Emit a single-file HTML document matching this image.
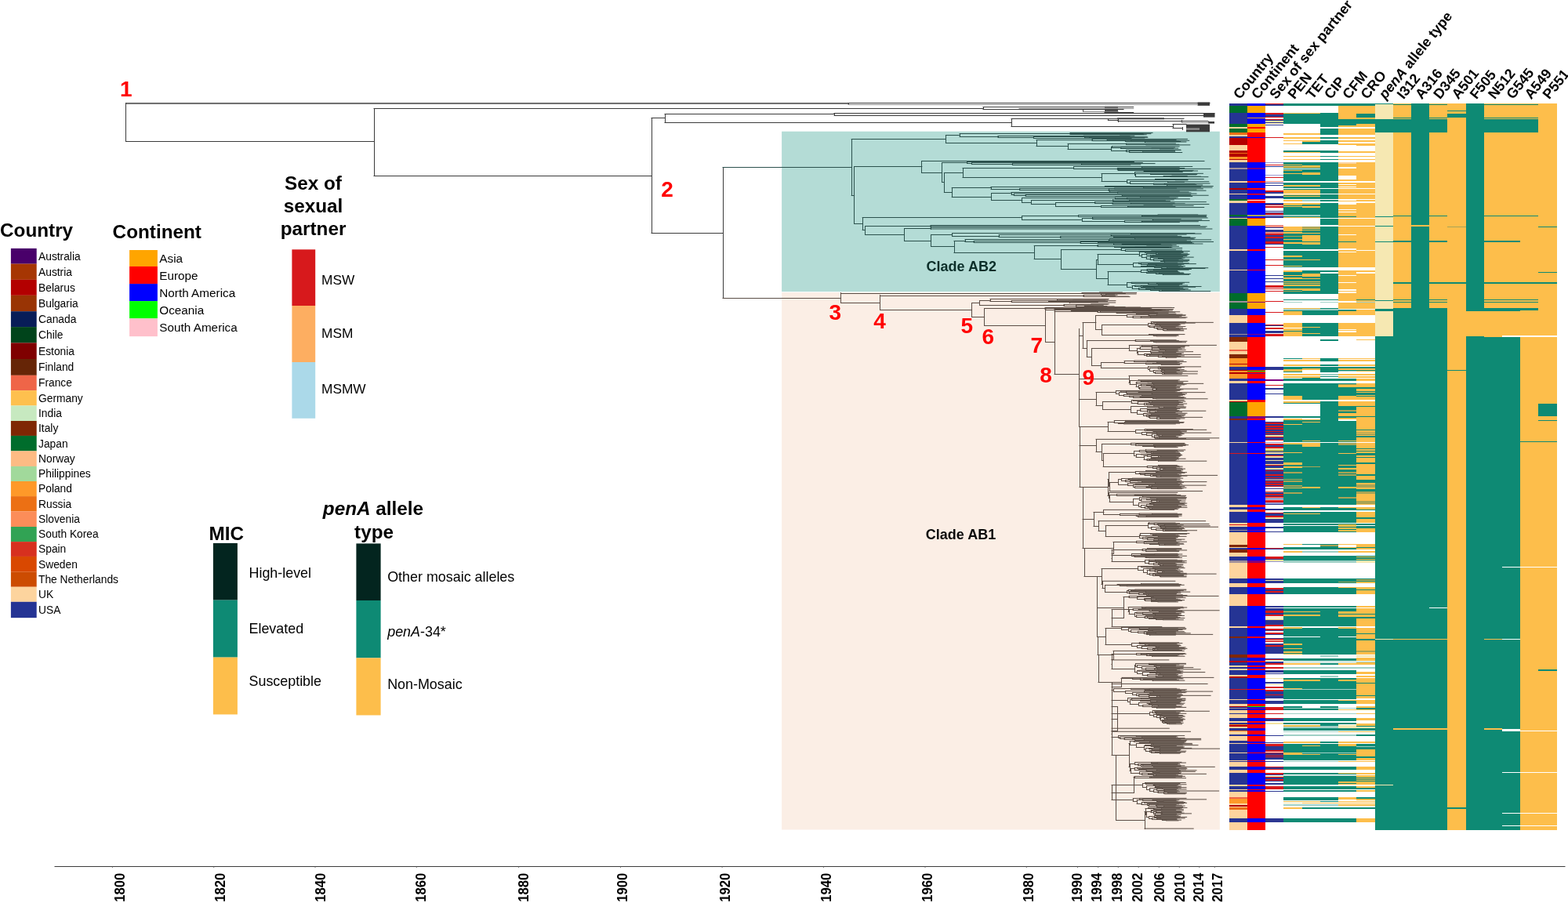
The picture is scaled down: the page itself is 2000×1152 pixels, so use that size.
<!DOCTYPE html>
<html><head><meta charset="utf-8"><title>Phylogeny</title>
<style>
html,body{margin:0;padding:0;background:#fff;}
body{width:2000px;height:1152px;overflow:hidden;position:relative;}
svg{position:absolute;left:0;top:0;}
text{font-family:'Liberation Sans', Arial, Helvetica, sans-serif;fill:#000;}
</style></head><body>
<svg width="2000" height="1152" viewBox="0 0 2000 1152">
<rect x="997.1" y="167.7" width="558.7" height="204.4" fill="#b4dcd6"/>
<rect x="997.1" y="373.1" width="558.7" height="685.4" fill="#fbeee5"/>
<rect x="160.8" y="130.9" width="921.2" height="2.0" fill="#6a6a6a"/>
<rect x="1527.6" y="130.4" width="15.4" height="4.4" fill="#3b3b3b"/>
<rect x="1409.0" y="140.2" width="17.0" height="3.0" fill="#3b3b3b"/>
<rect x="1409.0" y="135.8" width="17.0" height="1.8" fill="#3b3b3b"/>
<rect x="1535.0" y="144.5" width="14.5" height="5.1" fill="#3b3b3b"/>
<rect x="1425.0" y="150.3" width="60.0" height="2.0" fill="#3b3b3b"/>
<rect x="1541.0" y="155.0" width="8.0" height="2.6" fill="#3b3b3b"/>
<rect x="1513.0" y="158.6" width="30.0" height="9.7" fill="#3b3b3b"/>
<rect x="1513.0" y="163.3" width="17.0" height="2.5" fill="#8a8a8a"/>
<path d="M1082.0 131.50H1543.0M160.8 180.50H477.0M477.0 138.50H1254.0M1254.0 136.50H1445.7M1254.0 139.50H1381.8M1381.8 139.50H1433.0M1409.0 143.50H1445.7M477.0 224.50H831.0M831.0 150.50H848.0M848.0 145.50H1064.0M1064.0 144.50H1549.0M1064.0 147.50H1535.0M848.0 156.50H1290.0M1290.0 151.50H1413.3M1413.3 151.50H1510.0M1413.3 153.50H1426.0M1426.0 154.50H1507.4M1507.4 154.50H1541.0M1290.0 161.50H1496.0M1496.0 158.50H1513.0M1496.0 163.50H1508.0M831.0 297.50H922.0M160.5 131.5V180.5M1082.5 131.5V133.5M477.5 138.5V224.5M1254.5 136.5V139.5M1381.5 139.5V142.5M831.5 150.5V297.5M848.5 145.5V156.5M1064.5 144.5V147.5M1290.5 151.5V161.5M1413.5 151.5V153.5M1426.5 152.5V155.5M1507.5 153.5V156.5M1496.5 158.5V163.5M1508.5 162.5V165.5M922.5 213.5V380.5" stroke="#3b3b3b" stroke-width="1" fill="none" stroke-linecap="square"/>
<path d="M1082.0 133.50H1527.6M1300.0 138.50H1445.7M1381.8 142.50H1426.0M1507.4 156.50H1541.0" stroke="#8a8a8a" stroke-width="1" fill="none" stroke-linecap="square"/>
<path d="M922.0 213.50H1086.2M1224.0 170.50H1365.0M1365.0 169.40H1470.0M1365.0 171.50H1365.8M1365.8 170.50H1418.6M1418.6 170.45H1457.9M1418.6 170.68H1467.8M1365.8 171.50H1428.7M1428.7 171.65H1458.9M1428.7 171.80H1462.2M1224.0 174.50H1273.0M1273.0 173.50H1382.3M1382.3 173.20H1446.8M1382.3 173.67H1441.1M1273.0 175.50H1318.4M1318.4 174.50H1383.7M1383.7 174.71H1463.1M1383.7 175.24H1463.8M1318.4 176.50H1389.5M1389.5 175.92H1459.8M1389.5 176.40H1443.0M1206.4 172.50H1224.0M1322.0 178.50H1393.0M1393.0 177.40H1514.4M1393.0 179.50H1412.1M1412.1 178.35H1500.0M1412.1 179.50H1435.4M1435.4 179.30H1516.7M1435.4 180.50H1442.9M1442.9 179.93H1503.4M1442.9 180.50H1460.3M1460.3 180.48H1505.7M1460.3 181.00H1512.9M1322.0 186.50H1362.0M1362.0 183.50H1436.7M1436.7 183.00H1499.4M1436.7 184.50H1461.9M1461.9 184.30H1503.8M1461.9 184.90H1517.8M1362.0 190.50H1417.8M1417.8 187.50H1418.6M1418.6 186.88H1504.1M1418.6 188.50H1430.0M1430.0 188.12H1498.4M1430.0 189.50H1469.1M1469.1 189.16H1502.6M1469.1 189.58H1496.7M1417.8 192.50H1436.9M1436.9 191.50H1479.5M1479.5 191.19H1505.4M1479.5 191.44H1506.1M1436.9 193.50H1440.8M1440.8 192.76H1498.5M1440.8 194.50H1457.6M1457.6 193.80H1498.6M1457.6 194.50H1507.7M1206.4 182.50H1322.0M1086.2 177.50H1206.4M1175.9 205.50H1536.0M1201.6 207.50H1233.8M1233.8 206.50H1446.3M1233.8 208.50H1239.4M1239.4 207.47H1457.3M1239.4 209.50H1291.4M1291.4 208.59H1473.0M1291.4 210.50H1379.9M1379.9 209.96H1454.8M1379.9 210.50H1441.7M1228.0 214.50H1369.6M1369.6 212.50H1456.3M1456.3 212.50H1520.7M1456.3 213.12H1504.2M1369.6 215.50H1425.4M1425.4 214.50H1510.7M1425.4 216.50H1426.2M1426.2 215.38H1544.0M1426.2 217.50H1427.0M1427.0 216.41H1504.1M1427.0 217.50H1459.1M1459.1 217.46H1522.1M1459.1 218.50H1459.9M1459.9 217.98H1527.5M1459.9 218.50H1520.6M1228.0 226.50H1405.0M1405.0 221.50H1447.6M1447.6 219.50H1508.2M1447.6 223.50H1448.4M1448.4 221.50H1467.6M1467.6 221.33H1534.4M1467.6 222.50H1495.0M1495.0 222.42H1526.7M1495.0 222.86H1525.6M1448.4 225.50H1484.2M1484.2 224.65H1514.2M1484.2 225.50H1492.9M1492.9 225.23H1531.4M1492.9 225.66H1540.9M1405.0 231.50H1438.0M1438.0 229.50H1473.5M1473.5 228.51H1535.2M1473.5 229.50H1499.4M1499.4 229.34H1514.7M1499.4 229.77H1515.0M1438.0 233.50H1441.8M1441.8 231.50H1489.5M1489.5 231.76H1541.8M1489.5 232.21H1510.4M1441.8 234.50H1471.5M1471.5 234.07H1543.0M1471.5 235.50H1485.1M1485.1 234.98H1523.9M1485.1 235.50H1488.7M1488.7 235.52H1525.8M1488.7 236.00H1533.7M1204.4 220.50H1228.0M1214.2 239.50H1264.0M1264.0 238.50H1409.4M1409.4 237.50H1547.2M1409.4 238.50H1458.8M1458.8 238.71H1531.4M1458.8 239.20H1546.0M1264.0 241.50H1300.8M1300.8 240.50H1421.7M1421.7 240.05H1500.5M1421.7 240.89H1534.3M1300.8 242.50H1414.2M1414.2 242.00H1525.9M1414.2 243.50H1415.3M1415.3 243.13H1538.0M1415.3 244.00H1504.2M1264.6 246.50H1290.0M1290.0 245.50H1425.7M1425.7 245.00H1516.1M1425.7 246.02H1518.9M1290.0 248.50H1293.3M1293.3 247.04H1526.0M1293.3 249.50H1308.2M1308.2 248.50H1431.2M1431.2 248.55H1518.7M1431.2 249.25H1541.1M1308.2 250.50H1454.9M1454.9 250.46H1520.7M1454.9 251.00H1491.1M1264.6 255.50H1303.8M1303.8 252.50H1422.4M1422.4 252.00H1502.2M1422.4 253.50H1437.6M1437.6 253.00H1499.8M1437.6 253.80H1517.4M1303.8 258.50H1315.4M1315.4 255.50H1419.8M1419.8 254.96H1497.2M1419.8 256.50H1440.9M1440.9 255.77H1486.4M1440.9 256.29H1492.3M1315.4 260.50H1346.6M1346.6 258.50H1396.8M1396.8 257.63H1538.3M1396.8 259.50H1419.0M1419.0 259.09H1498.0M1419.0 260.50H1442.3M1442.3 259.95H1511.1M1442.3 260.56H1541.9M1346.6 263.50H1404.5M1404.5 262.50H1459.1M1459.1 262.06H1495.3M1459.1 262.41H1522.1M1404.5 264.50H1438.5M1438.5 263.80H1498.9M1438.5 264.50H1535.7M1214.2 251.50H1264.6M1204.4 245.50H1214.2M1201.6 232.50H1204.4M1175.9 220.50H1201.6M1089.6 212.50H1175.9M1100.2 277.50H1303.8M1303.8 275.50H1375.6M1375.6 274.50H1477.1M1477.1 274.00H1527.7M1477.1 274.38H1538.9M1375.6 276.50H1456.7M1456.7 275.76H1538.3M1456.7 276.54H1538.6M1303.8 280.50H1380.3M1380.3 278.50H1393.8M1393.8 277.93H1540.1M1393.8 279.50H1470.2M1470.2 279.57H1506.0M1470.2 280.07H1532.7M1380.3 282.50H1434.4M1434.4 281.45H1542.4M1434.4 283.50H1456.3M1456.3 282.72H1528.3M1456.3 283.50H1504.3M1103.6 288.50H1187.0M1187.0 287.50H1530.4M1187.0 289.00H1539.2M1153.5 291.50H1187.0M1187.0 290.00H1537.4M1187.0 292.00H1545.9M1187.6 299.50H1214.8M1214.8 297.50H1442.6M1442.6 297.50H1523.8M1442.6 298.11H1532.1M1214.8 301.50H1274.1M1274.1 299.50H1417.0M1417.0 299.20H1513.1M1417.0 300.11H1501.4M1274.1 302.50H1352.9M1352.9 301.50H1420.7M1420.7 301.41H1506.8M1420.7 302.40H1517.9M1352.9 303.50H1447.5M1447.5 303.32H1524.7M1447.5 304.00H1522.0M1217.0 307.50H1231.0M1231.0 305.50H1415.5M1415.5 305.00H1523.3M1415.5 305.88H1544.6M1231.0 308.50H1242.2M1242.2 307.50H1414.2M1414.2 306.84H1513.3M1414.2 307.84H1518.6M1242.2 309.50H1378.2M1378.2 308.50H1400.7M1400.7 308.49H1547.5M1400.7 309.38H1520.2M1378.2 310.50H1420.5M1420.5 310.33H1522.5M1420.5 311.00H1533.9M1319.2 313.50H1400.0M1400.0 312.50H1431.3M1431.3 311.50H1480.3M1431.3 312.50H1451.8M1451.8 312.26H1493.8M1451.8 312.50H1462.9M1462.9 312.66H1500.2M1462.9 312.90H1494.9M1400.0 314.50H1421.7M1421.7 314.32H1503.5M1421.7 315.50H1448.0M1448.0 315.20H1493.5M1448.0 315.50H1461.2M1461.2 315.75H1490.5M1461.2 316.00H1494.9M1353.4 318.50H1430.0M1430.0 316.50H1507.6M1430.0 319.50H1435.4M1435.4 318.50H1468.8M1468.8 318.52H1499.5M1468.8 318.98H1507.5M1435.4 320.50H1469.4M1469.4 320.48H1517.2M1469.4 321.00H1504.3M1461.0 321.50H1508.9M1461.0 322.24H1509.1M1453.1 321.50H1461.0M1474.9 322.98H1514.7M1477.8 323.71H1506.2M1477.8 324.45H1516.9M1474.9 324.50H1477.8M1462.6 323.50H1474.9M1467.6 325.19H1515.1M1470.8 325.93H1513.1M1470.8 326.67H1513.7M1467.6 326.50H1470.8M1462.6 325.50H1467.6M1456.2 324.50H1462.6M1462.2 327.40H1508.5M1470.9 328.14H1522.2M1470.9 328.88H1511.0M1467.3 328.50H1470.9M1477.6 329.62H1506.9M1484.2 330.36H1508.9M1484.2 331.09H1516.8M1477.6 330.50H1484.2M1471.6 330.50H1477.6M1484.0 331.83H1503.0M1484.0 332.57H1516.7M1480.6 332.50H1484.0M1485.2 333.31H1514.9M1485.2 334.05H1508.6M1480.6 333.50H1485.2M1471.6 332.50H1480.6M1467.3 331.50H1471.6M1462.2 330.50H1467.3M1456.2 328.50H1462.2M1453.1 326.50H1456.2M1400.0 324.50H1453.1M1452.6 335.12H1501.6M1455.4 335.86H1516.3M1464.8 336.60H1525.3M1474.7 337.33H1509.9M1474.7 338.07H1506.6M1464.8 337.50H1474.7M1455.4 337.50H1464.8M1452.6 336.50H1455.4M1445.5 335.50H1452.6M1463.2 338.81H1502.3M1463.2 339.55H1511.4M1455.8 339.50H1463.2M1472.9 340.29H1508.8M1481.8 341.02H1504.4M1488.4 341.76H1540.7M1488.4 342.50H1536.9M1481.8 342.50H1488.4M1472.9 341.50H1481.8M1455.8 340.50H1472.9M1445.5 340.50H1455.8M1400.0 337.50H1445.5M1398.5 331.50H1400.0M1471.4 343.50H1519.3M1471.4 344.25H1516.1M1463.1 343.50H1471.4M1465.0 345.00H1501.7M1467.0 345.75H1501.7M1467.0 346.50H1502.9M1465.0 346.50H1467.0M1463.1 345.50H1465.0M1455.3 344.50H1463.1M1462.5 347.25H1504.4M1474.6 348.00H1509.2M1478.6 348.75H1509.9M1483.3 349.50H1518.3M1483.3 350.25H1516.5M1478.6 349.50H1483.3M1474.6 349.50H1478.6M1462.5 348.50H1474.6M1455.3 347.50H1462.5M1413.0 346.50H1455.3M1443.2 360.25H1516.7M1464.9 361.00H1510.5M1475.4 361.75H1508.4M1477.4 362.50H1507.5M1477.4 363.25H1504.1M1475.4 362.50H1477.4M1464.9 362.50H1475.4M1443.2 361.50H1464.9M1437.9 360.50H1443.2M1447.9 364.00H1514.6M1455.7 364.75H1503.6M1458.0 365.50H1532.0M1472.3 366.25H1524.6M1472.3 367.00H1504.7M1458.0 366.50H1472.3M1455.7 366.50H1458.0M1447.9 365.50H1455.7M1444.1 364.50H1447.9M1452.9 367.75H1508.8M1461.8 368.50H1515.2M1467.5 369.25H1511.0M1478.9 370.00H1518.3M1482.1 370.75H1504.4M1482.1 371.50H1543.7M1478.9 371.50H1482.1M1467.5 370.50H1478.9M1461.8 369.50H1467.5M1452.9 369.50H1461.8M1444.1 368.50H1452.9M1437.9 366.50H1444.1M1413.0 363.50H1437.9M1398.5 355.50H1413.0M1353.4 343.50H1398.5M1319.2 330.50H1353.4M1217.0 322.50H1319.2M1187.6 314.50H1217.0M1153.5 307.50H1187.6M1103.6 299.50H1153.5M1100.2 293.50H1103.6M1089.6 285.50H1100.2M1086.2 249.50H1089.6M1365.5 169.5V171.5M1365.5 170.5V171.5M1418.5 170.5V170.5M1428.5 171.5V171.5M1273.5 173.5V175.5M1382.5 173.5V173.5M1318.5 174.5V176.5M1383.5 174.5V175.5M1389.5 175.5V176.5M1224.5 170.5V174.5M1393.5 177.5V179.5M1412.5 178.5V179.5M1435.5 179.5V180.5M1442.5 179.5V180.5M1460.5 180.5V181.5M1362.5 183.5V190.5M1436.5 183.5V184.5M1461.5 184.5V184.5M1417.5 187.5V192.5M1418.5 186.5V188.5M1429.5 188.5V189.5M1469.5 189.5V189.5M1436.5 191.5V193.5M1479.5 191.5V191.5M1440.5 192.5V194.5M1457.5 193.5V194.5M1322.5 178.5V186.5M1206.5 172.5V182.5M1233.5 206.5V208.5M1239.5 207.5V209.5M1291.5 208.5V210.5M1379.5 209.5V210.5M1369.5 212.5V215.5M1456.5 212.5V213.5M1425.5 214.5V216.5M1426.5 215.5V217.5M1427.5 216.5V217.5M1459.5 217.5V218.5M1459.5 217.5V218.5M1405.5 221.5V231.5M1447.5 219.5V223.5M1448.5 221.5V225.5M1467.5 221.5V222.5M1495.5 222.5V222.5M1484.5 224.5V225.5M1492.5 225.5V225.5M1437.5 229.5V233.5M1473.5 228.5V229.5M1499.5 229.5V229.5M1441.5 231.5V234.5M1489.5 231.5V232.5M1471.5 234.5V235.5M1485.5 234.5V235.5M1488.5 235.5V236.5M1228.5 214.5V226.5M1264.5 238.5V241.5M1409.5 237.5V238.5M1458.5 238.5V239.5M1300.5 240.5V242.5M1421.5 240.5V240.5M1414.5 241.5V243.5M1415.5 243.5V244.5M1290.5 245.5V248.5M1425.5 245.5V246.5M1293.5 247.5V249.5M1308.5 248.5V250.5M1431.5 248.5V249.5M1454.5 250.5V251.5M1303.5 252.5V258.5M1422.5 252.5V253.5M1437.5 252.5V253.5M1315.5 255.5V260.5M1419.5 254.5V256.5M1440.5 255.5V256.5M1346.5 258.5V263.5M1396.5 257.5V259.5M1419.5 259.5V260.5M1442.5 259.5V260.5M1404.5 262.5V264.5M1459.5 262.5V262.5M1438.5 263.5V264.5M1264.5 246.5V255.5M1214.5 239.5V251.5M1204.5 220.5V245.5M1201.5 207.5V232.5M1175.5 205.5V220.5M1303.5 275.5V280.5M1375.5 274.5V276.5M1477.5 274.5V274.5M1456.5 275.5V276.5M1380.5 278.5V282.5M1393.5 277.5V279.5M1470.5 279.5V280.5M1434.5 281.5V283.5M1456.5 282.5V283.5M1187.5 287.5V289.5M1187.5 290.5V292.5M1214.5 297.5V301.5M1442.5 297.5V298.5M1274.5 299.5V302.5M1417.5 299.5V300.5M1352.5 301.5V303.5M1420.5 301.5V302.5M1447.5 303.5V304.5M1231.5 305.5V308.5M1415.5 305.5V305.5M1242.5 307.5V309.5M1414.5 306.5V307.5M1378.5 308.5V310.5M1400.5 308.5V309.5M1420.5 310.5V311.5M1400.5 312.5V314.5M1431.5 311.5V312.5M1451.5 312.5V312.5M1462.5 312.5V312.5M1421.5 314.5V315.5M1447.5 315.5V315.5M1461.5 315.5V316.5M1430.5 316.5V319.5M1435.5 318.5V320.5M1468.5 318.5V318.5M1469.5 320.5V321.5M1460.5 321.5V322.5M1477.5 323.5V324.5M1474.5 322.5V324.5M1470.5 325.5V326.5M1467.5 325.5V326.5M1462.5 323.5V325.5M1470.5 328.5V328.5M1484.5 330.5V331.5M1477.5 329.5V330.5M1484.5 331.5V332.5M1485.5 333.5V334.5M1480.5 332.5V333.5M1471.5 330.5V332.5M1467.5 328.5V331.5M1462.5 327.5V330.5M1456.5 324.5V328.5M1453.5 321.5V326.5M1474.5 337.5V338.5M1464.5 336.5V337.5M1455.5 335.5V337.5M1452.5 335.5V336.5M1463.5 338.5V339.5M1488.5 341.5V342.5M1481.5 341.5V342.5M1472.5 340.5V341.5M1455.5 339.5V340.5M1445.5 335.5V340.5M1400.5 324.5V337.5M1471.5 343.5V344.5M1467.5 345.5V346.5M1464.5 345.5V346.5M1463.5 343.5V345.5M1483.5 349.5V350.5M1478.5 348.5V349.5M1474.5 348.5V349.5M1462.5 347.5V348.5M1455.5 344.5V347.5M1477.5 362.5V363.5M1475.5 361.5V362.5M1464.5 361.5V362.5M1443.5 360.5V361.5M1472.5 366.5V367.5M1457.5 365.5V366.5M1455.5 364.5V366.5M1447.5 364.5V365.5M1482.5 370.5V371.5M1478.5 370.5V371.5M1467.5 369.5V370.5M1461.5 368.5V369.5M1452.5 367.5V369.5M1444.5 364.5V368.5M1437.5 360.5V366.5M1413.5 346.5V363.5M1398.5 331.5V355.5M1353.5 318.5V343.5M1319.5 313.5V330.5M1217.5 307.5V322.5M1187.5 299.5V314.5M1153.5 291.5V307.5M1103.5 288.5V299.5M1100.5 277.5V293.5M1089.5 212.5V285.5M1086.5 177.5V249.5" stroke="#2c514d" stroke-width="1" fill="none" stroke-linecap="square"/>
<path d="M922.0 380.50H1072.6M1072.6 374.50H1380.0M1380.0 373.50H1402.5M1402.5 373.00H1431.3M1402.5 373.48H1449.6M1380.0 374.50H1404.4M1404.4 374.59H1435.4M1404.4 375.00H1449.2M1072.6 386.50H1122.5M1122.5 377.50H1382.0M1382.0 376.50H1410.8M1410.8 375.80H1421.5M1410.8 376.25H1425.0M1382.0 378.50H1405.7M1405.7 377.69H1422.3M1405.7 378.50H1416.0M1416.0 378.15H1439.4M1416.0 378.60H1441.0M1122.5 395.50H1239.6M1239.6 386.50H1249.5M1249.5 383.50H1263.0M1263.0 381.50H1349.0M1349.0 381.50H1414.1M1349.0 382.05H1413.2M1263.0 384.50H1290.2M1290.2 383.50H1368.9M1368.9 383.31H1409.8M1368.9 383.66H1422.9M1290.2 385.50H1337.9M1337.9 384.56H1412.6M1337.9 385.50H1364.1M1364.1 385.53H1400.4M1364.1 386.00H1422.7M1249.5 389.50H1357.0M1357.0 388.50H1391.9M1391.9 388.00H1414.4M1391.9 388.37H1412.5M1357.0 390.50H1372.9M1372.9 389.69H1407.2M1372.9 391.50H1383.3M1383.3 390.50H1394.1M1394.1 390.63H1411.8M1394.1 391.00H1421.0M1383.3 391.50H1397.9M1397.9 391.63H1435.1M1397.9 392.00H1454.4M1239.6 404.50H1255.6M1255.6 393.50H1333.0M1333.0 392.50H1439.0M1439.0 392.40H1494.0M1439.0 392.54H1497.6M1333.0 394.50H1333.8M1333.8 393.50H1424.8M1424.8 393.67H1467.0M1424.8 393.81H1468.8M1333.8 395.50H1408.9M1408.9 394.50H1425.7M1425.7 394.78H1495.3M1425.7 394.93H1482.6M1408.9 395.50H1439.0M1439.0 395.26H1461.5M1439.0 395.40H1479.0M1255.6 415.50H1333.5M1333.5 395.50H1345.0M1345.0 394.50H1430.2M1430.2 394.60H1496.4M1430.2 394.83H1486.3M1345.0 395.50H1366.4M1366.4 395.52H1480.9M1366.4 396.50H1425.8M1425.8 396.03H1495.3M1425.8 396.40H1490.7M1333.5 436.50H1345.0M1345.0 397.50H1400.0M1400.0 396.50H1445.0M1445.0 396.60H1489.9M1445.0 396.95H1472.2M1400.0 398.50H1403.0M1403.0 397.82H1504.7M1403.0 398.50H1424.2M1424.2 398.63H1498.9M1424.2 399.50H1459.3M1459.3 399.22H1490.1M1459.3 399.40H1476.5M1345.0 477.50H1376.4M1449.4 400.40H1499.8M1465.0 401.15H1508.0M1475.7 401.90H1512.2M1475.7 402.65H1511.7M1465.0 402.50H1475.7M1449.4 401.50H1465.0M1437.3 401.50H1449.4M1467.4 403.40H1506.9M1467.4 404.15H1503.6M1445.0 403.50H1467.4M1455.0 404.90H1514.0M1455.0 405.65H1512.1M1445.0 405.50H1455.0M1437.3 404.50H1445.0M1397.9 402.50H1437.3M1471.5 410.61H1512.6M1471.5 411.36H1547.3M1468.1 410.50H1471.5M1469.2 412.11H1524.2M1475.7 412.86H1511.2M1475.7 413.61H1504.3M1473.4 413.50H1475.7M1479.6 414.36H1505.8M1479.6 415.11H1503.9M1473.4 414.50H1479.6M1469.2 413.50H1473.4M1468.1 413.50H1469.2M1464.8 412.50H1468.1M1466.2 415.86H1502.0M1481.8 416.61H1511.9M1481.8 417.36H1499.2M1472.1 416.50H1481.8M1475.6 418.11H1508.5M1476.7 418.86H1503.6M1488.7 419.61H1513.4M1488.7 420.36H1505.2M1483.9 419.50H1488.7M1485.1 421.11H1509.4M1485.1 421.86H1509.8M1483.9 421.50H1485.1M1476.7 420.50H1483.9M1475.6 419.50H1476.7M1472.1 418.50H1475.6M1466.2 417.50H1472.1M1464.8 416.50H1466.2M1405.8 414.50H1464.8M1465.7 426.59H1510.9M1471.3 427.34H1502.4M1475.2 428.09H1503.2M1475.2 428.84H1500.3M1471.3 428.50H1475.2M1465.7 427.50H1471.3M1405.8 427.50H1465.7M1397.9 420.50H1405.8M1381.0 411.50H1397.9M1448.2 433.81H1500.1M1467.9 434.56H1503.3M1471.7 435.31H1513.8M1474.3 436.06H1507.2M1474.3 436.81H1512.5M1471.7 436.50H1474.3M1467.9 435.50H1471.7M1448.2 435.50H1467.9M1386.3 434.50H1448.2M1456.6 440.40H1551.4M1456.6 441.15H1516.7M1440.3 440.50H1456.6M1469.1 441.90H1511.4M1477.1 442.65H1510.6M1478.5 443.40H1505.6M1478.5 444.15H1510.8M1477.1 443.50H1478.5M1469.1 443.50H1477.1M1454.0 442.50H1469.1M1469.2 444.90H1507.2M1479.6 445.65H1502.0M1486.8 446.40H1512.1M1486.8 447.15H1501.3M1479.6 446.50H1486.8M1469.2 446.50H1479.6M1454.0 445.50H1469.2M1450.3 444.50H1454.0M1467.7 447.90H1502.9M1478.0 448.65H1521.5M1483.4 449.40H1499.8M1483.4 450.15H1509.4M1478.0 449.50H1483.4M1467.7 449.50H1478.0M1451.1 448.50H1467.7M1468.7 450.90H1506.5M1468.7 451.65H1506.7M1459.5 451.50H1468.7M1466.2 452.40H1531.2M1466.2 453.15H1502.2M1463.0 452.50H1466.2M1477.4 453.90H1510.3M1482.7 454.65H1505.8M1487.2 455.40H1531.2M1487.2 456.15H1500.4M1482.7 455.50H1487.2M1477.4 455.50H1482.7M1463.0 454.50H1477.4M1459.5 453.50H1463.0M1451.1 452.50H1459.5M1450.3 450.50H1451.1M1440.3 447.50H1450.3M1392.4 444.50H1440.3M1447.0 460.08H1509.2M1463.2 460.83H1500.8M1476.0 461.58H1513.0M1476.0 462.33H1504.1M1463.2 461.50H1476.0M1447.0 461.50H1463.2M1434.1 460.50H1447.0M1461.5 463.08H1501.4M1471.0 463.83H1507.5M1481.3 464.58H1504.9M1481.3 465.33H1504.7M1471.0 464.50H1481.3M1461.5 464.50H1471.0M1434.1 463.50H1461.5M1404.4 462.50H1434.1M1464.5 467.85H1531.6M1479.5 468.60H1510.4M1479.5 469.35H1506.4M1477.4 468.50H1479.5M1482.8 470.10H1502.1M1482.8 470.85H1500.1M1477.4 470.50H1482.8M1466.6 469.50H1477.4M1481.9 471.60H1510.1M1485.3 472.35H1504.4M1485.3 473.10H1513.0M1481.9 472.50H1485.3M1471.3 472.50H1481.9M1481.0 473.85H1527.5M1481.0 474.60H1500.2M1473.5 474.50H1481.0M1484.4 475.35H1508.1M1484.4 476.10H1501.8M1482.5 475.50H1484.4M1485.8 476.85H1527.1M1485.8 477.60H1507.2M1482.5 477.50H1485.8M1473.5 476.50H1482.5M1471.3 475.50H1473.5M1466.6 473.50H1471.3M1464.5 471.50H1466.6M1404.4 469.50H1464.5M1392.4 466.50H1404.4M1386.3 455.50H1392.4M1381.0 444.50H1386.3M1376.4 428.50H1381.0M1440.0 479.40H1514.8M1452.0 484.85H1504.3M1455.2 485.60H1502.2M1455.2 486.35H1515.0M1452.0 485.50H1455.2M1441.0 485.50H1452.0M1464.1 487.10H1502.2M1464.1 487.85H1509.0M1449.9 487.50H1464.1M1469.8 488.60H1508.5M1471.6 489.35H1534.7M1471.6 490.10H1513.0M1469.8 489.50H1471.6M1449.9 489.50H1469.8M1449.1 488.50H1449.9M1455.3 490.85H1510.5M1462.5 491.60H1500.4M1468.3 492.35H1506.2M1472.1 493.10H1499.3M1472.1 493.85H1504.5M1468.3 493.50H1472.1M1462.5 492.50H1468.3M1455.3 492.50H1462.5M1452.6 491.50H1455.3M1453.8 494.60H1504.7M1476.0 495.35H1500.1M1476.0 496.10H1527.6M1470.1 495.50H1476.0M1474.9 496.85H1509.0M1474.9 497.60H1506.0M1470.1 497.50H1474.9M1453.8 496.50H1470.1M1452.6 495.50H1453.8M1449.1 493.50H1452.6M1441.0 490.50H1449.1M1440.0 488.50H1441.0M1376.4 483.50H1440.0M1429.7 498.40H1504.4M1429.7 499.14H1501.2M1423.4 498.50H1429.7M1436.9 499.88H1499.0M1452.2 500.63H1537.0M1469.1 501.37H1507.4M1469.1 502.11H1513.5M1452.2 501.50H1469.1M1436.9 501.50H1452.2M1427.4 500.50H1436.9M1437.9 502.85H1509.7M1456.6 503.59H1511.4M1456.6 504.34H1508.3M1437.9 503.50H1456.6M1433.3 503.50H1437.9M1440.7 505.08H1505.2M1445.8 505.82H1502.7M1454.1 506.56H1510.1M1470.8 507.30H1512.3M1474.9 508.04H1509.2M1474.9 508.79H1540.1M1470.8 508.50H1474.9M1454.1 507.50H1470.8M1445.8 507.50H1454.1M1440.7 506.50H1445.8M1433.3 505.50H1440.7M1427.4 504.50H1433.3M1423.4 502.50H1427.4M1398.0 500.50H1423.4M1446.0 510.61H1510.1M1446.0 511.35H1502.8M1443.2 510.50H1446.0M1465.9 512.09H1511.8M1469.4 512.83H1505.3M1469.4 513.57H1508.3M1465.9 513.50H1469.4M1451.0 512.50H1465.9M1462.6 514.32H1503.4M1462.6 515.06H1513.6M1459.6 514.50H1462.6M1467.9 515.80H1503.1M1471.7 516.54H1509.2M1471.7 517.28H1501.4M1467.9 516.50H1471.7M1459.6 516.50H1467.9M1451.0 515.50H1459.6M1443.2 514.50H1451.0M1406.4 512.50H1443.2M1463.7 518.28H1510.0M1478.1 519.02H1512.6M1484.9 519.76H1500.0M1484.9 520.50H1512.0M1478.1 520.50H1484.9M1463.7 519.50H1478.1M1442.5 518.50H1463.7M1463.3 521.25H1504.8M1473.8 521.99H1501.2M1473.8 522.73H1500.6M1463.3 522.50H1473.8M1455.0 521.50H1463.3M1476.6 523.47H1503.9M1476.6 524.21H1537.8M1463.7 523.50H1476.6M1466.6 524.96H1502.4M1473.4 525.70H1507.4M1473.4 526.44H1499.1M1466.6 526.50H1473.4M1463.7 525.50H1466.6M1455.0 524.50H1463.7M1450.6 523.50H1455.0M1459.7 527.18H1514.0M1459.7 527.92H1512.0M1458.5 527.50H1459.7M1468.8 528.66H1502.2M1468.8 529.41H1511.4M1462.9 529.50H1468.8M1478.2 530.15H1505.6M1478.2 530.89H1509.9M1465.1 530.50H1478.2M1466.7 531.63H1507.1M1479.5 532.37H1533.6M1479.5 533.12H1500.0M1475.9 532.50H1479.5M1479.6 533.86H1510.9M1479.6 534.60H1505.0M1475.9 534.50H1479.6M1466.7 533.50H1475.9M1465.1 532.50H1466.7M1462.9 531.50H1465.1M1458.5 530.50H1462.9M1450.6 528.50H1458.5M1442.5 526.50H1450.6M1406.4 522.50H1442.5M1398.0 517.50H1406.4M1376.6 509.50H1398.0M1435.6 536.40H1503.2M1462.6 537.15H1503.2M1462.6 537.90H1503.8M1435.6 537.50H1462.6M1421.2 536.50H1435.6M1434.7 538.65H1510.1M1434.7 539.40H1509.2M1426.4 539.50H1434.7M1433.7 540.15H1504.6M1433.7 540.90H1499.3M1426.4 540.50H1433.7M1421.2 539.50H1426.4M1413.0 538.50H1421.2M1462.7 547.60H1521.3M1462.7 548.35H1538.7M1460.2 547.50H1462.7M1470.0 549.10H1513.4M1470.0 549.85H1505.1M1460.2 549.50H1470.0M1448.8 548.50H1460.2M1471.2 550.60H1513.2M1475.3 551.35H1506.9M1475.3 552.10H1544.7M1471.2 551.50H1475.3M1456.5 551.50H1471.2M1462.6 552.85H1508.2M1475.8 553.60H1510.1M1475.8 554.35H1505.5M1469.3 553.50H1475.8M1478.0 555.10H1507.6M1482.5 555.85H1505.8M1482.5 556.60H1499.7M1478.0 556.50H1482.5M1472.4 555.50H1478.0M1475.7 557.35H1502.8M1475.7 558.10H1501.8M1473.6 557.50H1475.7M1478.7 558.85H1554.7M1478.7 559.60H1512.5M1473.6 559.50H1478.7M1472.4 558.50H1473.6M1469.3 557.50H1472.4M1462.6 555.50H1469.3M1456.5 554.50H1462.6M1448.8 552.50H1456.5M1413.0 550.50H1448.8M1377.0 544.50H1413.0M1398.0 560.40H1542.5M1442.7 565.43H1510.8M1451.8 566.18H1510.6M1451.8 566.93H1512.6M1449.0 566.50H1451.8M1471.8 567.68H1515.5M1471.8 568.43H1512.0M1457.6 568.50H1471.8M1472.2 569.18H1508.2M1473.2 569.93H1500.1M1473.2 570.68H1502.1M1472.2 570.50H1473.2M1457.6 569.50H1472.2M1449.0 568.50H1457.6M1442.7 567.50H1449.0M1405.4 566.50H1442.7M1461.4 573.95H1511.7M1476.2 574.70H1501.7M1476.2 575.45H1509.4M1461.4 575.50H1476.2M1453.3 574.50H1461.4M1463.0 576.20H1502.9M1468.7 576.95H1499.1M1470.3 577.70H1504.4M1470.3 578.45H1505.1M1468.7 578.50H1470.3M1463.0 577.50H1468.7M1453.3 576.50H1463.0M1446.8 575.50H1453.3M1455.7 579.20H1505.1M1455.7 579.95H1506.6M1449.1 579.50H1455.7M1463.6 580.70H1507.7M1480.3 581.45H1505.8M1480.3 582.20H1504.8M1468.4 581.50H1480.3M1477.9 582.95H1500.0M1477.9 583.70H1503.2M1468.4 583.50H1477.9M1463.6 582.50H1468.4M1459.0 581.50H1463.6M1468.1 584.45H1502.7M1473.7 585.20H1512.0M1473.7 585.95H1503.2M1468.1 585.50H1473.7M1463.0 585.50H1468.1M1465.4 586.70H1500.5M1477.9 587.45H1499.2M1477.9 588.20H1538.8M1465.4 587.50H1477.9M1463.0 587.50H1465.4M1459.0 586.50H1463.0M1449.1 583.50H1459.0M1446.8 581.50H1449.1M1407.2 578.50H1446.8M1477.9 593.60H1501.3M1479.0 594.35H1503.7M1479.0 595.10H1508.1M1477.9 594.50H1479.0M1463.3 594.50H1477.9M1470.4 595.85H1504.9M1475.3 596.60H1500.0M1485.7 597.35H1507.8M1485.7 598.10H1511.5M1479.9 597.50H1485.7M1483.9 598.85H1500.3M1483.9 599.60H1508.7M1479.9 599.50H1483.9M1475.3 598.50H1479.9M1470.4 597.50H1475.3M1463.3 596.50H1470.4M1407.2 595.50H1463.3M1405.4 587.50H1407.2M1398.0 576.50H1405.4M1377.0 568.50H1398.0M1461.6 600.40H1505.9M1474.9 601.15H1506.6M1476.8 601.90H1508.2M1476.8 602.65H1513.5M1474.9 602.50H1476.8M1461.6 601.50H1474.9M1448.4 601.50H1461.6M1453.2 603.40H1511.0M1454.9 604.15H1501.3M1460.1 604.90H1506.4M1467.5 605.65H1503.5M1470.9 606.40H1552.6M1475.1 607.15H1513.9M1480.7 607.90H1506.5M1480.7 608.65H1504.9M1475.1 608.50H1480.7M1470.9 607.50H1475.1M1467.5 607.50H1470.9M1460.1 606.50H1467.5M1454.9 605.50H1460.1M1453.2 604.50H1454.9M1448.4 604.50H1453.2M1414.4 602.50H1448.4M1444.5 610.15H1508.7M1444.5 610.90H1500.8M1430.7 610.50H1444.5M1439.3 611.65H1505.0M1439.3 612.40H1500.5M1436.0 612.50H1439.3M1451.4 613.15H1506.9M1451.4 613.90H1504.6M1441.6 613.50H1451.4M1456.8 614.65H1538.9M1473.8 615.40H1509.4M1473.8 616.15H1502.1M1456.8 615.50H1473.8M1441.6 615.50H1456.8M1436.0 614.50H1441.6M1430.7 613.50H1436.0M1426.5 611.50H1430.7M1438.7 616.90H1506.5M1448.4 617.65H1507.8M1466.0 618.40H1504.6M1466.0 619.15H1538.0M1448.4 618.50H1466.0M1445.7 618.50H1448.4M1469.0 619.90H1503.8M1469.0 620.65H1510.8M1447.5 620.50H1469.0M1462.1 621.40H1506.4M1468.7 622.15H1512.9M1476.8 622.90H1509.2M1476.8 623.65H1507.2M1468.7 623.50H1476.8M1462.1 622.50H1468.7M1447.5 622.50H1462.1M1445.7 621.50H1447.5M1438.7 619.50H1445.7M1426.5 618.50H1438.7M1415.2 615.50H1426.5M1415.2 626.58H1533.5M1414.4 620.50H1415.2M1413.0 611.50H1414.4M1414.4 628.48H1501.8M1424.4 630.82H1500.3M1447.2 631.57H1505.7M1457.6 632.32H1512.5M1457.6 633.07H1511.5M1447.2 632.50H1457.6M1424.4 632.50H1447.2M1415.2 631.50H1424.4M1467.3 634.60H1513.3M1467.3 635.35H1512.8M1453.4 634.50H1467.3M1462.6 636.10H1500.9M1475.9 636.85H1512.4M1475.9 637.60H1502.0M1462.6 637.50H1475.9M1455.9 636.50H1462.6M1475.4 638.35H1506.2M1475.4 639.10H1511.8M1469.0 638.50H1475.4M1478.6 639.85H1504.2M1478.6 640.60H1504.2M1469.0 640.50H1478.6M1455.9 639.50H1469.0M1453.4 638.50H1455.9M1445.6 636.50H1453.4M1466.4 641.35H1511.6M1471.7 642.10H1513.7M1471.7 642.85H1509.5M1466.4 642.50H1471.7M1452.6 641.50H1466.4M1471.7 643.60H1511.0M1471.7 644.35H1502.6M1462.6 643.50H1471.7M1466.6 645.10H1513.6M1466.6 645.85H1505.8M1462.6 645.50H1466.6M1455.4 644.50H1462.6M1464.0 646.60H1506.5M1464.0 647.35H1513.9M1460.2 646.50H1464.0M1466.5 648.10H1504.0M1469.3 648.85H1500.5M1469.3 649.60H1502.3M1466.5 649.50H1469.3M1460.2 648.50H1466.5M1455.4 647.50H1460.2M1452.6 646.50H1455.4M1445.6 644.50H1452.6M1415.2 640.50H1445.6M1414.4 635.50H1415.2M1413.0 632.50H1414.4M1381.0 621.50H1413.0M1407.9 650.40H1497.7M1453.1 655.05H1501.4M1469.9 655.80H1507.2M1469.9 656.55H1507.0M1453.1 656.50H1469.9M1428.6 655.50H1453.1M1449.3 657.30H1502.9M1451.8 658.05H1507.1M1462.0 658.80H1502.2M1462.0 659.55H1503.1M1451.8 659.50H1462.0M1449.3 658.50H1451.8M1428.6 657.50H1449.3M1407.9 656.50H1428.6M1395.0 653.50H1407.9M1401.1 664.68H1537.6M1465.7 666.99H1499.0M1472.1 667.74H1504.5M1476.3 668.49H1542.0M1477.5 669.24H1501.1M1485.1 669.99H1509.2M1485.1 670.74H1543.2M1477.5 670.50H1485.1M1476.3 669.50H1477.5M1472.1 669.50H1476.3M1465.7 668.50H1472.1M1464.5 667.50H1465.7M1479.8 671.49H1506.3M1480.8 672.24H1553.5M1487.0 672.99H1503.5M1487.0 673.74H1509.5M1480.8 673.50H1487.0M1479.8 672.50H1480.8M1469.0 672.50H1479.8M1483.0 674.49H1510.9M1483.0 675.24H1507.6M1474.7 674.50H1483.0M1483.4 675.99H1500.3M1486.5 676.74H1526.5M1486.5 677.49H1513.8M1483.4 677.50H1486.5M1474.7 676.50H1483.4M1469.0 675.50H1474.7M1464.5 673.50H1469.0M1410.2 670.50H1464.5M1467.6 680.60H1516.9M1467.6 681.35H1513.6M1454.3 680.50H1467.6M1474.7 682.10H1499.2M1474.7 682.85H1502.9M1470.2 682.50H1474.7M1477.3 683.60H1504.3M1477.3 684.35H1513.0M1470.2 683.50H1477.3M1454.3 683.50H1470.2M1453.4 682.50H1454.3M1461.3 685.10H1502.3M1461.3 685.85H1501.8M1457.7 685.50H1461.3M1472.8 686.60H1499.3M1472.8 687.35H1500.0M1463.8 686.50H1472.8M1471.6 688.10H1510.9M1477.9 688.85H1506.6M1477.9 689.60H1499.7M1471.6 689.50H1477.9M1463.8 688.50H1471.6M1457.7 687.50H1463.8M1453.4 686.50H1457.7M1410.2 684.50H1453.4M1401.1 677.50H1410.2M1395.0 671.50H1401.1M1381.0 662.50H1395.0M1449.7 690.40H1500.0M1461.4 691.15H1513.4M1461.4 691.90H1504.1M1459.3 691.50H1461.4M1477.7 692.65H1501.9M1477.7 693.40H1509.2M1467.0 693.50H1477.7M1478.6 694.15H1509.9M1485.9 694.90H1500.1M1485.9 695.65H1504.2M1478.6 695.50H1485.9M1467.0 694.50H1478.6M1459.3 693.50H1467.0M1449.7 692.50H1459.3M1420.0 691.50H1449.7M1463.5 699.68H1506.8M1475.6 700.43H1506.9M1475.6 701.18H1500.2M1463.5 700.50H1475.6M1457.1 700.50H1463.5M1461.9 701.93H1513.6M1476.3 702.68H1504.0M1476.3 703.43H1503.4M1461.9 703.50H1476.3M1457.1 702.50H1461.9M1418.0 701.50H1457.1M1455.4 706.28H1501.9M1472.7 707.03H1507.8M1472.7 707.78H1503.2M1455.4 707.50H1472.7M1443.8 706.50H1455.4M1445.1 708.53H1502.2M1447.0 709.28H1513.4M1461.1 710.03H1501.7M1462.4 710.78H1504.0M1462.4 711.53H1507.4M1461.1 711.50H1462.4M1447.0 710.50H1461.1M1445.1 709.50H1447.0M1443.8 709.50H1445.1M1418.0 708.50H1443.8M1465.7 714.10H1501.2M1474.0 714.85H1507.8M1474.0 715.60H1513.2M1465.7 715.50H1474.0M1460.9 714.50H1465.7M1478.2 716.35H1507.4M1478.2 717.10H1510.5M1465.1 716.50H1478.2M1474.7 717.85H1513.2M1477.9 718.60H1499.0M1477.9 719.35H1500.7M1474.7 718.50H1477.9M1471.6 718.50H1474.7M1480.0 720.10H1508.9M1483.1 720.85H1508.5M1483.1 721.60H1500.3M1480.0 721.50H1483.1M1471.6 720.50H1480.0M1465.1 719.50H1471.6M1460.9 718.50H1465.1M1418.0 716.50H1460.9M1418.0 712.50H1418.0M1420.0 706.50H1418.0M1383.0 699.50H1420.0M1455.8 722.40H1506.5M1462.8 723.15H1509.3M1462.8 723.90H1503.5M1455.8 723.50H1462.8M1451.7 722.50H1455.8M1470.4 724.65H1511.0M1473.1 725.40H1502.7M1473.1 726.15H1499.3M1470.4 725.50H1473.1M1458.5 725.50H1470.4M1466.9 726.90H1505.0M1473.1 727.65H1501.4M1484.1 728.40H1508.2M1484.1 729.15H1502.9M1476.2 728.50H1484.1M1482.7 729.90H1509.0M1482.7 730.65H1505.1M1476.2 730.50H1482.7M1473.1 729.50H1476.2M1466.9 728.50H1473.1M1463.1 727.50H1466.9M1466.3 731.40H1513.2M1473.9 732.15H1551.1M1473.9 732.90H1513.7M1470.8 732.50H1473.9M1474.0 733.65H1509.4M1479.4 734.40H1509.4M1480.2 735.15H1513.1M1480.2 735.90H1512.9M1479.4 735.50H1480.2M1474.0 734.50H1479.4M1470.8 734.50H1474.0M1466.3 733.50H1470.8M1463.1 732.50H1466.3M1458.5 730.50H1463.1M1451.7 727.50H1458.5M1405.0 725.50H1451.7M1406.0 741.31H1498.9M1455.9 744.79H1503.2M1455.9 745.54H1506.3M1425.1 745.50H1455.9M1428.3 746.29H1510.2M1437.4 747.04H1504.5M1437.4 747.79H1505.0M1428.3 747.50H1437.4M1425.1 746.50H1428.3M1409.6 746.50H1425.1M1447.9 752.10H1512.8M1447.9 752.85H1512.7M1439.2 752.50H1447.9M1442.8 753.60H1509.3M1461.4 754.35H1505.3M1461.4 755.10H1517.7M1442.8 754.50H1461.4M1439.2 754.50H1442.8M1437.7 753.50H1439.2M1440.8 755.85H1501.8M1459.0 756.60H1505.8M1459.0 757.35H1500.6M1452.8 756.50H1459.0M1462.7 758.10H1499.8M1464.7 758.85H1508.2M1464.7 759.60H1513.9M1462.7 759.50H1464.7M1452.8 758.50H1462.7M1440.8 757.50H1452.8M1437.7 756.50H1440.8M1409.6 755.50H1437.7M1406.0 750.50H1409.6M1405.0 745.50H1406.0M1399.8 735.50H1405.0M1440.1 760.40H1554.1M1471.0 761.15H1508.6M1471.0 761.90H1499.3M1451.0 761.50H1471.0M1468.4 762.65H1512.0M1468.4 763.40H1499.5M1459.5 763.50H1468.4M1468.5 764.15H1502.1M1474.3 764.90H1505.2M1474.3 765.65H1510.6M1468.5 765.50H1474.3M1460.8 764.50H1468.5M1468.6 766.40H1507.3M1477.0 767.15H1500.1M1477.0 767.90H1502.4M1468.6 767.50H1477.0M1460.8 766.50H1468.6M1459.5 765.50H1460.8M1451.0 764.50H1459.5M1440.1 762.50H1451.0M1433.0 761.50H1440.1M1456.5 774.27H1508.8M1461.5 775.02H1513.7M1461.5 775.77H1509.7M1456.5 775.50H1461.5M1439.2 774.50H1456.5M1452.2 776.52H1505.0M1452.2 777.27H1501.9M1445.1 776.50H1452.2M1466.1 778.02H1499.8M1469.7 778.77H1555.1M1478.4 779.52H1507.7M1478.4 780.27H1509.6M1469.7 779.50H1478.4M1466.1 779.50H1469.7M1445.1 778.50H1466.1M1440.2 777.50H1445.1M1449.9 781.02H1510.7M1457.6 781.77H1499.3M1471.0 782.52H1506.4M1473.5 783.27H1503.3M1473.5 784.02H1505.3M1471.0 783.50H1473.5M1457.6 783.50H1471.0M1449.9 782.50H1457.6M1447.6 781.50H1449.9M1449.8 784.77H1506.9M1461.5 785.52H1510.4M1463.7 786.27H1501.5M1463.7 787.02H1502.2M1461.5 786.50H1463.7M1460.1 786.50H1461.5M1471.4 787.77H1505.0M1471.4 788.52H1510.8M1466.0 788.50H1471.4M1474.8 789.27H1499.4M1483.5 790.02H1503.0M1483.5 790.77H1509.4M1474.8 790.50H1483.5M1466.0 789.50H1474.8M1460.1 788.50H1466.0M1449.8 787.50H1460.1M1447.6 786.50H1449.8M1440.2 783.50H1447.6M1439.2 780.50H1440.2M1418.0 777.50H1439.2M1418.0 799.60H1481.8M1433.0 788.50H1418.0M1399.8 775.50H1433.0M1430.9 800.40H1511.2M1453.3 801.15H1502.3M1465.7 801.90H1512.8M1465.7 802.65H1512.3M1453.3 802.50H1465.7M1439.7 801.50H1453.3M1464.7 803.40H1508.1M1470.2 804.15H1502.4M1470.2 804.90H1502.4M1464.7 804.50H1470.2M1442.6 803.50H1464.7M1451.5 805.65H1510.2M1459.3 806.40H1499.4M1474.1 807.15H1511.9M1474.1 807.90H1518.3M1462.4 807.50H1474.1M1463.7 808.65H1499.7M1466.7 809.40H1546.7M1466.7 810.15H1499.3M1463.7 809.50H1466.7M1462.4 809.50H1463.7M1459.3 808.50H1462.4M1451.5 807.50H1459.3M1442.6 806.50H1451.5M1439.7 805.50H1442.6M1430.9 803.50H1439.7M1410.0 801.50H1430.9M1453.2 819.85H1503.5M1454.7 820.60H1507.9M1460.6 821.35H1500.4M1460.6 822.10H1501.8M1454.7 821.50H1460.6M1453.2 821.50H1454.7M1443.7 820.50H1453.2M1465.1 822.85H1504.9M1465.1 823.60H1506.0M1450.5 823.50H1465.1M1474.1 824.35H1503.4M1478.3 825.10H1503.3M1478.3 825.85H1512.0M1474.1 825.50H1478.3M1456.2 824.50H1474.1M1463.8 826.60H1510.2M1476.9 827.35H1513.9M1476.9 828.10H1511.5M1470.9 827.50H1476.9M1472.4 828.85H1504.0M1472.4 829.60H1507.3M1470.9 829.50H1472.4M1463.8 828.50H1470.9M1456.2 827.50H1463.8M1450.5 826.50H1456.2M1443.7 824.50H1450.5M1410.0 822.50H1443.7M1400.0 812.50H1410.0M1420.0 830.40H1510.2M1455.2 833.49H1511.2M1455.2 834.24H1512.8M1449.6 833.50H1455.2M1463.0 834.99H1508.9M1466.9 835.74H1503.7M1470.0 836.49H1501.8M1470.0 837.24H1510.9M1466.9 836.50H1470.0M1463.0 836.50H1466.9M1449.6 835.50H1463.0M1418.0 834.50H1449.6M1418.0 841.93H1490.8M1465.6 846.35H1512.3M1474.8 847.10H1512.5M1474.8 847.85H1503.8M1465.6 847.50H1474.8M1448.4 846.50H1465.6M1450.3 848.60H1499.7M1472.2 849.35H1509.7M1474.8 850.10H1499.5M1480.7 850.85H1509.1M1480.7 851.60H1521.8M1474.8 851.50H1480.7M1472.2 850.50H1474.8M1456.4 850.50H1472.2M1476.1 852.35H1509.0M1476.1 853.10H1504.7M1461.5 852.50H1476.1M1472.9 853.85H1531.2M1472.9 854.60H1500.8M1461.5 854.50H1472.9M1456.4 853.50H1461.5M1450.3 851.50H1456.4M1448.4 850.50H1450.3M1447.3 848.50H1448.4M1452.5 855.35H1504.8M1452.5 856.10H1508.7M1450.7 855.50H1452.5M1475.5 856.85H1506.3M1475.5 857.60H1536.8M1466.5 857.50H1475.5M1479.3 858.35H1506.0M1479.3 859.10H1508.3M1466.5 858.50H1479.3M1457.1 857.50H1466.5M1474.5 859.85H1500.0M1477.7 860.60H1502.6M1477.7 861.35H1501.2M1474.5 860.50H1477.7M1463.8 860.50H1474.5M1474.4 862.10H1508.0M1483.4 862.85H1502.4M1483.4 863.60H1505.8M1474.4 863.50H1483.4M1463.8 862.50H1474.4M1457.1 861.50H1463.8M1450.7 859.50H1457.1M1447.3 857.50H1450.7M1418.0 853.50H1447.3M1418.0 847.50H1418.0M1420.0 841.50H1418.0M1401.0 835.50H1420.0M1431.0 864.40H1547.9M1444.7 865.15H1507.8M1454.7 865.90H1509.0M1458.7 866.65H1500.6M1470.1 867.40H1503.4M1470.1 868.15H1510.8M1458.7 867.50H1470.1M1454.7 867.50H1458.7M1444.7 866.50H1454.7M1431.0 865.50H1444.7M1430.0 865.50H1431.0M1418.0 872.44H1540.1M1442.5 878.35H1500.7M1466.1 879.10H1504.4M1466.1 879.85H1513.4M1442.5 879.50H1466.1M1420.3 878.50H1442.5M1460.0 880.60H1511.6M1471.0 881.35H1506.5M1471.0 882.10H1546.6M1460.0 881.50H1471.0M1435.7 881.50H1460.0M1459.9 882.85H1513.3M1466.9 883.60H1511.9M1466.9 884.35H1502.9M1459.9 883.50H1466.9M1444.9 883.50H1459.9M1449.6 885.10H1507.1M1464.2 885.85H1500.7M1464.2 886.60H1508.4M1452.8 886.50H1464.2M1479.3 887.35H1544.1M1479.3 888.10H1506.2M1465.8 887.50H1479.3M1475.8 888.85H1505.3M1475.8 889.60H1505.0M1465.8 889.50H1475.8M1452.8 888.50H1465.8M1449.6 887.50H1452.8M1444.9 886.50H1449.6M1435.7 884.50H1444.9M1420.3 882.50H1435.7M1418.0 880.50H1420.3M1430.0 876.50H1418.0M1418.0 870.50H1430.0M1455.7 890.40H1500.5M1455.7 891.15H1511.8M1438.5 890.50H1455.7M1443.6 891.90H1511.9M1467.4 892.65H1507.3M1467.4 893.40H1511.9M1454.5 893.50H1467.4M1467.5 894.15H1510.6M1475.9 894.90H1505.6M1475.9 895.65H1506.2M1467.5 895.50H1475.9M1454.5 894.50H1467.5M1443.6 893.50H1454.5M1441.3 892.50H1443.6M1463.2 896.40H1504.4M1469.2 897.15H1510.9M1469.2 897.90H1505.8M1463.2 897.50H1469.2M1452.5 896.50H1463.2M1465.3 898.65H1509.2M1477.2 899.40H1499.7M1477.2 900.15H1500.2M1465.3 899.50H1477.2M1457.8 899.50H1465.3M1469.8 900.90H1507.5M1471.7 901.65H1505.7M1475.4 902.40H1512.7M1475.4 903.15H1499.0M1471.7 902.50H1475.4M1469.8 902.50H1471.7M1457.8 901.50H1469.8M1452.5 900.50H1457.8M1441.3 898.50H1452.5M1438.5 895.50H1441.3M1418.0 893.50H1438.5M1472.6 906.54H1510.2M1472.6 907.29H1542.4M1470.1 906.50H1472.6M1475.6 908.04H1499.7M1475.6 908.79H1505.4M1473.2 908.50H1475.6M1474.6 909.54H1504.0M1474.6 910.29H1512.8M1473.2 909.50H1474.6M1470.1 909.50H1473.2M1466.7 908.50H1470.1M1481.8 911.04H1503.5M1481.8 911.79H1502.1M1471.8 911.50H1481.8M1479.7 912.54H1508.3M1479.7 913.29H1509.9M1475.4 912.50H1479.7M1479.6 914.04H1511.2M1484.5 914.79H1502.7M1487.5 915.54H1507.9M1488.7 916.29H1505.3M1488.7 917.04H1509.9M1487.5 916.50H1488.7M1484.5 916.50H1487.5M1480.7 915.50H1484.5M1485.7 917.79H1511.4M1485.7 918.54H1508.7M1482.4 918.50H1485.7M1484.5 919.29H1508.1M1485.4 920.04H1508.7M1485.4 920.79H1505.2M1484.5 920.50H1485.4M1483.7 919.50H1484.5M1485.9 921.54H1506.0M1488.6 922.29H1509.1M1491.5 923.04H1499.7M1491.5 923.79H1507.5M1488.6 923.50H1491.5M1485.9 922.50H1488.6M1483.7 922.50H1485.9M1482.4 921.50H1483.7M1480.7 919.50H1482.4M1479.6 917.50H1480.7M1475.4 915.50H1479.6M1471.8 914.50H1475.4M1466.7 912.50H1471.8M1418.0 910.50H1466.7M1425.0 901.50H1418.0M1418.0 929.21H1491.3M1418.0 933.29H1518.5M1449.3 938.60H1510.7M1449.3 939.35H1500.4M1427.0 938.50H1449.3M1429.0 940.10H1502.0M1456.9 940.85H1499.5M1456.9 941.60H1511.0M1434.1 941.50H1456.9M1444.4 942.35H1531.6M1447.7 943.10H1506.0M1459.1 943.85H1531.7M1459.1 944.60H1513.6M1447.7 944.50H1459.1M1444.4 943.50H1447.7M1434.1 943.50H1444.4M1429.0 942.50H1434.1M1427.0 941.50H1429.0M1418.0 940.50H1427.0M1418.0 936.50H1418.0M1425.0 932.50H1418.0M1418.0 917.50H1425.0M1446.3 945.40H1512.5M1446.3 946.15H1510.4M1441.0 945.50H1446.3M1466.6 946.90H1512.1M1466.6 947.65H1510.2M1453.3 947.50H1466.6M1470.6 948.40H1520.1M1470.6 949.15H1520.7M1453.3 948.50H1470.6M1449.3 948.50H1453.3M1468.7 949.90H1508.1M1468.7 950.65H1528.0M1460.8 950.50H1468.7M1468.1 951.40H1500.4M1479.3 952.15H1508.7M1479.3 952.90H1510.4M1468.1 952.50H1479.3M1460.8 951.50H1468.1M1459.4 951.50H1460.8M1472.0 953.65H1509.1M1472.0 954.40H1519.8M1465.6 954.50H1472.0M1469.1 955.15H1555.5M1479.3 955.90H1506.1M1479.3 956.65H1505.6M1469.1 956.50H1479.3M1465.6 955.50H1469.1M1461.3 954.50H1465.6M1479.3 957.40H1504.5M1479.3 958.15H1512.7M1467.0 957.50H1479.3M1469.0 958.90H1500.9M1473.8 959.65H1511.7M1479.5 960.40H1505.9M1479.5 961.15H1504.6M1473.8 960.50H1479.5M1469.0 960.50H1473.8M1467.0 959.50H1469.0M1461.3 958.50H1467.0M1459.4 956.50H1461.3M1449.3 953.50H1459.4M1441.0 950.50H1449.3M1440.0 948.50H1441.0M1468.8 972.35H1506.9M1476.1 973.10H1512.4M1476.1 973.85H1502.4M1468.8 973.50H1476.1M1447.7 972.50H1468.8M1452.0 974.60H1504.5M1457.7 975.35H1501.8M1457.7 976.10H1505.7M1455.5 975.50H1457.7M1469.7 976.85H1510.9M1471.4 977.60H1506.1M1471.4 978.35H1549.3M1469.7 977.50H1471.4M1455.5 977.50H1469.7M1452.0 976.50H1455.5M1447.7 975.50H1452.0M1441.0 974.50H1447.7M1450.7 979.10H1500.0M1457.7 979.85H1513.1M1457.7 980.60H1513.9M1450.7 980.50H1457.7M1447.1 979.50H1450.7M1452.7 981.35H1503.5M1462.1 982.10H1512.5M1475.4 982.85H1526.0M1475.4 983.60H1505.3M1462.1 983.50H1475.4M1452.7 982.50H1462.1M1447.1 982.50H1452.7M1442.3 980.50H1447.1M1470.2 984.35H1524.3M1478.9 985.10H1506.5M1478.9 985.85H1503.6M1470.2 985.50H1478.9M1453.8 984.50H1470.2M1464.6 986.60H1505.8M1464.6 987.35H1538.4M1456.8 986.50H1464.6M1471.1 988.10H1499.8M1474.9 988.85H1502.6M1474.9 989.60H1507.9M1471.1 989.50H1474.9M1456.8 988.50H1471.1M1453.8 987.50H1456.8M1442.3 986.50H1453.8M1441.0 983.50H1442.3M1440.0 978.50H1441.0M1423.5 963.50H1440.0M1468.2 990.40H1511.4M1468.2 991.15H1507.4M1447.0 990.50H1468.2M1466.8 991.90H1499.1M1466.8 992.65H1512.5M1447.0 992.50H1466.8M1446.0 991.50H1447.0M1460.5 998.54H1512.3M1461.7 999.29H1504.7M1472.7 1000.04H1505.1M1472.7 1000.79H1513.0M1461.7 1000.50H1472.7M1460.5 999.50H1461.7M1457.6 999.50H1460.5M1471.2 1001.54H1502.7M1473.7 1002.29H1500.9M1478.6 1003.04H1506.5M1478.6 1003.79H1504.8M1473.7 1003.50H1478.6M1471.2 1002.50H1473.7M1462.9 1002.50H1471.2M1473.1 1004.54H1513.0M1482.5 1005.29H1502.0M1482.5 1006.04H1506.2M1473.1 1005.50H1482.5M1467.0 1005.50H1473.1M1475.6 1006.79H1513.0M1484.7 1007.54H1500.5M1485.6 1008.29H1502.9M1485.6 1009.04H1554.6M1484.7 1008.50H1485.6M1475.6 1008.50H1484.7M1471.7 1007.50H1475.6M1477.0 1009.79H1504.3M1489.6 1010.54H1501.0M1489.6 1011.29H1513.3M1484.8 1010.50H1489.6M1486.0 1012.04H1512.9M1486.0 1012.79H1511.7M1484.8 1012.50H1486.0M1477.0 1011.50H1484.8M1471.7 1010.50H1477.0M1467.0 1009.50H1471.7M1462.9 1007.50H1467.0M1457.6 1004.50H1462.9M1418.0 1001.50H1457.6M1453.8 1018.35H1513.0M1453.8 1019.10H1499.9M1445.2 1018.50H1453.8M1457.8 1019.85H1538.6M1470.0 1020.60H1503.8M1475.5 1021.35H1500.0M1483.9 1022.10H1502.1M1483.9 1022.85H1509.2M1475.5 1022.50H1483.9M1470.0 1021.50H1475.5M1457.8 1021.50H1470.0M1450.1 1020.50H1457.8M1459.9 1023.60H1511.5M1459.9 1024.35H1513.5M1456.1 1023.50H1459.9M1477.0 1025.10H1509.6M1477.0 1025.85H1503.6M1463.6 1025.50H1477.0M1465.2 1026.60H1500.1M1474.7 1027.35H1507.2M1475.8 1028.10H1511.1M1484.6 1028.85H1499.2M1484.6 1029.60H1508.6M1475.8 1029.50H1484.6M1474.7 1028.50H1475.8M1465.2 1028.50H1474.7M1463.6 1027.50H1465.2M1456.1 1026.50H1463.6M1450.1 1025.50H1456.1M1445.2 1022.50H1450.1M1418.0 1020.50H1445.2M1446.0 1011.50H1418.0M1423.5 1001.50H1446.0M1465.0 1030.40H1513.9M1471.9 1031.15H1507.3M1481.9 1031.90H1504.9M1481.9 1032.65H1509.4M1471.9 1032.50H1481.9M1465.0 1031.50H1471.9M1461.0 1031.50H1465.0M1469.9 1033.40H1499.7M1469.9 1034.15H1509.3M1468.0 1033.50H1469.9M1474.9 1034.90H1505.2M1481.6 1035.65H1506.9M1481.6 1036.40H1507.0M1474.9 1036.50H1481.6M1471.8 1035.50H1474.9M1482.5 1037.15H1510.1M1482.5 1037.90H1519.5M1473.2 1037.50H1482.5M1481.1 1038.65H1500.6M1481.1 1039.40H1506.0M1473.2 1039.50H1481.1M1471.8 1038.50H1473.2M1468.0 1036.50H1471.8M1462.2 1035.50H1468.0M1474.2 1040.15H1500.0M1474.2 1040.90H1502.9M1472.9 1040.50H1474.2M1475.7 1041.65H1505.4M1475.7 1042.40H1513.6M1472.9 1042.50H1475.7M1465.5 1041.50H1472.9M1480.2 1043.15H1504.4M1480.2 1043.90H1511.2M1469.5 1043.50H1480.2M1475.7 1044.65H1500.9M1482.4 1045.40H1501.0M1487.6 1046.15H1506.4M1487.6 1046.90H1503.0M1482.4 1046.50H1487.6M1475.7 1045.50H1482.4M1469.5 1045.50H1475.7M1465.5 1044.50H1469.5M1462.2 1042.50H1465.5M1461.0 1039.50H1462.2M1460.0 1035.50H1461.0M1460.0 1057.10H1522.2M1446.5 1046.50H1460.0M1376.4 509.50H1376.6M1376.6 544.50H1377.0M1377.0 621.50H1381.0M1381.0 699.50H1383.0M1383.0 735.50H1399.8M1399.8 812.50H1400.0M1400.0 835.50H1401.0M1401.0 870.50H1418.0M1418.0 963.50H1423.5M1423.5 1046.50H1446.5M1072.5 373.5V386.5M1380.5 373.5V374.5M1402.5 373.5V373.5M1404.5 374.5V375.5M1122.5 376.5V395.5M1382.5 376.5V378.5M1410.5 375.5V376.5M1405.5 377.5V378.5M1415.5 378.5V378.5M1239.5 386.5V404.5M1249.5 384.5V389.5M1263.5 381.5V384.5M1348.5 381.5V382.5M1290.5 383.5V385.5M1368.5 383.5V383.5M1337.5 384.5V385.5M1364.5 385.5V386.5M1357.5 388.5V390.5M1391.5 388.5V388.5M1372.5 389.5V391.5M1383.5 390.5V391.5M1394.5 390.5V391.5M1397.5 391.5V392.5M1255.5 393.5V415.5M1333.5 392.5V394.5M1439.5 392.5V392.5M1333.5 393.5V395.5M1424.5 393.5V393.5M1408.5 394.5V395.5M1425.5 394.5V394.5M1439.5 395.5V395.5M1333.5 395.5V436.5M1345.5 394.5V395.5M1430.5 394.5V394.5M1366.5 395.5V396.5M1425.5 396.5V396.5M1345.5 396.5V477.5M1400.5 396.5V398.5M1445.5 396.5V396.5M1403.5 397.5V398.5M1424.5 398.5V399.5M1459.5 399.5V399.5M1475.5 401.5V402.5M1465.5 401.5V402.5M1449.5 400.5V401.5M1467.5 403.5V404.5M1455.5 404.5V405.5M1445.5 403.5V405.5M1437.5 401.5V404.5M1471.5 410.5V411.5M1475.5 412.5V413.5M1479.5 414.5V415.5M1473.5 413.5V414.5M1469.5 412.5V413.5M1468.5 410.5V413.5M1481.5 416.5V417.5M1488.5 419.5V420.5M1485.5 421.5V421.5M1483.5 419.5V421.5M1476.5 418.5V420.5M1475.5 418.5V419.5M1472.5 416.5V418.5M1466.5 415.5V417.5M1464.5 412.5V416.5M1475.5 428.5V428.5M1471.5 427.5V428.5M1465.5 426.5V427.5M1405.5 414.5V427.5M1397.5 402.5V420.5M1474.5 436.5V436.5M1471.5 435.5V436.5M1467.5 434.5V435.5M1448.5 433.5V435.5M1456.5 440.5V441.5M1478.5 443.5V444.5M1477.5 442.5V443.5M1469.5 441.5V443.5M1486.5 446.5V447.5M1479.5 445.5V446.5M1469.5 444.5V446.5M1454.5 442.5V445.5M1483.5 449.5V450.5M1478.5 448.5V449.5M1467.5 447.5V449.5M1468.5 450.5V451.5M1466.5 452.5V453.5M1487.5 455.5V456.5M1482.5 454.5V455.5M1477.5 453.5V455.5M1462.5 452.5V454.5M1459.5 451.5V453.5M1451.5 448.5V452.5M1450.5 444.5V450.5M1440.5 440.5V447.5M1475.5 461.5V462.5M1463.5 460.5V461.5M1446.5 460.5V461.5M1481.5 464.5V465.5M1470.5 463.5V464.5M1461.5 463.5V464.5M1434.5 460.5V463.5M1479.5 468.5V469.5M1482.5 470.5V470.5M1477.5 468.5V470.5M1485.5 472.5V473.5M1481.5 471.5V472.5M1481.5 473.5V474.5M1484.5 475.5V476.5M1485.5 476.5V477.5M1482.5 475.5V477.5M1473.5 474.5V476.5M1471.5 472.5V475.5M1466.5 469.5V473.5M1464.5 467.5V471.5M1404.5 462.5V469.5M1392.5 444.5V466.5M1386.5 434.5V455.5M1381.5 411.5V444.5M1455.5 485.5V486.5M1452.5 484.5V485.5M1464.5 487.5V487.5M1471.5 489.5V490.5M1469.5 488.5V489.5M1449.5 487.5V489.5M1472.5 493.5V493.5M1468.5 492.5V493.5M1462.5 491.5V492.5M1455.5 490.5V492.5M1475.5 495.5V496.5M1474.5 496.5V497.5M1470.5 495.5V497.5M1453.5 494.5V496.5M1452.5 491.5V495.5M1449.5 488.5V493.5M1441.5 485.5V490.5M1440.5 479.5V488.5M1429.5 498.5V499.5M1469.5 501.5V502.5M1452.5 500.5V501.5M1436.5 499.5V501.5M1456.5 503.5V504.5M1437.5 502.5V503.5M1474.5 508.5V508.5M1470.5 507.5V508.5M1454.5 506.5V507.5M1445.5 505.5V507.5M1440.5 505.5V506.5M1433.5 503.5V505.5M1427.5 500.5V504.5M1423.5 498.5V502.5M1445.5 510.5V511.5M1469.5 512.5V513.5M1465.5 512.5V513.5M1462.5 514.5V515.5M1471.5 516.5V517.5M1467.5 515.5V516.5M1459.5 514.5V516.5M1451.5 512.5V515.5M1443.5 510.5V514.5M1484.5 519.5V520.5M1478.5 519.5V520.5M1463.5 518.5V519.5M1473.5 521.5V522.5M1463.5 521.5V522.5M1476.5 523.5V524.5M1473.5 525.5V526.5M1466.5 524.5V526.5M1463.5 523.5V525.5M1454.5 521.5V524.5M1459.5 527.5V527.5M1468.5 528.5V529.5M1478.5 530.5V530.5M1479.5 532.5V533.5M1479.5 533.5V534.5M1475.5 532.5V534.5M1466.5 531.5V533.5M1465.5 530.5V532.5M1462.5 529.5V531.5M1458.5 527.5V530.5M1450.5 523.5V528.5M1442.5 518.5V526.5M1406.5 512.5V522.5M1398.5 500.5V517.5M1462.5 537.5V537.5M1435.5 536.5V537.5M1434.5 538.5V539.5M1433.5 540.5V540.5M1426.5 539.5V540.5M1421.5 536.5V539.5M1462.5 547.5V548.5M1469.5 549.5V549.5M1460.5 547.5V549.5M1475.5 551.5V552.5M1471.5 550.5V551.5M1475.5 553.5V554.5M1482.5 555.5V556.5M1478.5 555.5V556.5M1475.5 557.5V558.5M1478.5 558.5V559.5M1473.5 557.5V559.5M1472.5 555.5V558.5M1469.5 553.5V557.5M1462.5 552.5V555.5M1456.5 551.5V554.5M1448.5 548.5V552.5M1413.5 538.5V550.5M1451.5 566.5V566.5M1471.5 567.5V568.5M1473.5 569.5V570.5M1472.5 569.5V570.5M1457.5 568.5V569.5M1448.5 566.5V568.5M1442.5 565.5V567.5M1476.5 574.5V575.5M1461.5 573.5V575.5M1470.5 577.5V578.5M1468.5 576.5V578.5M1462.5 576.5V577.5M1453.5 574.5V576.5M1455.5 579.5V579.5M1480.5 581.5V582.5M1477.5 582.5V583.5M1468.5 581.5V583.5M1463.5 580.5V582.5M1473.5 585.5V585.5M1468.5 584.5V585.5M1477.5 587.5V588.5M1465.5 586.5V587.5M1463.5 585.5V587.5M1459.5 581.5V586.5M1449.5 579.5V583.5M1446.5 575.5V581.5M1478.5 594.5V595.5M1477.5 593.5V594.5M1485.5 597.5V598.5M1483.5 598.5V599.5M1479.5 597.5V599.5M1475.5 596.5V598.5M1470.5 595.5V597.5M1463.5 594.5V596.5M1407.5 578.5V595.5M1405.5 566.5V587.5M1398.5 560.5V576.5M1476.5 601.5V602.5M1474.5 601.5V602.5M1461.5 600.5V601.5M1480.5 607.5V608.5M1475.5 607.5V608.5M1470.5 606.5V607.5M1467.5 605.5V607.5M1460.5 604.5V606.5M1454.5 604.5V605.5M1453.5 603.5V604.5M1448.5 601.5V604.5M1444.5 610.5V610.5M1439.5 611.5V612.5M1451.5 613.5V613.5M1473.5 615.5V616.5M1456.5 614.5V615.5M1441.5 613.5V615.5M1435.5 612.5V614.5M1430.5 610.5V613.5M1465.5 618.5V619.5M1448.5 617.5V618.5M1469.5 619.5V620.5M1476.5 622.5V623.5M1468.5 622.5V623.5M1462.5 621.5V622.5M1447.5 620.5V622.5M1445.5 618.5V621.5M1438.5 616.5V619.5M1426.5 611.5V618.5M1415.5 615.5V626.5M1414.5 602.5V620.5M1457.5 632.5V633.5M1447.5 631.5V632.5M1424.5 630.5V632.5M1467.5 634.5V635.5M1475.5 636.5V637.5M1462.5 636.5V637.5M1475.5 638.5V639.5M1478.5 639.5V640.5M1468.5 638.5V640.5M1455.5 636.5V639.5M1453.5 634.5V638.5M1471.5 642.5V642.5M1466.5 641.5V642.5M1471.5 643.5V644.5M1466.5 645.5V645.5M1462.5 643.5V645.5M1464.5 646.5V647.5M1469.5 648.5V649.5M1466.5 648.5V649.5M1460.5 646.5V648.5M1455.5 644.5V647.5M1452.5 641.5V646.5M1445.5 636.5V644.5M1415.5 631.5V640.5M1414.5 628.5V635.5M1413.5 611.5V632.5M1469.5 655.5V656.5M1453.5 655.5V656.5M1462.5 658.5V659.5M1451.5 658.5V659.5M1449.5 657.5V658.5M1428.5 655.5V657.5M1407.5 650.5V656.5M1485.5 669.5V670.5M1477.5 669.5V670.5M1476.5 668.5V669.5M1472.5 667.5V669.5M1465.5 666.5V668.5M1486.5 672.5V673.5M1480.5 672.5V673.5M1479.5 671.5V672.5M1483.5 674.5V675.5M1486.5 676.5V677.5M1483.5 675.5V677.5M1474.5 674.5V676.5M1468.5 672.5V675.5M1464.5 667.5V673.5M1467.5 680.5V681.5M1474.5 682.5V682.5M1477.5 683.5V684.5M1470.5 682.5V683.5M1454.5 680.5V683.5M1461.5 685.5V685.5M1472.5 686.5V687.5M1477.5 688.5V689.5M1471.5 688.5V689.5M1463.5 686.5V688.5M1457.5 685.5V687.5M1453.5 682.5V686.5M1410.5 670.5V684.5M1401.5 664.5V677.5M1395.5 653.5V671.5M1461.5 691.5V691.5M1477.5 692.5V693.5M1485.5 694.5V695.5M1478.5 694.5V695.5M1466.5 693.5V694.5M1459.5 691.5V693.5M1449.5 690.5V692.5M1475.5 700.5V701.5M1463.5 699.5V700.5M1476.5 702.5V703.5M1461.5 701.5V703.5M1457.5 700.5V702.5M1472.5 707.5V707.5M1455.5 706.5V707.5M1462.5 710.5V711.5M1461.5 710.5V711.5M1447.5 709.5V710.5M1445.5 708.5V709.5M1443.5 706.5V709.5M1473.5 714.5V715.5M1465.5 714.5V715.5M1478.5 716.5V717.5M1477.5 718.5V719.5M1474.5 717.5V718.5M1483.5 720.5V721.5M1479.5 720.5V721.5M1471.5 718.5V720.5M1465.5 716.5V719.5M1460.5 714.5V718.5M1418.5 708.5V716.5M1418.5 701.5V712.5M1420.5 691.5V706.5M1462.5 723.5V723.5M1455.5 722.5V723.5M1473.5 725.5V726.5M1470.5 724.5V725.5M1484.5 728.5V729.5M1482.5 729.5V730.5M1476.5 728.5V730.5M1473.5 727.5V729.5M1466.5 726.5V728.5M1473.5 732.5V732.5M1480.5 735.5V735.5M1479.5 734.5V735.5M1473.5 733.5V734.5M1470.5 732.5V734.5M1466.5 731.5V733.5M1463.5 727.5V732.5M1458.5 725.5V730.5M1451.5 722.5V727.5M1455.5 744.5V745.5M1437.5 747.5V747.5M1428.5 746.5V747.5M1425.5 745.5V746.5M1447.5 752.5V752.5M1461.5 754.5V755.5M1442.5 753.5V754.5M1439.5 752.5V754.5M1458.5 756.5V757.5M1464.5 758.5V759.5M1462.5 758.5V759.5M1452.5 756.5V758.5M1440.5 755.5V757.5M1437.5 753.5V756.5M1409.5 746.5V755.5M1406.5 741.5V750.5M1405.5 725.5V745.5M1470.5 761.5V761.5M1468.5 762.5V763.5M1474.5 764.5V765.5M1468.5 764.5V765.5M1476.5 767.5V767.5M1468.5 766.5V767.5M1460.5 764.5V766.5M1459.5 763.5V765.5M1450.5 761.5V764.5M1440.5 760.5V762.5M1461.5 775.5V775.5M1456.5 774.5V775.5M1452.5 776.5V777.5M1478.5 779.5V780.5M1469.5 778.5V779.5M1466.5 778.5V779.5M1445.5 776.5V778.5M1473.5 783.5V784.5M1470.5 782.5V783.5M1457.5 781.5V783.5M1449.5 781.5V782.5M1463.5 786.5V787.5M1461.5 785.5V786.5M1471.5 787.5V788.5M1483.5 790.5V790.5M1474.5 789.5V790.5M1465.5 788.5V789.5M1460.5 786.5V788.5M1449.5 784.5V787.5M1447.5 781.5V786.5M1440.5 777.5V783.5M1439.5 774.5V780.5M1418.5 777.5V799.5M1433.5 761.5V788.5M1465.5 801.5V802.5M1453.5 801.5V802.5M1470.5 804.5V804.5M1464.5 803.5V804.5M1474.5 807.5V807.5M1466.5 809.5V810.5M1463.5 808.5V809.5M1462.5 807.5V809.5M1459.5 806.5V808.5M1451.5 805.5V807.5M1442.5 803.5V806.5M1439.5 801.5V805.5M1430.5 800.5V803.5M1460.5 821.5V822.5M1454.5 820.5V821.5M1453.5 819.5V821.5M1465.5 822.5V823.5M1478.5 825.5V825.5M1474.5 824.5V825.5M1476.5 827.5V828.5M1472.5 828.5V829.5M1470.5 827.5V829.5M1463.5 826.5V828.5M1456.5 824.5V827.5M1450.5 823.5V826.5M1443.5 820.5V824.5M1410.5 801.5V822.5M1455.5 833.5V834.5M1469.5 836.5V837.5M1466.5 835.5V836.5M1462.5 834.5V836.5M1449.5 833.5V835.5M1474.5 847.5V847.5M1465.5 846.5V847.5M1480.5 850.5V851.5M1474.5 850.5V851.5M1472.5 849.5V850.5M1476.5 852.5V853.5M1472.5 853.5V854.5M1461.5 852.5V854.5M1456.5 850.5V853.5M1450.5 848.5V851.5M1448.5 846.5V850.5M1452.5 855.5V856.5M1475.5 856.5V857.5M1479.5 858.5V859.5M1466.5 857.5V858.5M1477.5 860.5V861.5M1474.5 859.5V860.5M1483.5 862.5V863.5M1474.5 862.5V863.5M1463.5 860.5V862.5M1457.5 857.5V861.5M1450.5 855.5V859.5M1447.5 848.5V857.5M1418.5 841.5V853.5M1418.5 834.5V847.5M1420.5 830.5V841.5M1470.5 867.5V868.5M1458.5 866.5V867.5M1454.5 865.5V867.5M1444.5 865.5V866.5M1431.5 864.5V865.5M1466.5 879.5V879.5M1442.5 878.5V879.5M1471.5 881.5V882.5M1460.5 880.5V881.5M1466.5 883.5V884.5M1459.5 882.5V883.5M1464.5 885.5V886.5M1479.5 887.5V888.5M1475.5 888.5V889.5M1465.5 887.5V889.5M1452.5 886.5V888.5M1449.5 885.5V887.5M1444.5 883.5V886.5M1435.5 881.5V884.5M1420.5 878.5V882.5M1418.5 872.5V880.5M1430.5 865.5V876.5M1455.5 890.5V891.5M1467.5 892.5V893.5M1475.5 894.5V895.5M1467.5 894.5V895.5M1454.5 893.5V894.5M1443.5 891.5V893.5M1469.5 897.5V897.5M1463.5 896.5V897.5M1477.5 899.5V900.5M1465.5 898.5V899.5M1475.5 902.5V903.5M1471.5 901.5V902.5M1469.5 900.5V902.5M1457.5 899.5V901.5M1452.5 896.5V900.5M1441.5 892.5V898.5M1438.5 890.5V895.5M1472.5 906.5V907.5M1475.5 908.5V908.5M1474.5 909.5V910.5M1473.5 908.5V909.5M1470.5 906.5V909.5M1481.5 911.5V911.5M1479.5 912.5V913.5M1488.5 916.5V917.5M1487.5 915.5V916.5M1484.5 914.5V916.5M1485.5 917.5V918.5M1485.5 920.5V920.5M1484.5 919.5V920.5M1491.5 923.5V923.5M1488.5 922.5V923.5M1485.5 921.5V922.5M1483.5 919.5V922.5M1482.5 918.5V921.5M1480.5 915.5V919.5M1479.5 914.5V917.5M1475.5 912.5V915.5M1471.5 911.5V914.5M1466.5 908.5V912.5M1418.5 893.5V910.5M1449.5 938.5V939.5M1456.5 940.5V941.5M1459.5 943.5V944.5M1447.5 943.5V944.5M1444.5 942.5V943.5M1434.5 941.5V943.5M1428.5 940.5V942.5M1426.5 938.5V941.5M1418.5 933.5V940.5M1418.5 929.5V936.5M1425.5 901.5V932.5M1446.5 945.5V946.5M1466.5 946.5V947.5M1470.5 948.5V949.5M1453.5 947.5V948.5M1468.5 949.5V950.5M1479.5 952.5V952.5M1468.5 951.5V952.5M1460.5 950.5V951.5M1472.5 953.5V954.5M1479.5 955.5V956.5M1469.5 955.5V956.5M1465.5 954.5V955.5M1479.5 957.5V958.5M1479.5 960.5V961.5M1473.5 959.5V960.5M1468.5 958.5V960.5M1466.5 957.5V959.5M1461.5 954.5V958.5M1459.5 951.5V956.5M1449.5 948.5V953.5M1441.5 945.5V950.5M1476.5 973.5V973.5M1468.5 972.5V973.5M1457.5 975.5V976.5M1471.5 977.5V978.5M1469.5 976.5V977.5M1455.5 975.5V977.5M1451.5 974.5V976.5M1447.5 972.5V975.5M1457.5 979.5V980.5M1450.5 979.5V980.5M1475.5 982.5V983.5M1462.5 982.5V983.5M1452.5 981.5V982.5M1447.5 979.5V982.5M1478.5 985.5V985.5M1470.5 984.5V985.5M1464.5 986.5V987.5M1474.5 988.5V989.5M1471.5 988.5V989.5M1456.5 986.5V988.5M1453.5 984.5V987.5M1442.5 980.5V986.5M1441.5 974.5V983.5M1440.5 948.5V978.5M1468.5 990.5V991.5M1466.5 991.5V992.5M1447.5 990.5V992.5M1472.5 1000.5V1000.5M1461.5 999.5V1000.5M1460.5 998.5V999.5M1478.5 1003.5V1003.5M1473.5 1002.5V1003.5M1471.5 1001.5V1002.5M1482.5 1005.5V1006.5M1473.5 1004.5V1005.5M1485.5 1008.5V1009.5M1484.5 1007.5V1008.5M1475.5 1006.5V1008.5M1489.5 1010.5V1011.5M1485.5 1012.5V1012.5M1484.5 1010.5V1012.5M1477.5 1009.5V1011.5M1471.5 1007.5V1010.5M1466.5 1005.5V1009.5M1462.5 1002.5V1007.5M1457.5 999.5V1004.5M1453.5 1018.5V1019.5M1483.5 1022.5V1022.5M1475.5 1021.5V1022.5M1470.5 1020.5V1021.5M1457.5 1019.5V1021.5M1459.5 1023.5V1024.5M1476.5 1025.5V1025.5M1484.5 1028.5V1029.5M1475.5 1028.5V1029.5M1474.5 1027.5V1028.5M1465.5 1026.5V1028.5M1463.5 1025.5V1027.5M1456.5 1023.5V1026.5M1450.5 1020.5V1025.5M1445.5 1018.5V1022.5M1418.5 1001.5V1020.5M1446.5 991.5V1011.5M1481.5 1031.5V1032.5M1471.5 1031.5V1032.5M1464.5 1030.5V1031.5M1469.5 1033.5V1034.5M1481.5 1035.5V1036.5M1474.5 1034.5V1036.5M1482.5 1037.5V1037.5M1481.5 1038.5V1039.5M1473.5 1037.5V1039.5M1471.5 1035.5V1038.5M1468.5 1033.5V1036.5M1474.5 1040.5V1040.5M1475.5 1041.5V1042.5M1472.5 1040.5V1042.5M1480.5 1043.5V1043.5M1487.5 1046.5V1046.5M1482.5 1045.5V1046.5M1475.5 1044.5V1045.5M1469.5 1043.5V1045.5M1465.5 1041.5V1044.5M1462.5 1035.5V1042.5M1461.5 1031.5V1039.5M1460.5 1035.5V1057.5M1376.5 428.5V483.5M1376.5 483.5V509.5M1376.5 509.5V544.5M1377.5 544.5V568.5M1377.5 568.5V621.5M1381.5 621.5V662.5M1381.5 662.5V699.5M1383.5 699.5V735.5M1399.5 735.5V775.5M1399.5 775.5V812.5M1400.5 812.5V835.5M1401.5 835.5V870.5M1418.5 870.5V917.5M1418.5 917.5V963.5M1423.5 963.5V1001.5M1423.5 1001.5V1046.5M1376.5 419.5V477.5" stroke="#5b4e46" stroke-width="1" fill="none" stroke-linecap="square"/>
<g shape-rendering="crispEdges"><rect x="1567.75" y="132.30" width="23.22" height="2.39" fill="#253494"/>
<rect x="1567.75" y="134.69" width="23.22" height="9.38" fill="#006d2c"/>
<rect x="1567.75" y="144.06" width="23.22" height="14.06" fill="#253494"/>
<rect x="1567.75" y="158.12" width="23.22" height="4.17" fill="#006d2c"/>
<rect x="1567.75" y="162.29" width="23.22" height="1.56" fill="#fdd49e"/>
<rect x="1567.75" y="163.85" width="23.22" height="5.21" fill="#006d2c"/>
<rect x="1567.75" y="169.06" width="23.22" height="2.60" fill="#ec7014"/>
<rect x="1567.75" y="171.67" width="23.22" height="2.60" fill="#fdd49e"/>
<rect x="1567.75" y="174.27" width="23.22" height="1.56" fill="#253494"/>
<rect x="1567.75" y="175.83" width="23.22" height="9.38" fill="#b30000"/>
<rect x="1567.75" y="185.21" width="23.22" height="6.77" fill="#fdd49e"/>
<rect x="1567.75" y="191.98" width="23.22" height="2.60" fill="#b30000"/>
<rect x="1567.75" y="194.58" width="23.22" height="1.56" fill="#ec7014"/>
<rect x="1567.75" y="196.15" width="23.22" height="3.65" fill="#b30000"/>
<rect x="1567.75" y="199.79" width="23.22" height="3.12" fill="#fe9929"/>
<rect x="1567.75" y="202.92" width="23.22" height="1.25" fill="#b30000"/>
<rect x="1567.75" y="204.17" width="23.22" height="2.40" fill="#fdd49e"/>
<rect x="1567.75" y="206.56" width="23.22" height="7.81" fill="#253494"/>
<rect x="1567.75" y="214.38" width="23.22" height="1.56" fill="#a08f9a"/>
<rect x="1567.75" y="215.94" width="23.22" height="15.10" fill="#253494"/>
<rect x="1567.75" y="231.04" width="23.22" height="1.56" fill="#fdd49e"/>
<rect x="1567.75" y="232.60" width="23.22" height="7.29" fill="#253494"/>
<rect x="1567.75" y="239.90" width="23.22" height="2.08" fill="#b30000"/>
<rect x="1567.75" y="241.98" width="23.22" height="5.21" fill="#253494"/>
<rect x="1567.75" y="247.19" width="23.22" height="0.81" fill="#fdd49e"/>
<rect x="1567.75" y="248.00" width="23.22" height="6.25" fill="#253494"/>
<rect x="1567.75" y="254.25" width="23.22" height="2.08" fill="#006d2c"/>
<rect x="1567.75" y="256.33" width="23.22" height="2.92" fill="#fdd49e"/>
<rect x="1567.75" y="259.25" width="23.22" height="14.79" fill="#253494"/>
<rect x="1567.75" y="274.04" width="23.22" height="1.88" fill="#006d2c"/>
<rect x="1567.75" y="275.92" width="23.22" height="2.08" fill="#253494"/>
<rect x="1567.75" y="278.00" width="23.22" height="1.25" fill="#fdd49e"/>
<rect x="1567.75" y="279.25" width="23.22" height="9.17" fill="#006d2c"/>
<rect x="1567.75" y="288.42" width="23.22" height="29.90" fill="#253494"/>
<rect x="1567.75" y="318.31" width="23.22" height="1.56" fill="#fdd49e"/>
<rect x="1567.75" y="319.88" width="23.22" height="23.96" fill="#253494"/>
<rect x="1567.75" y="343.83" width="23.22" height="1.25" fill="#fdd49e"/>
<rect x="1567.75" y="345.08" width="23.22" height="20.92" fill="#253494"/>
<rect x="1567.75" y="366.00" width="23.22" height="7.81" fill="#253494"/>
<rect x="1567.75" y="373.81" width="23.22" height="10.42" fill="#006d2c"/>
<rect x="1567.75" y="384.23" width="23.22" height="1.56" fill="#a08f9a"/>
<rect x="1567.75" y="385.79" width="23.22" height="8.33" fill="#006d2c"/>
<rect x="1567.75" y="394.12" width="23.22" height="7.81" fill="#253494"/>
<rect x="1567.75" y="401.94" width="23.22" height="9.90" fill="#fdd49e"/>
<rect x="1567.75" y="411.83" width="23.22" height="14.06" fill="#253494"/>
<rect x="1567.75" y="425.90" width="23.22" height="1.56" fill="#a08f9a"/>
<rect x="1567.75" y="427.46" width="23.22" height="2.60" fill="#253494"/>
<rect x="1567.75" y="430.06" width="23.22" height="5.73" fill="#7f2704"/>
<rect x="1567.75" y="435.79" width="23.22" height="10.42" fill="#fdd49e"/>
<rect x="1567.75" y="446.21" width="23.22" height="1.56" fill="#ef6548"/>
<rect x="1567.75" y="447.77" width="23.22" height="4.17" fill="#fdd49e"/>
<rect x="1567.75" y="451.94" width="23.22" height="4.69" fill="#7f2704"/>
<rect x="1567.75" y="456.62" width="23.22" height="7.29" fill="#fe9929"/>
<rect x="1567.75" y="463.92" width="23.22" height="1.04" fill="#b30000"/>
<rect x="1567.75" y="464.96" width="23.22" height="3.12" fill="#fe9929"/>
<rect x="1567.75" y="468.08" width="23.22" height="4.17" fill="#253494"/>
<rect x="1567.75" y="472.25" width="23.22" height="1.04" fill="#b30000"/>
<rect x="1567.75" y="473.29" width="23.22" height="1.56" fill="#fe9929"/>
<rect x="1567.75" y="474.85" width="23.22" height="2.08" fill="#b30000"/>
<rect x="1567.75" y="476.94" width="23.22" height="5.73" fill="#fe9929"/>
<rect x="1567.75" y="482.67" width="23.22" height="1.33" fill="#253494"/>
<rect x="1567.75" y="484.00" width="23.22" height="1.56" fill="#253494"/>
<rect x="1567.75" y="485.56" width="23.22" height="3.65" fill="#fdd49e"/>
<rect x="1567.75" y="489.21" width="23.22" height="20.83" fill="#253494"/>
<rect x="1567.75" y="510.04" width="23.22" height="1.56" fill="#fdd49e"/>
<rect x="1567.75" y="511.60" width="23.22" height="1.56" fill="#b30000"/>
<rect x="1567.75" y="513.17" width="23.22" height="18.23" fill="#006d2c"/>
<rect x="1567.75" y="531.40" width="23.22" height="2.60" fill="#253494"/>
<rect x="1567.75" y="534.00" width="23.22" height="2.08" fill="#7f2704"/>
<rect x="1567.75" y="536.08" width="23.22" height="27.60" fill="#253494"/>
<rect x="1567.75" y="563.69" width="23.22" height="1.56" fill="#fdd49e"/>
<rect x="1567.75" y="565.25" width="23.22" height="12.50" fill="#253494"/>
<rect x="1567.75" y="577.75" width="23.22" height="1.56" fill="#d7191c"/>
<rect x="1567.75" y="579.31" width="23.22" height="22.69" fill="#253494"/>
<rect x="1567.75" y="602.00" width="23.22" height="42.19" fill="#253494"/>
<rect x="1567.75" y="644.19" width="23.22" height="2.60" fill="#fdd49e"/>
<rect x="1567.75" y="646.79" width="23.22" height="3.65" fill="#253494"/>
<rect x="1567.75" y="650.44" width="23.22" height="2.08" fill="#fdd49e"/>
<rect x="1567.75" y="652.52" width="23.22" height="14.06" fill="#253494"/>
<rect x="1567.75" y="666.58" width="23.22" height="2.60" fill="#fdd49e"/>
<rect x="1567.75" y="669.19" width="23.22" height="1.04" fill="#d7191c"/>
<rect x="1567.75" y="670.23" width="23.22" height="2.08" fill="#fdd49e"/>
<rect x="1567.75" y="672.31" width="23.22" height="3.65" fill="#253494"/>
<rect x="1567.75" y="675.96" width="23.22" height="1.04" fill="#a08f9a"/>
<rect x="1567.75" y="677.00" width="23.22" height="2.08" fill="#253494"/>
<rect x="1567.75" y="679.08" width="23.22" height="15.62" fill="#fdd49e"/>
<rect x="1567.75" y="694.71" width="23.22" height="3.65" fill="#7f2704"/>
<rect x="1567.75" y="698.35" width="23.22" height="1.04" fill="#fdd49e"/>
<rect x="1567.75" y="699.40" width="23.22" height="1.56" fill="#253494"/>
<rect x="1567.75" y="700.96" width="23.22" height="3.65" fill="#7f2704"/>
<rect x="1567.75" y="704.60" width="23.22" height="5.73" fill="#fdd49e"/>
<rect x="1567.75" y="710.33" width="23.22" height="4.69" fill="#253494"/>
<rect x="1567.75" y="715.02" width="23.22" height="2.60" fill="#a08f9a"/>
<rect x="1567.75" y="717.62" width="23.22" height="2.38" fill="#fdd49e"/>
<rect x="1567.75" y="720.00" width="23.22" height="18.23" fill="#fdd49e"/>
<rect x="1567.75" y="738.23" width="23.22" height="5.73" fill="#253494"/>
<rect x="1567.75" y="743.96" width="23.22" height="5.00" fill="#fdd49e"/>
<rect x="1567.75" y="748.96" width="23.22" height="9.06" fill="#253494"/>
<rect x="1567.75" y="758.02" width="23.22" height="15.10" fill="#fdd49e"/>
<rect x="1567.75" y="773.12" width="23.22" height="26.04" fill="#253494"/>
<rect x="1567.75" y="799.17" width="23.22" height="1.56" fill="#fdd49e"/>
<rect x="1567.75" y="800.73" width="23.22" height="10.94" fill="#253494"/>
<rect x="1567.75" y="811.67" width="23.22" height="2.08" fill="#7f2704"/>
<rect x="1567.75" y="813.75" width="23.22" height="21.35" fill="#253494"/>
<rect x="1567.75" y="835.10" width="23.22" height="2.90" fill="#7f2704"/>
<rect x="1567.75" y="838.00" width="23.22" height="1.25" fill="#7f2704"/>
<rect x="1567.75" y="839.25" width="23.22" height="3.44" fill="#253494"/>
<rect x="1567.75" y="842.69" width="23.22" height="2.08" fill="#b30000"/>
<rect x="1567.75" y="844.77" width="23.22" height="4.17" fill="#253494"/>
<rect x="1567.75" y="848.94" width="23.22" height="2.08" fill="#fdd49e"/>
<rect x="1567.75" y="851.02" width="23.22" height="1.56" fill="#253494"/>
<rect x="1567.75" y="852.58" width="23.22" height="2.08" fill="#fdd49e"/>
<rect x="1567.75" y="854.67" width="23.22" height="6.25" fill="#253494"/>
<rect x="1567.75" y="860.92" width="23.22" height="2.08" fill="#fdd49e"/>
<rect x="1567.75" y="863.00" width="23.22" height="1.88" fill="#b30000"/>
<rect x="1567.75" y="864.88" width="23.22" height="14.27" fill="#253494"/>
<rect x="1567.75" y="879.15" width="23.22" height="1.04" fill="#d7191c"/>
<rect x="1567.75" y="880.19" width="23.22" height="11.46" fill="#253494"/>
<rect x="1567.75" y="891.65" width="23.22" height="1.35" fill="#fdd49e"/>
<rect x="1567.75" y="893.00" width="23.22" height="5.42" fill="#253494"/>
<rect x="1567.75" y="898.42" width="23.22" height="2.08" fill="#fdd49e"/>
<rect x="1567.75" y="900.50" width="23.22" height="1.04" fill="#b30000"/>
<rect x="1567.75" y="901.54" width="23.22" height="1.04" fill="#253494"/>
<rect x="1567.75" y="902.58" width="23.22" height="1.56" fill="#a08f9a"/>
<rect x="1567.75" y="904.15" width="23.22" height="2.08" fill="#253494"/>
<rect x="1567.75" y="906.23" width="23.22" height="3.65" fill="#fdd49e"/>
<rect x="1567.75" y="909.88" width="23.22" height="1.56" fill="#253494"/>
<rect x="1567.75" y="911.44" width="23.22" height="4.17" fill="#fdd49e"/>
<rect x="1567.75" y="915.60" width="23.22" height="4.17" fill="#253494"/>
<rect x="1567.75" y="919.77" width="23.22" height="2.60" fill="#fdd49e"/>
<rect x="1567.75" y="922.38" width="23.22" height="1.56" fill="#253494"/>
<rect x="1567.75" y="923.94" width="23.22" height="1.04" fill="#ec7014"/>
<rect x="1567.75" y="924.98" width="23.22" height="1.56" fill="#b30000"/>
<rect x="1567.75" y="926.54" width="23.22" height="2.60" fill="#fdd49e"/>
<rect x="1567.75" y="929.15" width="23.22" height="2.60" fill="#253494"/>
<rect x="1567.75" y="931.75" width="23.22" height="1.56" fill="#ec7014"/>
<rect x="1567.75" y="933.31" width="23.22" height="3.65" fill="#fdd49e"/>
<rect x="1567.75" y="936.96" width="23.22" height="2.08" fill="#253494"/>
<rect x="1567.75" y="939.04" width="23.22" height="6.25" fill="#fdd49e"/>
<rect x="1567.75" y="945.29" width="23.22" height="2.60" fill="#253494"/>
<rect x="1567.75" y="947.90" width="23.22" height="1.56" fill="#fdd49e"/>
<rect x="1567.75" y="949.46" width="23.22" height="0.54" fill="#253494"/>
<rect x="1567.75" y="950.00" width="23.22" height="9.90" fill="#253494"/>
<rect x="1567.75" y="959.90" width="23.22" height="1.04" fill="#fdd49e"/>
<rect x="1567.75" y="960.94" width="23.22" height="9.38" fill="#253494"/>
<rect x="1567.75" y="970.31" width="23.22" height="1.04" fill="#fdd49e"/>
<rect x="1567.75" y="971.35" width="23.22" height="1.04" fill="#253494"/>
<rect x="1567.75" y="972.40" width="23.22" height="5.73" fill="#fdd49e"/>
<rect x="1567.75" y="978.12" width="23.22" height="3.65" fill="#253494"/>
<rect x="1567.75" y="981.77" width="23.22" height="4.17" fill="#fdd49e"/>
<rect x="1567.75" y="985.94" width="23.22" height="15.10" fill="#253494"/>
<rect x="1567.75" y="1001.04" width="23.22" height="2.08" fill="#fdd49e"/>
<rect x="1567.75" y="1003.12" width="23.22" height="3.65" fill="#253494"/>
<rect x="1567.75" y="1006.77" width="23.22" height="1.56" fill="#fdd49e"/>
<rect x="1567.75" y="1008.33" width="23.22" height="1.88" fill="#253494"/>
<rect x="1567.75" y="1010.21" width="23.22" height="6.98" fill="#fdd49e"/>
<rect x="1567.75" y="1017.19" width="23.22" height="2.08" fill="#ef6548"/>
<rect x="1567.75" y="1019.27" width="23.22" height="5.73" fill="#fe9929"/>
<rect x="1567.75" y="1025.00" width="23.22" height="2.08" fill="#fdd49e"/>
<rect x="1567.75" y="1027.08" width="23.22" height="1.56" fill="#b30000"/>
<rect x="1567.75" y="1028.65" width="23.22" height="1.56" fill="#fdd49e"/>
<rect x="1567.75" y="1030.21" width="23.22" height="2.60" fill="#ec7014"/>
<rect x="1567.75" y="1032.81" width="23.22" height="10.94" fill="#fdd49e"/>
<rect x="1567.75" y="1043.75" width="23.22" height="5.73" fill="#253494"/>
<rect x="1567.75" y="1049.48" width="23.22" height="9.02" fill="#fdd49e"/>
<rect x="1590.97" y="132.30" width="23.22" height="2.39" fill="#0000ff"/>
<rect x="1590.97" y="134.69" width="23.22" height="9.38" fill="#ffa500"/>
<rect x="1590.97" y="144.06" width="23.22" height="6.25" fill="#0000ff"/>
<rect x="1590.97" y="150.31" width="23.22" height="0.52" fill="#ffa500"/>
<rect x="1590.97" y="150.83" width="23.22" height="7.29" fill="#0000ff"/>
<rect x="1590.97" y="158.12" width="23.22" height="4.17" fill="#ffa500"/>
<rect x="1590.97" y="162.29" width="23.22" height="1.56" fill="#ff0000"/>
<rect x="1590.97" y="163.85" width="23.22" height="5.21" fill="#ffa500"/>
<rect x="1590.97" y="169.06" width="23.22" height="5.73" fill="#ff0000"/>
<rect x="1590.97" y="174.79" width="23.22" height="1.25" fill="#0000ff"/>
<rect x="1590.97" y="176.04" width="23.22" height="30.52" fill="#ff0000"/>
<rect x="1590.97" y="206.56" width="23.22" height="7.81" fill="#0000ff"/>
<rect x="1590.97" y="214.38" width="23.22" height="1.56" fill="#7f007f"/>
<rect x="1590.97" y="215.94" width="23.22" height="15.10" fill="#0000ff"/>
<rect x="1590.97" y="231.04" width="23.22" height="1.56" fill="#ff0000"/>
<rect x="1590.97" y="232.60" width="23.22" height="7.29" fill="#0000ff"/>
<rect x="1590.97" y="239.90" width="23.22" height="2.08" fill="#ff0000"/>
<rect x="1590.97" y="241.98" width="23.22" height="5.21" fill="#0000ff"/>
<rect x="1590.97" y="247.19" width="23.22" height="0.81" fill="#ff0000"/>
<rect x="1590.97" y="248.00" width="23.22" height="1.04" fill="#7f007f"/>
<rect x="1590.97" y="249.04" width="23.22" height="5.21" fill="#0000ff"/>
<rect x="1590.97" y="254.25" width="23.22" height="1.04" fill="#ff0000"/>
<rect x="1590.97" y="255.29" width="23.22" height="1.04" fill="#ffffff"/>
<rect x="1590.97" y="256.33" width="23.22" height="2.92" fill="#ff0000"/>
<rect x="1590.97" y="259.25" width="23.22" height="14.79" fill="#0000ff"/>
<rect x="1590.97" y="274.04" width="23.22" height="1.56" fill="#a9a455"/>
<rect x="1590.97" y="275.60" width="23.22" height="2.40" fill="#0000ff"/>
<rect x="1590.97" y="278.00" width="23.22" height="1.25" fill="#ff0000"/>
<rect x="1590.97" y="279.25" width="23.22" height="9.17" fill="#ffa500"/>
<rect x="1590.97" y="288.42" width="23.22" height="29.90" fill="#0000ff"/>
<rect x="1590.97" y="318.31" width="23.22" height="1.56" fill="#ff0000"/>
<rect x="1590.97" y="319.88" width="23.22" height="23.96" fill="#0000ff"/>
<rect x="1590.97" y="343.83" width="23.22" height="1.25" fill="#ff0000"/>
<rect x="1590.97" y="345.08" width="23.22" height="20.92" fill="#0000ff"/>
<rect x="1590.97" y="366.00" width="23.22" height="7.81" fill="#0000ff"/>
<rect x="1590.97" y="373.81" width="23.22" height="10.94" fill="#ffa500"/>
<rect x="1590.97" y="384.75" width="23.22" height="1.04" fill="#7f007f"/>
<rect x="1590.97" y="385.79" width="23.22" height="8.33" fill="#ffa500"/>
<rect x="1590.97" y="394.12" width="23.22" height="7.81" fill="#0000ff"/>
<rect x="1590.97" y="401.94" width="23.22" height="9.90" fill="#ff0000"/>
<rect x="1590.97" y="411.83" width="23.22" height="14.06" fill="#0000ff"/>
<rect x="1590.97" y="425.90" width="23.22" height="1.56" fill="#7f007f"/>
<rect x="1590.97" y="427.46" width="23.22" height="2.60" fill="#0000ff"/>
<rect x="1590.97" y="430.06" width="23.22" height="38.02" fill="#ff0000"/>
<rect x="1590.97" y="468.08" width="23.22" height="4.17" fill="#0000ff"/>
<rect x="1590.97" y="472.25" width="23.22" height="0.52" fill="#ff0000"/>
<rect x="1590.97" y="472.77" width="23.22" height="1.56" fill="#00ff00"/>
<rect x="1590.97" y="474.33" width="23.22" height="1.56" fill="#ff0000"/>
<rect x="1590.97" y="475.90" width="23.22" height="1.56" fill="#7f007f"/>
<rect x="1590.97" y="477.46" width="23.22" height="5.73" fill="#ff0000"/>
<rect x="1590.97" y="483.19" width="23.22" height="0.81" fill="#0000ff"/>
<rect x="1590.97" y="484.00" width="23.22" height="1.56" fill="#0000ff"/>
<rect x="1590.97" y="485.56" width="23.22" height="3.65" fill="#ff0000"/>
<rect x="1590.97" y="489.21" width="23.22" height="20.83" fill="#0000ff"/>
<rect x="1590.97" y="510.04" width="23.22" height="3.12" fill="#ff0000"/>
<rect x="1590.97" y="513.17" width="23.22" height="18.23" fill="#ffa500"/>
<rect x="1590.97" y="531.40" width="23.22" height="2.40" fill="#7f007f"/>
<rect x="1590.97" y="533.79" width="23.22" height="2.29" fill="#ff0000"/>
<rect x="1590.97" y="536.08" width="23.22" height="27.60" fill="#0000ff"/>
<rect x="1590.97" y="563.69" width="23.22" height="1.56" fill="#ff0000"/>
<rect x="1590.97" y="565.25" width="23.22" height="12.50" fill="#0000ff"/>
<rect x="1590.97" y="577.75" width="23.22" height="1.56" fill="#ff0000"/>
<rect x="1590.97" y="579.31" width="23.22" height="22.69" fill="#0000ff"/>
<rect x="1590.97" y="602.00" width="23.22" height="42.19" fill="#0000ff"/>
<rect x="1590.97" y="644.19" width="23.22" height="2.81" fill="#ff0000"/>
<rect x="1590.97" y="647.00" width="23.22" height="3.44" fill="#0000ff"/>
<rect x="1590.97" y="650.44" width="23.22" height="2.08" fill="#ff0000"/>
<rect x="1590.97" y="652.52" width="23.22" height="14.06" fill="#0000ff"/>
<rect x="1590.97" y="666.58" width="23.22" height="5.73" fill="#ff0000"/>
<rect x="1590.97" y="672.31" width="23.22" height="3.65" fill="#0000ff"/>
<rect x="1590.97" y="675.96" width="23.22" height="1.04" fill="#7f007f"/>
<rect x="1590.97" y="677.00" width="23.22" height="2.08" fill="#0000ff"/>
<rect x="1590.97" y="679.08" width="23.22" height="19.79" fill="#ff0000"/>
<rect x="1590.97" y="698.88" width="23.22" height="2.08" fill="#0000ff"/>
<rect x="1590.97" y="700.96" width="23.22" height="9.38" fill="#ff0000"/>
<rect x="1590.97" y="710.33" width="23.22" height="4.69" fill="#0000ff"/>
<rect x="1590.97" y="715.02" width="23.22" height="2.60" fill="#7f007f"/>
<rect x="1590.97" y="717.62" width="23.22" height="2.38" fill="#ff0000"/>
<rect x="1590.97" y="720.00" width="23.22" height="18.23" fill="#ff0000"/>
<rect x="1590.97" y="738.23" width="23.22" height="5.73" fill="#0000ff"/>
<rect x="1590.97" y="743.96" width="23.22" height="5.00" fill="#ff0000"/>
<rect x="1590.97" y="748.96" width="23.22" height="9.06" fill="#0000ff"/>
<rect x="1590.97" y="758.02" width="23.22" height="15.10" fill="#ff0000"/>
<rect x="1590.97" y="773.12" width="23.22" height="26.04" fill="#0000ff"/>
<rect x="1590.97" y="799.17" width="23.22" height="1.56" fill="#ff0000"/>
<rect x="1590.97" y="800.73" width="23.22" height="10.94" fill="#0000ff"/>
<rect x="1590.97" y="811.67" width="23.22" height="2.08" fill="#ff0000"/>
<rect x="1590.97" y="813.75" width="23.22" height="21.35" fill="#0000ff"/>
<rect x="1590.97" y="835.10" width="23.22" height="2.90" fill="#ff0000"/>
<rect x="1590.97" y="838.00" width="23.22" height="1.25" fill="#ff0000"/>
<rect x="1590.97" y="839.25" width="23.22" height="3.44" fill="#0000ff"/>
<rect x="1590.97" y="842.69" width="23.22" height="2.08" fill="#ff0000"/>
<rect x="1590.97" y="844.77" width="23.22" height="4.17" fill="#0000ff"/>
<rect x="1590.97" y="848.94" width="23.22" height="2.08" fill="#ff0000"/>
<rect x="1590.97" y="851.02" width="23.22" height="1.56" fill="#0000ff"/>
<rect x="1590.97" y="852.58" width="23.22" height="2.08" fill="#ff0000"/>
<rect x="1590.97" y="854.67" width="23.22" height="6.25" fill="#0000ff"/>
<rect x="1590.97" y="860.92" width="23.22" height="3.96" fill="#ff0000"/>
<rect x="1590.97" y="864.88" width="23.22" height="14.27" fill="#0000ff"/>
<rect x="1590.97" y="879.15" width="23.22" height="1.04" fill="#ff0000"/>
<rect x="1590.97" y="880.19" width="23.22" height="11.46" fill="#0000ff"/>
<rect x="1590.97" y="891.65" width="23.22" height="1.35" fill="#ff0000"/>
<rect x="1590.97" y="893.00" width="23.22" height="5.42" fill="#0000ff"/>
<rect x="1590.97" y="898.42" width="23.22" height="2.08" fill="#ff0000"/>
<rect x="1590.97" y="900.50" width="23.22" height="1.04" fill="#00ff00"/>
<rect x="1590.97" y="901.54" width="23.22" height="1.04" fill="#0000ff"/>
<rect x="1590.97" y="902.58" width="23.22" height="1.56" fill="#7f007f"/>
<rect x="1590.97" y="904.15" width="23.22" height="2.08" fill="#0000ff"/>
<rect x="1590.97" y="906.23" width="23.22" height="3.65" fill="#ff0000"/>
<rect x="1590.97" y="909.88" width="23.22" height="1.56" fill="#0000ff"/>
<rect x="1590.97" y="911.44" width="23.22" height="4.17" fill="#ff0000"/>
<rect x="1590.97" y="915.60" width="23.22" height="4.17" fill="#0000ff"/>
<rect x="1590.97" y="919.77" width="23.22" height="2.60" fill="#ff0000"/>
<rect x="1590.97" y="922.38" width="23.22" height="1.56" fill="#0000ff"/>
<rect x="1590.97" y="923.94" width="23.22" height="5.21" fill="#ff0000"/>
<rect x="1590.97" y="929.15" width="23.22" height="2.60" fill="#0000ff"/>
<rect x="1590.97" y="931.75" width="23.22" height="5.21" fill="#ff0000"/>
<rect x="1590.97" y="936.96" width="23.22" height="2.08" fill="#0000ff"/>
<rect x="1590.97" y="939.04" width="23.22" height="7.29" fill="#ff0000"/>
<rect x="1590.97" y="946.33" width="23.22" height="1.56" fill="#0000ff"/>
<rect x="1590.97" y="947.90" width="23.22" height="1.56" fill="#ff0000"/>
<rect x="1590.97" y="949.46" width="23.22" height="0.54" fill="#0000ff"/>
<rect x="1590.97" y="950.00" width="23.22" height="9.90" fill="#0000ff"/>
<rect x="1590.97" y="959.90" width="23.22" height="1.04" fill="#ff0000"/>
<rect x="1590.97" y="960.94" width="23.22" height="8.85" fill="#0000ff"/>
<rect x="1590.97" y="969.79" width="23.22" height="1.56" fill="#ff0000"/>
<rect x="1590.97" y="971.35" width="23.22" height="1.04" fill="#0000ff"/>
<rect x="1590.97" y="972.40" width="23.22" height="5.73" fill="#ff0000"/>
<rect x="1590.97" y="978.12" width="23.22" height="3.65" fill="#0000ff"/>
<rect x="1590.97" y="981.77" width="23.22" height="4.17" fill="#ff0000"/>
<rect x="1590.97" y="985.94" width="23.22" height="15.10" fill="#0000ff"/>
<rect x="1590.97" y="1001.04" width="23.22" height="2.29" fill="#ff0000"/>
<rect x="1590.97" y="1003.33" width="23.22" height="3.44" fill="#0000ff"/>
<rect x="1590.97" y="1006.77" width="23.22" height="1.56" fill="#ff0000"/>
<rect x="1590.97" y="1008.33" width="23.22" height="1.88" fill="#0000ff"/>
<rect x="1590.97" y="1010.21" width="23.22" height="33.54" fill="#ff0000"/>
<rect x="1590.97" y="1043.75" width="23.22" height="5.73" fill="#0000ff"/>
<rect x="1590.97" y="1049.48" width="23.22" height="9.02" fill="#ff0000"/>
<rect x="1614.19" y="132.30" width="23.22" height="0.82" fill="#d7191c"/>
<rect x="1614.19" y="133.12" width="23.22" height="1.56" fill="#2b3792"/>
<rect x="1614.19" y="134.69" width="23.22" height="9.38" fill="#ffffff"/>
<rect x="1614.19" y="144.06" width="23.22" height="1.56" fill="#d7191c"/>
<rect x="1614.19" y="145.62" width="23.22" height="3.12" fill="#2b3792"/>
<rect x="1614.19" y="148.75" width="23.22" height="1.04" fill="#d7191c"/>
<rect x="1614.19" y="149.79" width="23.22" height="2.08" fill="#ffffff"/>
<rect x="1614.19" y="151.88" width="23.22" height="1.04" fill="#d7191c"/>
<rect x="1614.19" y="152.92" width="23.22" height="1.25" fill="#2b3792"/>
<rect x="1614.19" y="154.17" width="23.22" height="1.35" fill="#f4e3a2"/>
<rect x="1614.19" y="155.52" width="23.22" height="1.35" fill="#2b3792"/>
<rect x="1614.19" y="156.88" width="23.22" height="1.25" fill="#f4e3a2"/>
<rect x="1614.19" y="158.12" width="23.22" height="1.04" fill="#ffffff"/>
<rect x="1614.19" y="159.17" width="23.22" height="1.04" fill="#2b3792"/>
<rect x="1614.19" y="160.21" width="23.22" height="14.58" fill="#ffffff"/>
<rect x="1614.19" y="174.79" width="23.22" height="1.04" fill="#d7191c"/>
<rect x="1614.19" y="175.83" width="23.22" height="30.73" fill="#ffffff"/>
<rect x="1614.19" y="206.56" width="23.22" height="1.04" fill="#9b9bd2"/>
<rect x="1614.19" y="207.60" width="23.22" height="2.08" fill="#ffffff"/>
<rect x="1614.19" y="209.69" width="23.22" height="1.04" fill="#d7191c"/>
<rect x="1614.19" y="210.73" width="23.22" height="1.56" fill="#ffffff"/>
<rect x="1614.19" y="212.29" width="23.22" height="1.04" fill="#2b3792"/>
<rect x="1614.19" y="213.33" width="23.22" height="9.38" fill="#ffffff"/>
<rect x="1614.19" y="222.71" width="23.22" height="1.04" fill="#9b9bd2"/>
<rect x="1614.19" y="223.75" width="23.22" height="2.08" fill="#ffffff"/>
<rect x="1614.19" y="225.83" width="23.22" height="1.25" fill="#d7191c"/>
<rect x="1614.19" y="227.08" width="23.22" height="3.44" fill="#ffffff"/>
<rect x="1614.19" y="230.52" width="23.22" height="1.04" fill="#f08a80"/>
<rect x="1614.19" y="231.56" width="23.22" height="1.56" fill="#ffffff"/>
<rect x="1614.19" y="233.12" width="23.22" height="1.04" fill="#2b3792"/>
<rect x="1614.19" y="234.17" width="23.22" height="2.08" fill="#ffffff"/>
<rect x="1614.19" y="236.25" width="23.22" height="1.04" fill="#2b3792"/>
<rect x="1614.19" y="237.29" width="23.22" height="5.21" fill="#ffffff"/>
<rect x="1614.19" y="242.50" width="23.22" height="2.08" fill="#d7191c"/>
<rect x="1614.19" y="244.58" width="23.22" height="2.08" fill="#2b3792"/>
<rect x="1614.19" y="246.67" width="23.22" height="1.33" fill="#ffffff"/>
<rect x="1614.19" y="248.00" width="23.22" height="2.08" fill="#ffffff"/>
<rect x="1614.19" y="250.08" width="23.22" height="3.12" fill="#2b3792"/>
<rect x="1614.19" y="253.21" width="23.22" height="6.25" fill="#ffffff"/>
<rect x="1614.19" y="259.46" width="23.22" height="1.04" fill="#2b3792"/>
<rect x="1614.19" y="260.50" width="23.22" height="1.04" fill="#d7191c"/>
<rect x="1614.19" y="261.54" width="23.22" height="1.56" fill="#ffffff"/>
<rect x="1614.19" y="263.10" width="23.22" height="1.56" fill="#d7191c"/>
<rect x="1614.19" y="264.67" width="23.22" height="4.17" fill="#ffffff"/>
<rect x="1614.19" y="268.83" width="23.22" height="1.04" fill="#2b3792"/>
<rect x="1614.19" y="269.88" width="23.22" height="1.04" fill="#ffffff"/>
<rect x="1614.19" y="270.92" width="23.22" height="1.56" fill="#2b3792"/>
<rect x="1614.19" y="272.48" width="23.22" height="1.56" fill="#d7191c"/>
<rect x="1614.19" y="274.04" width="23.22" height="1.56" fill="#9b9bd2"/>
<rect x="1614.19" y="275.60" width="23.22" height="2.08" fill="#2b3792"/>
<rect x="1614.19" y="277.69" width="23.22" height="9.38" fill="#ffffff"/>
<rect x="1614.19" y="287.06" width="23.22" height="2.60" fill="#f08a80"/>
<rect x="1614.19" y="289.67" width="23.22" height="1.56" fill="#2b3792"/>
<rect x="1614.19" y="291.23" width="23.22" height="1.56" fill="#ffffff"/>
<rect x="1614.19" y="292.79" width="23.22" height="3.65" fill="#2b3792"/>
<rect x="1614.19" y="296.44" width="23.22" height="1.56" fill="#f08a80"/>
<rect x="1614.19" y="298.00" width="23.22" height="1.56" fill="#d7191c"/>
<rect x="1614.19" y="299.56" width="23.22" height="2.08" fill="#2b3792"/>
<rect x="1614.19" y="301.65" width="23.22" height="2.08" fill="#d7191c"/>
<rect x="1614.19" y="303.73" width="23.22" height="4.17" fill="#2b3792"/>
<rect x="1614.19" y="307.90" width="23.22" height="2.60" fill="#d7191c"/>
<rect x="1614.19" y="310.50" width="23.22" height="1.04" fill="#2b3792"/>
<rect x="1614.19" y="311.54" width="23.22" height="3.12" fill="#ffffff"/>
<rect x="1614.19" y="314.67" width="23.22" height="1.25" fill="#d7191c"/>
<rect x="1614.19" y="315.92" width="23.22" height="14.90" fill="#ffffff"/>
<rect x="1614.19" y="330.81" width="23.22" height="1.04" fill="#d7191c"/>
<rect x="1614.19" y="331.85" width="23.22" height="5.73" fill="#ffffff"/>
<rect x="1614.19" y="337.58" width="23.22" height="1.56" fill="#d7191c"/>
<rect x="1614.19" y="339.15" width="23.22" height="11.46" fill="#ffffff"/>
<rect x="1614.19" y="350.60" width="23.22" height="1.04" fill="#2b3792"/>
<rect x="1614.19" y="351.65" width="23.22" height="3.12" fill="#ffffff"/>
<rect x="1614.19" y="354.77" width="23.22" height="1.04" fill="#2b3792"/>
<rect x="1614.19" y="355.81" width="23.22" height="3.12" fill="#ffffff"/>
<rect x="1614.19" y="358.94" width="23.22" height="1.04" fill="#2b3792"/>
<rect x="1614.19" y="359.98" width="23.22" height="3.65" fill="#ffffff"/>
<rect x="1614.19" y="363.62" width="23.22" height="2.38" fill="#d7191c"/>
<rect x="1614.19" y="366.00" width="23.22" height="1.04" fill="#d7191c"/>
<rect x="1614.19" y="367.04" width="23.22" height="1.04" fill="#ffffff"/>
<rect x="1614.19" y="368.08" width="23.22" height="1.04" fill="#d7191c"/>
<rect x="1614.19" y="369.12" width="23.22" height="1.56" fill="#ffffff"/>
<rect x="1614.19" y="370.69" width="23.22" height="1.56" fill="#d7191c"/>
<rect x="1614.19" y="372.25" width="23.22" height="11.98" fill="#ffffff"/>
<rect x="1614.19" y="384.23" width="23.22" height="1.04" fill="#d7191c"/>
<rect x="1614.19" y="385.27" width="23.22" height="12.50" fill="#ffffff"/>
<rect x="1614.19" y="397.77" width="23.22" height="1.04" fill="#d7191c"/>
<rect x="1614.19" y="398.81" width="23.22" height="15.10" fill="#ffffff"/>
<rect x="1614.19" y="413.92" width="23.22" height="1.04" fill="#d7191c"/>
<rect x="1614.19" y="414.96" width="23.22" height="1.04" fill="#2b3792"/>
<rect x="1614.19" y="416.00" width="23.22" height="2.08" fill="#ffffff"/>
<rect x="1614.19" y="418.08" width="23.22" height="1.56" fill="#d7191c"/>
<rect x="1614.19" y="419.65" width="23.22" height="2.60" fill="#ffffff"/>
<rect x="1614.19" y="422.25" width="23.22" height="3.12" fill="#2b3792"/>
<rect x="1614.19" y="425.38" width="23.22" height="1.04" fill="#ffffff"/>
<rect x="1614.19" y="426.42" width="23.22" height="2.08" fill="#d7191c"/>
<rect x="1614.19" y="428.50" width="23.22" height="39.58" fill="#ffffff"/>
<rect x="1614.19" y="468.08" width="23.22" height="3.65" fill="#2b3792"/>
<rect x="1614.19" y="471.73" width="23.22" height="11.98" fill="#ffffff"/>
<rect x="1614.19" y="483.71" width="23.22" height="0.29" fill="#f4e3a2"/>
<rect x="1614.19" y="484.00" width="23.22" height="1.56" fill="#7f007f"/>
<rect x="1614.19" y="485.56" width="23.22" height="5.21" fill="#ffffff"/>
<rect x="1614.19" y="490.77" width="23.22" height="1.35" fill="#d7191c"/>
<rect x="1614.19" y="492.12" width="23.22" height="2.81" fill="#ffffff"/>
<rect x="1614.19" y="494.94" width="23.22" height="1.77" fill="#2b3792"/>
<rect x="1614.19" y="496.71" width="23.22" height="5.00" fill="#ffffff"/>
<rect x="1614.19" y="501.71" width="23.22" height="1.04" fill="#2b3792"/>
<rect x="1614.19" y="502.75" width="23.22" height="28.65" fill="#ffffff"/>
<rect x="1614.19" y="531.40" width="23.22" height="1.35" fill="#2b3792"/>
<rect x="1614.19" y="532.75" width="23.22" height="4.90" fill="#ffffff"/>
<rect x="1614.19" y="537.65" width="23.22" height="1.56" fill="#2b3792"/>
<rect x="1614.19" y="539.21" width="23.22" height="1.56" fill="#d7191c"/>
<rect x="1614.19" y="540.77" width="23.22" height="2.08" fill="#2b3792"/>
<rect x="1614.19" y="542.85" width="23.22" height="2.08" fill="#d7191c"/>
<rect x="1614.19" y="544.94" width="23.22" height="1.04" fill="#2b3792"/>
<rect x="1614.19" y="545.98" width="23.22" height="1.56" fill="#d7191c"/>
<rect x="1614.19" y="547.54" width="23.22" height="2.08" fill="#2b3792"/>
<rect x="1614.19" y="549.62" width="23.22" height="1.56" fill="#d7191c"/>
<rect x="1614.19" y="551.19" width="23.22" height="1.56" fill="#2b3792"/>
<rect x="1614.19" y="552.75" width="23.22" height="1.56" fill="#d7191c"/>
<rect x="1614.19" y="554.31" width="23.22" height="1.04" fill="#2b3792"/>
<rect x="1614.19" y="555.35" width="23.22" height="1.56" fill="#f4e3a2"/>
<rect x="1614.19" y="556.92" width="23.22" height="1.04" fill="#d7191c"/>
<rect x="1614.19" y="557.96" width="23.22" height="2.60" fill="#2b3792"/>
<rect x="1614.19" y="560.56" width="23.22" height="1.56" fill="#d7191c"/>
<rect x="1614.19" y="562.12" width="23.22" height="1.56" fill="#ffffff"/>
<rect x="1614.19" y="563.69" width="23.22" height="1.56" fill="#9b9bd2"/>
<rect x="1614.19" y="565.25" width="23.22" height="1.04" fill="#ffffff"/>
<rect x="1614.19" y="566.29" width="23.22" height="2.08" fill="#d7191c"/>
<rect x="1614.19" y="568.38" width="23.22" height="1.56" fill="#2b3792"/>
<rect x="1614.19" y="569.94" width="23.22" height="2.08" fill="#d7191c"/>
<rect x="1614.19" y="572.02" width="23.22" height="1.56" fill="#f4e3a2"/>
<rect x="1614.19" y="573.58" width="23.22" height="0.52" fill="#2b3792"/>
<rect x="1614.19" y="574.10" width="23.22" height="1.56" fill="#a9a455"/>
<rect x="1614.19" y="575.67" width="23.22" height="1.56" fill="#2b3792"/>
<rect x="1614.19" y="577.23" width="23.22" height="2.08" fill="#f4e3a2"/>
<rect x="1614.19" y="579.31" width="23.22" height="1.56" fill="#2b3792"/>
<rect x="1614.19" y="580.88" width="23.22" height="1.56" fill="#d7191c"/>
<rect x="1614.19" y="582.44" width="23.22" height="1.56" fill="#f4e3a2"/>
<rect x="1614.19" y="584.00" width="23.22" height="2.60" fill="#2b3792"/>
<rect x="1614.19" y="586.60" width="23.22" height="1.56" fill="#f4e3a2"/>
<rect x="1614.19" y="588.17" width="23.22" height="3.65" fill="#2b3792"/>
<rect x="1614.19" y="591.81" width="23.22" height="1.56" fill="#f4e3a2"/>
<rect x="1614.19" y="593.38" width="23.22" height="1.04" fill="#d7191c"/>
<rect x="1614.19" y="594.42" width="23.22" height="2.60" fill="#2b3792"/>
<rect x="1614.19" y="597.02" width="23.22" height="1.56" fill="#f4e3a2"/>
<rect x="1614.19" y="598.58" width="23.22" height="1.04" fill="#2b3792"/>
<rect x="1614.19" y="599.62" width="23.22" height="1.56" fill="#d7191c"/>
<rect x="1614.19" y="601.19" width="23.22" height="0.81" fill="#2b3792"/>
<rect x="1614.19" y="602.00" width="23.22" height="3.12" fill="#2b3792"/>
<rect x="1614.19" y="605.12" width="23.22" height="1.56" fill="#d7191c"/>
<rect x="1614.19" y="606.69" width="23.22" height="2.08" fill="#2b3792"/>
<rect x="1614.19" y="608.77" width="23.22" height="1.56" fill="#d7191c"/>
<rect x="1614.19" y="610.33" width="23.22" height="0.83" fill="#2b3792"/>
<rect x="1614.19" y="611.17" width="23.22" height="1.77" fill="#a08f9a"/>
<rect x="1614.19" y="612.94" width="23.22" height="1.04" fill="#2b3792"/>
<rect x="1614.19" y="613.98" width="23.22" height="2.08" fill="#d7191c"/>
<rect x="1614.19" y="616.06" width="23.22" height="1.04" fill="#2b3792"/>
<rect x="1614.19" y="617.10" width="23.22" height="1.56" fill="#d7191c"/>
<rect x="1614.19" y="618.67" width="23.22" height="1.56" fill="#2b3792"/>
<rect x="1614.19" y="620.23" width="23.22" height="1.04" fill="#d7191c"/>
<rect x="1614.19" y="621.27" width="23.22" height="2.08" fill="#ffffff"/>
<rect x="1614.19" y="623.35" width="23.22" height="1.04" fill="#2b3792"/>
<rect x="1614.19" y="624.40" width="23.22" height="1.56" fill="#ffffff"/>
<rect x="1614.19" y="625.96" width="23.22" height="2.08" fill="#f08a80"/>
<rect x="1614.19" y="628.04" width="23.22" height="1.56" fill="#2b3792"/>
<rect x="1614.19" y="629.60" width="23.22" height="2.08" fill="#d7191c"/>
<rect x="1614.19" y="631.69" width="23.22" height="1.56" fill="#2b3792"/>
<rect x="1614.19" y="633.25" width="23.22" height="1.25" fill="#d7191c"/>
<rect x="1614.19" y="634.50" width="23.22" height="1.35" fill="#ffffff"/>
<rect x="1614.19" y="635.85" width="23.22" height="1.56" fill="#2b3792"/>
<rect x="1614.19" y="637.42" width="23.22" height="1.04" fill="#ffffff"/>
<rect x="1614.19" y="638.46" width="23.22" height="2.08" fill="#d7191c"/>
<rect x="1614.19" y="640.54" width="23.22" height="0.52" fill="#ffffff"/>
<rect x="1614.19" y="641.06" width="23.22" height="1.56" fill="#9b9bd2"/>
<rect x="1614.19" y="642.62" width="23.22" height="1.04" fill="#2b3792"/>
<rect x="1614.19" y="643.67" width="23.22" height="5.73" fill="#ffffff"/>
<rect x="1614.19" y="649.40" width="23.22" height="1.56" fill="#2b3792"/>
<rect x="1614.19" y="650.96" width="23.22" height="2.60" fill="#ffffff"/>
<rect x="1614.19" y="653.56" width="23.22" height="1.56" fill="#d7191c"/>
<rect x="1614.19" y="655.12" width="23.22" height="3.12" fill="#2b3792"/>
<rect x="1614.19" y="658.25" width="23.22" height="2.08" fill="#d7191c"/>
<rect x="1614.19" y="660.33" width="23.22" height="1.56" fill="#f4e3a2"/>
<rect x="1614.19" y="661.90" width="23.22" height="4.69" fill="#2b3792"/>
<rect x="1614.19" y="666.58" width="23.22" height="5.73" fill="#ffffff"/>
<rect x="1614.19" y="672.31" width="23.22" height="1.56" fill="#2b3792"/>
<rect x="1614.19" y="673.88" width="23.22" height="4.17" fill="#ffffff"/>
<rect x="1614.19" y="678.04" width="23.22" height="1.04" fill="#2b3792"/>
<rect x="1614.19" y="679.08" width="23.22" height="19.79" fill="#ffffff"/>
<rect x="1614.19" y="698.88" width="23.22" height="1.56" fill="#d7191c"/>
<rect x="1614.19" y="700.44" width="23.22" height="1.04" fill="#2b3792"/>
<rect x="1614.19" y="701.48" width="23.22" height="8.85" fill="#ffffff"/>
<rect x="1614.19" y="710.33" width="23.22" height="2.60" fill="#d7191c"/>
<rect x="1614.19" y="712.94" width="23.22" height="1.04" fill="#2b3792"/>
<rect x="1614.19" y="713.98" width="23.22" height="1.56" fill="#f4e3a2"/>
<rect x="1614.19" y="715.54" width="23.22" height="1.56" fill="#9b9bd2"/>
<rect x="1614.19" y="717.10" width="23.22" height="2.90" fill="#ffffff"/>
<rect x="1614.19" y="720.00" width="23.22" height="18.23" fill="#ffffff"/>
<rect x="1614.19" y="738.23" width="23.22" height="1.56" fill="#2b3792"/>
<rect x="1614.19" y="739.79" width="23.22" height="1.04" fill="#f4e3a2"/>
<rect x="1614.19" y="740.83" width="23.22" height="3.12" fill="#2b3792"/>
<rect x="1614.19" y="743.96" width="23.22" height="6.25" fill="#ffffff"/>
<rect x="1614.19" y="750.21" width="23.22" height="1.56" fill="#d7191c"/>
<rect x="1614.19" y="751.77" width="23.22" height="2.08" fill="#2b3792"/>
<rect x="1614.19" y="753.85" width="23.22" height="2.08" fill="#d7191c"/>
<rect x="1614.19" y="755.94" width="23.22" height="2.08" fill="#2b3792"/>
<rect x="1614.19" y="758.02" width="23.22" height="15.10" fill="#ffffff"/>
<rect x="1614.19" y="773.12" width="23.22" height="1.56" fill="#2b3792"/>
<rect x="1614.19" y="774.69" width="23.22" height="1.56" fill="#ffffff"/>
<rect x="1614.19" y="776.25" width="23.22" height="2.60" fill="#2b3792"/>
<rect x="1614.19" y="778.85" width="23.22" height="3.12" fill="#d7191c"/>
<rect x="1614.19" y="781.98" width="23.22" height="1.56" fill="#2b3792"/>
<rect x="1614.19" y="783.54" width="23.22" height="0.52" fill="#ffffff"/>
<rect x="1614.19" y="784.06" width="23.22" height="1.56" fill="#d7191c"/>
<rect x="1614.19" y="785.62" width="23.22" height="1.04" fill="#ffffff"/>
<rect x="1614.19" y="786.67" width="23.22" height="1.56" fill="#f4e3a2"/>
<rect x="1614.19" y="788.23" width="23.22" height="1.04" fill="#ffffff"/>
<rect x="1614.19" y="789.27" width="23.22" height="2.08" fill="#f4e3a2"/>
<rect x="1614.19" y="791.35" width="23.22" height="5.73" fill="#2b3792"/>
<rect x="1614.19" y="797.08" width="23.22" height="1.56" fill="#d7191c"/>
<rect x="1614.19" y="798.65" width="23.22" height="3.65" fill="#ffffff"/>
<rect x="1614.19" y="802.29" width="23.22" height="1.88" fill="#d7191c"/>
<rect x="1614.19" y="804.17" width="23.22" height="1.25" fill="#2b3792"/>
<rect x="1614.19" y="805.42" width="23.22" height="1.56" fill="#ffffff"/>
<rect x="1614.19" y="806.98" width="23.22" height="1.56" fill="#d7191c"/>
<rect x="1614.19" y="808.54" width="23.22" height="1.04" fill="#2b3792"/>
<rect x="1614.19" y="809.58" width="23.22" height="4.17" fill="#ffffff"/>
<rect x="1614.19" y="813.75" width="23.22" height="1.56" fill="#2b3792"/>
<rect x="1614.19" y="815.31" width="23.22" height="1.04" fill="#d7191c"/>
<rect x="1614.19" y="816.35" width="23.22" height="1.56" fill="#f08a80"/>
<rect x="1614.19" y="817.92" width="23.22" height="1.04" fill="#d7191c"/>
<rect x="1614.19" y="818.96" width="23.22" height="1.56" fill="#ffffff"/>
<rect x="1614.19" y="820.52" width="23.22" height="2.60" fill="#2b3792"/>
<rect x="1614.19" y="823.12" width="23.22" height="1.56" fill="#d7191c"/>
<rect x="1614.19" y="824.69" width="23.22" height="9.38" fill="#2b3792"/>
<rect x="1614.19" y="834.06" width="23.22" height="3.94" fill="#ffffff"/>
<rect x="1614.19" y="838.00" width="23.22" height="1.56" fill="#ffffff"/>
<rect x="1614.19" y="839.56" width="23.22" height="1.04" fill="#2b3792"/>
<rect x="1614.19" y="840.60" width="23.22" height="1.04" fill="#d7191c"/>
<rect x="1614.19" y="841.65" width="23.22" height="1.56" fill="#f4e3a2"/>
<rect x="1614.19" y="843.21" width="23.22" height="1.04" fill="#ffffff"/>
<rect x="1614.19" y="844.25" width="23.22" height="1.25" fill="#2b3792"/>
<rect x="1614.19" y="845.50" width="23.22" height="0.83" fill="#ffffff"/>
<rect x="1614.19" y="846.33" width="23.22" height="1.56" fill="#d7191c"/>
<rect x="1614.19" y="847.90" width="23.22" height="3.12" fill="#ffffff"/>
<rect x="1614.19" y="851.02" width="23.22" height="1.56" fill="#d7191c"/>
<rect x="1614.19" y="852.58" width="23.22" height="2.60" fill="#ffffff"/>
<rect x="1614.19" y="855.19" width="23.22" height="2.60" fill="#2b3792"/>
<rect x="1614.19" y="857.79" width="23.22" height="1.04" fill="#ffffff"/>
<rect x="1614.19" y="858.83" width="23.22" height="1.56" fill="#2b3792"/>
<rect x="1614.19" y="860.40" width="23.22" height="4.69" fill="#ffffff"/>
<rect x="1614.19" y="865.08" width="23.22" height="1.04" fill="#f4e3a2"/>
<rect x="1614.19" y="866.12" width="23.22" height="4.17" fill="#ffffff"/>
<rect x="1614.19" y="870.29" width="23.22" height="2.08" fill="#2b3792"/>
<rect x="1614.19" y="872.38" width="23.22" height="0.52" fill="#ffffff"/>
<rect x="1614.19" y="872.90" width="23.22" height="1.56" fill="#f4e3a2"/>
<rect x="1614.19" y="874.46" width="23.22" height="1.56" fill="#ffffff"/>
<rect x="1614.19" y="876.02" width="23.22" height="2.08" fill="#d7191c"/>
<rect x="1614.19" y="878.10" width="23.22" height="1.56" fill="#ffffff"/>
<rect x="1614.19" y="879.67" width="23.22" height="2.60" fill="#d7191c"/>
<rect x="1614.19" y="882.27" width="23.22" height="3.65" fill="#2b3792"/>
<rect x="1614.19" y="885.92" width="23.22" height="1.56" fill="#d7191c"/>
<rect x="1614.19" y="887.48" width="23.22" height="3.65" fill="#2b3792"/>
<rect x="1614.19" y="891.12" width="23.22" height="3.12" fill="#ffffff"/>
<rect x="1614.19" y="894.25" width="23.22" height="3.65" fill="#2b3792"/>
<rect x="1614.19" y="897.90" width="23.22" height="3.65" fill="#ffffff"/>
<rect x="1614.19" y="901.54" width="23.22" height="4.17" fill="#d7191c"/>
<rect x="1614.19" y="905.71" width="23.22" height="4.17" fill="#ffffff"/>
<rect x="1614.19" y="909.88" width="23.22" height="1.56" fill="#d7191c"/>
<rect x="1614.19" y="911.44" width="23.22" height="4.17" fill="#ffffff"/>
<rect x="1614.19" y="915.60" width="23.22" height="1.56" fill="#d7191c"/>
<rect x="1614.19" y="917.17" width="23.22" height="2.60" fill="#2b3792"/>
<rect x="1614.19" y="919.77" width="23.22" height="2.60" fill="#ffffff"/>
<rect x="1614.19" y="922.38" width="23.22" height="1.56" fill="#f4e3a2"/>
<rect x="1614.19" y="923.94" width="23.22" height="14.06" fill="#ffffff"/>
<rect x="1614.19" y="938.00" width="23.22" height="1.04" fill="#2b3792"/>
<rect x="1614.19" y="939.04" width="23.22" height="7.81" fill="#ffffff"/>
<rect x="1614.19" y="946.85" width="23.22" height="1.04" fill="#2b3792"/>
<rect x="1614.19" y="947.90" width="23.22" height="1.56" fill="#ffffff"/>
<rect x="1614.19" y="949.46" width="23.22" height="0.54" fill="#d7191c"/>
<rect x="1614.19" y="950.00" width="23.22" height="2.08" fill="#d7191c"/>
<rect x="1614.19" y="952.08" width="23.22" height="5.21" fill="#2b3792"/>
<rect x="1614.19" y="957.29" width="23.22" height="1.56" fill="#d7191c"/>
<rect x="1614.19" y="958.85" width="23.22" height="1.04" fill="#ffffff"/>
<rect x="1614.19" y="959.90" width="23.22" height="1.04" fill="#d7191c"/>
<rect x="1614.19" y="960.94" width="23.22" height="1.56" fill="#2b3792"/>
<rect x="1614.19" y="962.50" width="23.22" height="1.04" fill="#d7191c"/>
<rect x="1614.19" y="963.54" width="23.22" height="1.56" fill="#2b3792"/>
<rect x="1614.19" y="965.10" width="23.22" height="1.04" fill="#d7191c"/>
<rect x="1614.19" y="966.15" width="23.22" height="3.12" fill="#2b3792"/>
<rect x="1614.19" y="969.27" width="23.22" height="2.08" fill="#ffffff"/>
<rect x="1614.19" y="971.35" width="23.22" height="1.04" fill="#2b3792"/>
<rect x="1614.19" y="972.40" width="23.22" height="5.73" fill="#ffffff"/>
<rect x="1614.19" y="978.12" width="23.22" height="1.04" fill="#d7191c"/>
<rect x="1614.19" y="979.17" width="23.22" height="1.56" fill="#2b3792"/>
<rect x="1614.19" y="980.73" width="23.22" height="1.04" fill="#d7191c"/>
<rect x="1614.19" y="981.77" width="23.22" height="4.17" fill="#ffffff"/>
<rect x="1614.19" y="985.94" width="23.22" height="1.56" fill="#d7191c"/>
<rect x="1614.19" y="987.50" width="23.22" height="1.04" fill="#2b3792"/>
<rect x="1614.19" y="988.54" width="23.22" height="1.04" fill="#ffffff"/>
<rect x="1614.19" y="989.58" width="23.22" height="1.04" fill="#f4e3a2"/>
<rect x="1614.19" y="990.62" width="23.22" height="0.52" fill="#ffffff"/>
<rect x="1614.19" y="991.15" width="23.22" height="1.04" fill="#d7191c"/>
<rect x="1614.19" y="992.19" width="23.22" height="1.56" fill="#2b3792"/>
<rect x="1614.19" y="993.75" width="23.22" height="2.08" fill="#d7191c"/>
<rect x="1614.19" y="995.83" width="23.22" height="1.04" fill="#2b3792"/>
<rect x="1614.19" y="996.88" width="23.22" height="2.08" fill="#ffffff"/>
<rect x="1614.19" y="998.96" width="23.22" height="1.56" fill="#2b3792"/>
<rect x="1614.19" y="1000.52" width="23.22" height="2.60" fill="#ffffff"/>
<rect x="1614.19" y="1003.12" width="23.22" height="3.65" fill="#d7191c"/>
<rect x="1614.19" y="1006.77" width="23.22" height="2.08" fill="#ffffff"/>
<rect x="1614.19" y="1008.85" width="23.22" height="1.35" fill="#2b3792"/>
<rect x="1614.19" y="1010.21" width="23.22" height="33.54" fill="#ffffff"/>
<rect x="1614.19" y="1043.75" width="23.22" height="5.73" fill="#2b3792"/>
<rect x="1614.19" y="1049.48" width="23.22" height="9.02" fill="#ffffff"/>
<rect x="1637.41" y="132.30" width="23.22" height="2.39" fill="#0e8a74"/>
<rect x="1637.41" y="134.69" width="23.22" height="9.38" fill="#ffffff"/>
<rect x="1637.41" y="144.06" width="23.22" height="1.04" fill="#fdbe4b"/>
<rect x="1637.41" y="145.10" width="23.22" height="13.02" fill="#0e8a74"/>
<rect x="1637.41" y="158.12" width="23.22" height="11.46" fill="#ffffff"/>
<rect x="1637.41" y="169.58" width="23.22" height="2.08" fill="#fdbe4b"/>
<rect x="1637.41" y="171.67" width="23.22" height="3.12" fill="#ffffff"/>
<rect x="1637.41" y="174.79" width="23.22" height="2.08" fill="#fdbe4b"/>
<rect x="1637.41" y="176.88" width="23.22" height="2.08" fill="#ffffff"/>
<rect x="1637.41" y="178.96" width="23.22" height="1.04" fill="#fdbe4b"/>
<rect x="1637.41" y="180.00" width="23.22" height="2.60" fill="#ffffff"/>
<rect x="1637.41" y="182.60" width="23.22" height="1.56" fill="#fdbe4b"/>
<rect x="1637.41" y="184.17" width="23.22" height="7.81" fill="#ffffff"/>
<rect x="1637.41" y="191.98" width="23.22" height="1.77" fill="#0e8a74"/>
<rect x="1637.41" y="193.75" width="23.22" height="0.83" fill="#fdbe4b"/>
<rect x="1637.41" y="194.58" width="23.22" height="4.17" fill="#ffffff"/>
<rect x="1637.41" y="198.75" width="23.22" height="1.25" fill="#fdbe4b"/>
<rect x="1637.41" y="200.00" width="23.22" height="2.92" fill="#ffffff"/>
<rect x="1637.41" y="202.92" width="23.22" height="1.25" fill="#fdbe4b"/>
<rect x="1637.41" y="204.17" width="23.22" height="2.40" fill="#ffffff"/>
<rect x="1637.41" y="206.56" width="23.22" height="3.12" fill="#0e8a74"/>
<rect x="1637.41" y="209.69" width="23.22" height="1.04" fill="#fdbe4b"/>
<rect x="1637.41" y="210.73" width="23.22" height="1.56" fill="#0e8a74"/>
<rect x="1637.41" y="212.29" width="23.22" height="2.08" fill="#fdbe4b"/>
<rect x="1637.41" y="214.38" width="23.22" height="1.04" fill="#0e8a74"/>
<rect x="1637.41" y="215.42" width="23.22" height="0.83" fill="#ffffff"/>
<rect x="1637.41" y="216.25" width="23.22" height="0.73" fill="#0e8a74"/>
<rect x="1637.41" y="216.98" width="23.22" height="1.04" fill="#fdbe4b"/>
<rect x="1637.41" y="218.02" width="23.22" height="3.12" fill="#0e8a74"/>
<rect x="1637.41" y="221.15" width="23.22" height="1.04" fill="#fdbe4b"/>
<rect x="1637.41" y="222.19" width="23.22" height="8.85" fill="#0e8a74"/>
<rect x="1637.41" y="231.04" width="23.22" height="1.56" fill="#ffffff"/>
<rect x="1637.41" y="232.60" width="23.22" height="3.65" fill="#0e8a74"/>
<rect x="1637.41" y="236.25" width="23.22" height="1.56" fill="#fdbe4b"/>
<rect x="1637.41" y="237.81" width="23.22" height="2.08" fill="#0e8a74"/>
<rect x="1637.41" y="239.90" width="23.22" height="1.04" fill="#ffffff"/>
<rect x="1637.41" y="240.94" width="23.22" height="1.04" fill="#0e8a74"/>
<rect x="1637.41" y="241.98" width="23.22" height="5.21" fill="#fdbe4b"/>
<rect x="1637.41" y="247.19" width="23.22" height="0.81" fill="#ffffff"/>
<rect x="1637.41" y="248.00" width="23.22" height="1.04" fill="#fdbe4b"/>
<rect x="1637.41" y="249.04" width="23.22" height="1.04" fill="#0e8a74"/>
<rect x="1637.41" y="250.08" width="23.22" height="1.04" fill="#fdbe4b"/>
<rect x="1637.41" y="251.12" width="23.22" height="2.60" fill="#0e8a74"/>
<rect x="1637.41" y="253.73" width="23.22" height="1.04" fill="#ffffff"/>
<rect x="1637.41" y="254.77" width="23.22" height="2.08" fill="#fdbe4b"/>
<rect x="1637.41" y="256.85" width="23.22" height="2.60" fill="#ffffff"/>
<rect x="1637.41" y="259.46" width="23.22" height="2.08" fill="#fdbe4b"/>
<rect x="1637.41" y="261.54" width="23.22" height="1.04" fill="#0e8a74"/>
<rect x="1637.41" y="262.58" width="23.22" height="1.56" fill="#fdbe4b"/>
<rect x="1637.41" y="264.15" width="23.22" height="9.90" fill="#0e8a74"/>
<rect x="1637.41" y="274.04" width="23.22" height="1.56" fill="#a0d0c6"/>
<rect x="1637.41" y="275.60" width="23.22" height="1.04" fill="#0e8a74"/>
<rect x="1637.41" y="276.65" width="23.22" height="1.56" fill="#fdbe4b"/>
<rect x="1637.41" y="278.21" width="23.22" height="10.42" fill="#ffffff"/>
<rect x="1637.41" y="288.62" width="23.22" height="6.25" fill="#fdbe4b"/>
<rect x="1637.41" y="294.88" width="23.22" height="1.56" fill="#0e8a74"/>
<rect x="1637.41" y="296.44" width="23.22" height="1.56" fill="#fdbe4b"/>
<rect x="1637.41" y="298.00" width="23.22" height="3.12" fill="#0e8a74"/>
<rect x="1637.41" y="301.12" width="23.22" height="1.04" fill="#a9a455"/>
<rect x="1637.41" y="302.17" width="23.22" height="2.60" fill="#0e8a74"/>
<rect x="1637.41" y="304.77" width="23.22" height="1.56" fill="#fdbe4b"/>
<rect x="1637.41" y="306.33" width="23.22" height="2.60" fill="#0e8a74"/>
<rect x="1637.41" y="308.94" width="23.22" height="1.56" fill="#fdbe4b"/>
<rect x="1637.41" y="310.50" width="23.22" height="7.81" fill="#0e8a74"/>
<rect x="1637.41" y="318.31" width="23.22" height="1.56" fill="#ffffff"/>
<rect x="1637.41" y="319.88" width="23.22" height="6.25" fill="#0e8a74"/>
<rect x="1637.41" y="326.12" width="23.22" height="1.56" fill="#fdbe4b"/>
<rect x="1637.41" y="327.69" width="23.22" height="3.12" fill="#0e8a74"/>
<rect x="1637.41" y="330.81" width="23.22" height="1.04" fill="#fdbe4b"/>
<rect x="1637.41" y="331.85" width="23.22" height="6.77" fill="#0e8a74"/>
<rect x="1637.41" y="338.62" width="23.22" height="1.56" fill="#fdbe4b"/>
<rect x="1637.41" y="340.19" width="23.22" height="1.04" fill="#0e8a74"/>
<rect x="1637.41" y="341.23" width="23.22" height="4.17" fill="#ffffff"/>
<rect x="1637.41" y="345.40" width="23.22" height="1.56" fill="#fdbe4b"/>
<rect x="1637.41" y="346.96" width="23.22" height="3.65" fill="#0e8a74"/>
<rect x="1637.41" y="350.60" width="23.22" height="1.04" fill="#fdbe4b"/>
<rect x="1637.41" y="351.65" width="23.22" height="2.60" fill="#0e8a74"/>
<rect x="1637.41" y="354.25" width="23.22" height="1.56" fill="#fdbe4b"/>
<rect x="1637.41" y="355.81" width="23.22" height="3.12" fill="#0e8a74"/>
<rect x="1637.41" y="358.94" width="23.22" height="1.04" fill="#fdbe4b"/>
<rect x="1637.41" y="359.98" width="23.22" height="1.04" fill="#0e8a74"/>
<rect x="1637.41" y="361.02" width="23.22" height="1.04" fill="#fdbe4b"/>
<rect x="1637.41" y="362.06" width="23.22" height="1.04" fill="#0e8a74"/>
<rect x="1637.41" y="363.10" width="23.22" height="1.56" fill="#fdbe4b"/>
<rect x="1637.41" y="364.67" width="23.22" height="1.33" fill="#0e8a74"/>
<rect x="1637.41" y="366.00" width="23.22" height="2.08" fill="#0e8a74"/>
<rect x="1637.41" y="368.08" width="23.22" height="2.08" fill="#fdbe4b"/>
<rect x="1637.41" y="370.17" width="23.22" height="1.04" fill="#0e8a74"/>
<rect x="1637.41" y="371.21" width="23.22" height="1.04" fill="#a9a455"/>
<rect x="1637.41" y="372.25" width="23.22" height="2.60" fill="#0e8a74"/>
<rect x="1637.41" y="374.85" width="23.22" height="6.77" fill="#ffffff"/>
<rect x="1637.41" y="381.62" width="23.22" height="1.04" fill="#0e8a74"/>
<rect x="1637.41" y="382.67" width="23.22" height="2.60" fill="#ffffff"/>
<rect x="1637.41" y="385.27" width="23.22" height="1.04" fill="#a0d0c6"/>
<rect x="1637.41" y="386.31" width="23.22" height="6.25" fill="#ffffff"/>
<rect x="1637.41" y="392.56" width="23.22" height="1.04" fill="#fdbe4b"/>
<rect x="1637.41" y="393.60" width="23.22" height="0.52" fill="#ffffff"/>
<rect x="1637.41" y="394.12" width="23.22" height="1.56" fill="#a0d0c6"/>
<rect x="1637.41" y="395.69" width="23.22" height="1.04" fill="#0e8a74"/>
<rect x="1637.41" y="396.73" width="23.22" height="5.21" fill="#fdbe4b"/>
<rect x="1637.41" y="401.94" width="23.22" height="9.90" fill="#ffffff"/>
<rect x="1637.41" y="411.83" width="23.22" height="6.25" fill="#fdbe4b"/>
<rect x="1637.41" y="418.08" width="23.22" height="1.04" fill="#ffffff"/>
<rect x="1637.41" y="419.12" width="23.22" height="2.60" fill="#fdbe4b"/>
<rect x="1637.41" y="421.73" width="23.22" height="1.56" fill="#0e8a74"/>
<rect x="1637.41" y="423.29" width="23.22" height="5.21" fill="#fdbe4b"/>
<rect x="1637.41" y="428.50" width="23.22" height="28.12" fill="#ffffff"/>
<rect x="1637.41" y="456.62" width="23.22" height="1.56" fill="#0e8a74"/>
<rect x="1637.41" y="458.19" width="23.22" height="0.52" fill="#ffffff"/>
<rect x="1637.41" y="458.71" width="23.22" height="2.29" fill="#fdbe4b"/>
<rect x="1637.41" y="461.00" width="23.22" height="3.96" fill="#ffffff"/>
<rect x="1637.41" y="464.96" width="23.22" height="1.56" fill="#fdbe4b"/>
<rect x="1637.41" y="466.52" width="23.22" height="1.56" fill="#ffffff"/>
<rect x="1637.41" y="468.08" width="23.22" height="2.60" fill="#0e8a74"/>
<rect x="1637.41" y="470.69" width="23.22" height="3.65" fill="#fdbe4b"/>
<rect x="1637.41" y="474.33" width="23.22" height="0.52" fill="#0e8a74"/>
<rect x="1637.41" y="474.85" width="23.22" height="2.08" fill="#ffffff"/>
<rect x="1637.41" y="476.94" width="23.22" height="1.56" fill="#fdbe4b"/>
<rect x="1637.41" y="478.50" width="23.22" height="1.56" fill="#ffffff"/>
<rect x="1637.41" y="480.06" width="23.22" height="1.56" fill="#fdbe4b"/>
<rect x="1637.41" y="481.62" width="23.22" height="1.04" fill="#ffffff"/>
<rect x="1637.41" y="482.67" width="23.22" height="1.33" fill="#0e8a74"/>
<rect x="1637.41" y="484.00" width="23.22" height="1.56" fill="#0e8a74"/>
<rect x="1637.41" y="485.56" width="23.22" height="3.65" fill="#ffffff"/>
<rect x="1637.41" y="489.21" width="23.22" height="16.15" fill="#0e8a74"/>
<rect x="1637.41" y="505.35" width="23.22" height="4.17" fill="#fdbe4b"/>
<rect x="1637.41" y="509.52" width="23.22" height="2.60" fill="#ffffff"/>
<rect x="1637.41" y="512.12" width="23.22" height="1.56" fill="#fdbe4b"/>
<rect x="1637.41" y="513.69" width="23.22" height="1.04" fill="#0e8a74"/>
<rect x="1637.41" y="514.73" width="23.22" height="16.67" fill="#ffffff"/>
<rect x="1637.41" y="531.40" width="23.22" height="1.56" fill="#0e8a74"/>
<rect x="1637.41" y="532.96" width="23.22" height="1.04" fill="#ffffff"/>
<rect x="1637.41" y="534.00" width="23.22" height="2.08" fill="#fdbe4b"/>
<rect x="1637.41" y="536.08" width="23.22" height="4.69" fill="#0e8a74"/>
<rect x="1637.41" y="540.77" width="23.22" height="1.04" fill="#fdbe4b"/>
<rect x="1637.41" y="541.81" width="23.22" height="21.88" fill="#0e8a74"/>
<rect x="1637.41" y="563.69" width="23.22" height="1.56" fill="#ffffff"/>
<rect x="1637.41" y="565.25" width="23.22" height="2.08" fill="#fdbe4b"/>
<rect x="1637.41" y="567.33" width="23.22" height="9.38" fill="#0e8a74"/>
<rect x="1637.41" y="576.71" width="23.22" height="1.04" fill="#fdbe4b"/>
<rect x="1637.41" y="577.75" width="23.22" height="12.50" fill="#0e8a74"/>
<rect x="1637.41" y="590.25" width="23.22" height="2.60" fill="#fdbe4b"/>
<rect x="1637.41" y="592.85" width="23.22" height="2.60" fill="#0e8a74"/>
<rect x="1637.41" y="595.46" width="23.22" height="1.56" fill="#fdbe4b"/>
<rect x="1637.41" y="597.02" width="23.22" height="4.69" fill="#0e8a74"/>
<rect x="1637.41" y="601.71" width="23.22" height="0.29" fill="#a9a455"/>
<rect x="1637.41" y="602.00" width="23.22" height="1.56" fill="#a9a455"/>
<rect x="1637.41" y="603.56" width="23.22" height="7.29" fill="#0e8a74"/>
<rect x="1637.41" y="610.85" width="23.22" height="1.56" fill="#a9a455"/>
<rect x="1637.41" y="612.42" width="23.22" height="1.04" fill="#0e8a74"/>
<rect x="1637.41" y="613.46" width="23.22" height="1.04" fill="#a9a455"/>
<rect x="1637.41" y="614.50" width="23.22" height="4.69" fill="#0e8a74"/>
<rect x="1637.41" y="619.19" width="23.22" height="1.56" fill="#a9a455"/>
<rect x="1637.41" y="620.75" width="23.22" height="1.04" fill="#0e8a74"/>
<rect x="1637.41" y="621.79" width="23.22" height="1.04" fill="#fdbe4b"/>
<rect x="1637.41" y="622.83" width="23.22" height="5.21" fill="#0e8a74"/>
<rect x="1637.41" y="628.04" width="23.22" height="1.56" fill="#a9a455"/>
<rect x="1637.41" y="629.60" width="23.22" height="14.58" fill="#0e8a74"/>
<rect x="1637.41" y="644.19" width="23.22" height="2.60" fill="#ffffff"/>
<rect x="1637.41" y="646.79" width="23.22" height="4.17" fill="#0e8a74"/>
<rect x="1637.41" y="650.96" width="23.22" height="1.56" fill="#ffffff"/>
<rect x="1637.41" y="652.52" width="23.22" height="2.60" fill="#0e8a74"/>
<rect x="1637.41" y="655.12" width="23.22" height="1.04" fill="#fdbe4b"/>
<rect x="1637.41" y="656.17" width="23.22" height="10.42" fill="#0e8a74"/>
<rect x="1637.41" y="666.58" width="23.22" height="1.56" fill="#ffffff"/>
<rect x="1637.41" y="668.15" width="23.22" height="1.56" fill="#0e8a74"/>
<rect x="1637.41" y="669.71" width="23.22" height="1.56" fill="#ffffff"/>
<rect x="1637.41" y="671.27" width="23.22" height="7.81" fill="#0e8a74"/>
<rect x="1637.41" y="679.08" width="23.22" height="15.10" fill="#ffffff"/>
<rect x="1637.41" y="694.19" width="23.22" height="1.04" fill="#fdbe4b"/>
<rect x="1637.41" y="695.23" width="23.22" height="2.60" fill="#ffffff"/>
<rect x="1637.41" y="697.83" width="23.22" height="3.65" fill="#0e8a74"/>
<rect x="1637.41" y="701.48" width="23.22" height="1.56" fill="#ffffff"/>
<rect x="1637.41" y="703.04" width="23.22" height="1.56" fill="#fdbe4b"/>
<rect x="1637.41" y="704.60" width="23.22" height="4.17" fill="#ffffff"/>
<rect x="1637.41" y="708.77" width="23.22" height="6.25" fill="#0e8a74"/>
<rect x="1637.41" y="715.02" width="23.22" height="2.60" fill="#a0d0c6"/>
<rect x="1637.41" y="717.62" width="23.22" height="2.38" fill="#ffffff"/>
<rect x="1637.41" y="720.00" width="23.22" height="18.23" fill="#ffffff"/>
<rect x="1637.41" y="738.23" width="23.22" height="5.73" fill="#0e8a74"/>
<rect x="1637.41" y="743.96" width="23.22" height="5.00" fill="#ffffff"/>
<rect x="1637.41" y="748.96" width="23.22" height="9.06" fill="#0e8a74"/>
<rect x="1637.41" y="758.02" width="23.22" height="15.10" fill="#ffffff"/>
<rect x="1637.41" y="773.12" width="23.22" height="1.56" fill="#0e8a74"/>
<rect x="1637.41" y="774.69" width="23.22" height="1.56" fill="#ffffff"/>
<rect x="1637.41" y="776.25" width="23.22" height="3.65" fill="#0e8a74"/>
<rect x="1637.41" y="779.90" width="23.22" height="1.04" fill="#fdbe4b"/>
<rect x="1637.41" y="780.94" width="23.22" height="3.12" fill="#0e8a74"/>
<rect x="1637.41" y="784.06" width="23.22" height="1.56" fill="#fdbe4b"/>
<rect x="1637.41" y="785.62" width="23.22" height="13.54" fill="#0e8a74"/>
<rect x="1637.41" y="799.17" width="23.22" height="1.04" fill="#ffffff"/>
<rect x="1637.41" y="800.21" width="23.22" height="1.56" fill="#fdbe4b"/>
<rect x="1637.41" y="801.77" width="23.22" height="10.42" fill="#0e8a74"/>
<rect x="1637.41" y="812.19" width="23.22" height="1.04" fill="#ffffff"/>
<rect x="1637.41" y="813.23" width="23.22" height="7.81" fill="#0e8a74"/>
<rect x="1637.41" y="821.04" width="23.22" height="1.56" fill="#fdbe4b"/>
<rect x="1637.41" y="822.60" width="23.22" height="4.17" fill="#0e8a74"/>
<rect x="1637.41" y="826.77" width="23.22" height="1.56" fill="#fdbe4b"/>
<rect x="1637.41" y="828.33" width="23.22" height="2.60" fill="#0e8a74"/>
<rect x="1637.41" y="830.94" width="23.22" height="2.08" fill="#fdbe4b"/>
<rect x="1637.41" y="833.02" width="23.22" height="1.04" fill="#0e8a74"/>
<rect x="1637.41" y="834.06" width="23.22" height="1.04" fill="#fdbe4b"/>
<rect x="1637.41" y="835.10" width="23.22" height="2.90" fill="#ffffff"/>
<rect x="1637.41" y="838.00" width="23.22" height="1.56" fill="#ffffff"/>
<rect x="1637.41" y="839.56" width="23.22" height="3.12" fill="#0e8a74"/>
<rect x="1637.41" y="842.69" width="23.22" height="1.04" fill="#ffffff"/>
<rect x="1637.41" y="843.73" width="23.22" height="1.04" fill="#a0d0c6"/>
<rect x="1637.41" y="844.77" width="23.22" height="1.04" fill="#ffffff"/>
<rect x="1637.41" y="845.81" width="23.22" height="2.60" fill="#fdbe4b"/>
<rect x="1637.41" y="848.42" width="23.22" height="2.60" fill="#ffffff"/>
<rect x="1637.41" y="851.02" width="23.22" height="1.56" fill="#a0d0c6"/>
<rect x="1637.41" y="852.58" width="23.22" height="2.60" fill="#ffffff"/>
<rect x="1637.41" y="855.19" width="23.22" height="5.21" fill="#0e8a74"/>
<rect x="1637.41" y="860.40" width="23.22" height="4.69" fill="#ffffff"/>
<rect x="1637.41" y="865.08" width="23.22" height="2.08" fill="#0e8a74"/>
<rect x="1637.41" y="867.17" width="23.22" height="1.56" fill="#fdbe4b"/>
<rect x="1637.41" y="868.73" width="23.22" height="9.38" fill="#0e8a74"/>
<rect x="1637.41" y="878.10" width="23.22" height="1.04" fill="#fdbe4b"/>
<rect x="1637.41" y="879.15" width="23.22" height="1.04" fill="#a0d0c6"/>
<rect x="1637.41" y="880.19" width="23.22" height="11.46" fill="#0e8a74"/>
<rect x="1637.41" y="891.65" width="23.22" height="1.56" fill="#ffffff"/>
<rect x="1637.41" y="893.21" width="23.22" height="4.69" fill="#0e8a74"/>
<rect x="1637.41" y="897.90" width="23.22" height="3.12" fill="#ffffff"/>
<rect x="1637.41" y="901.02" width="23.22" height="1.56" fill="#0e8a74"/>
<rect x="1637.41" y="902.58" width="23.22" height="1.04" fill="#a0d0c6"/>
<rect x="1637.41" y="903.62" width="23.22" height="2.60" fill="#0e8a74"/>
<rect x="1637.41" y="906.23" width="23.22" height="3.65" fill="#ffffff"/>
<rect x="1637.41" y="909.88" width="23.22" height="1.56" fill="#a0d0c6"/>
<rect x="1637.41" y="911.44" width="23.22" height="4.17" fill="#ffffff"/>
<rect x="1637.41" y="915.60" width="23.22" height="4.17" fill="#0e8a74"/>
<rect x="1637.41" y="919.77" width="23.22" height="2.60" fill="#ffffff"/>
<rect x="1637.41" y="922.38" width="23.22" height="1.56" fill="#0e8a74"/>
<rect x="1637.41" y="923.94" width="23.22" height="1.04" fill="#ffffff"/>
<rect x="1637.41" y="924.98" width="23.22" height="1.56" fill="#fdbe4b"/>
<rect x="1637.41" y="926.54" width="23.22" height="2.60" fill="#a0d0c6"/>
<rect x="1637.41" y="929.15" width="23.22" height="2.60" fill="#0e8a74"/>
<rect x="1637.41" y="931.75" width="23.22" height="1.04" fill="#ffffff"/>
<rect x="1637.41" y="932.79" width="23.22" height="1.56" fill="#a0d0c6"/>
<rect x="1637.41" y="934.35" width="23.22" height="3.12" fill="#ffffff"/>
<rect x="1637.41" y="937.48" width="23.22" height="1.04" fill="#a0d0c6"/>
<rect x="1637.41" y="938.52" width="23.22" height="7.29" fill="#ffffff"/>
<rect x="1637.41" y="945.81" width="23.22" height="2.08" fill="#fdbe4b"/>
<rect x="1637.41" y="947.90" width="23.22" height="1.04" fill="#ffffff"/>
<rect x="1637.41" y="948.94" width="23.22" height="1.06" fill="#0e8a74"/>
<rect x="1637.41" y="950.00" width="23.22" height="9.90" fill="#0e8a74"/>
<rect x="1637.41" y="959.90" width="23.22" height="0.52" fill="#a0d0c6"/>
<rect x="1637.41" y="960.42" width="23.22" height="2.08" fill="#fdbe4b"/>
<rect x="1637.41" y="962.50" width="23.22" height="7.29" fill="#0e8a74"/>
<rect x="1637.41" y="969.79" width="23.22" height="1.04" fill="#ffffff"/>
<rect x="1637.41" y="970.83" width="23.22" height="1.56" fill="#a0d0c6"/>
<rect x="1637.41" y="972.40" width="23.22" height="5.73" fill="#ffffff"/>
<rect x="1637.41" y="978.12" width="23.22" height="3.65" fill="#0e8a74"/>
<rect x="1637.41" y="981.77" width="23.22" height="4.17" fill="#ffffff"/>
<rect x="1637.41" y="985.94" width="23.22" height="1.56" fill="#0e8a74"/>
<rect x="1637.41" y="987.50" width="23.22" height="1.04" fill="#ffffff"/>
<rect x="1637.41" y="988.54" width="23.22" height="1.04" fill="#a0d0c6"/>
<rect x="1637.41" y="989.58" width="23.22" height="0.52" fill="#ffffff"/>
<rect x="1637.41" y="990.10" width="23.22" height="10.94" fill="#0e8a74"/>
<rect x="1637.41" y="1001.04" width="23.22" height="2.08" fill="#ffffff"/>
<rect x="1637.41" y="1003.12" width="23.22" height="3.65" fill="#0e8a74"/>
<rect x="1637.41" y="1006.77" width="23.22" height="1.56" fill="#ffffff"/>
<rect x="1637.41" y="1008.33" width="23.22" height="1.88" fill="#0e8a74"/>
<rect x="1637.41" y="1010.21" width="23.22" height="6.98" fill="#ffffff"/>
<rect x="1637.41" y="1017.19" width="23.22" height="3.65" fill="#0e8a74"/>
<rect x="1637.41" y="1020.83" width="23.22" height="1.04" fill="#ffffff"/>
<rect x="1637.41" y="1021.88" width="23.22" height="1.04" fill="#fdbe4b"/>
<rect x="1637.41" y="1022.92" width="23.22" height="1.04" fill="#ffffff"/>
<rect x="1637.41" y="1023.96" width="23.22" height="1.04" fill="#f6e8b2"/>
<rect x="1637.41" y="1025.00" width="23.22" height="1.04" fill="#ffffff"/>
<rect x="1637.41" y="1026.04" width="23.22" height="1.56" fill="#a0d0c6"/>
<rect x="1637.41" y="1027.60" width="23.22" height="2.60" fill="#ffffff"/>
<rect x="1637.41" y="1030.21" width="23.22" height="1.56" fill="#fdbe4b"/>
<rect x="1637.41" y="1031.77" width="23.22" height="11.98" fill="#ffffff"/>
<rect x="1637.41" y="1043.75" width="23.22" height="5.73" fill="#0e8a74"/>
<rect x="1637.41" y="1049.48" width="23.22" height="9.02" fill="#ffffff"/>
<rect x="1660.63" y="132.30" width="23.22" height="2.39" fill="#0e8a74"/>
<rect x="1660.63" y="134.69" width="23.22" height="9.38" fill="#ffffff"/>
<rect x="1660.63" y="144.06" width="23.22" height="1.04" fill="#fdbe4b"/>
<rect x="1660.63" y="145.10" width="23.22" height="13.02" fill="#0e8a74"/>
<rect x="1660.63" y="158.12" width="23.22" height="11.46" fill="#ffffff"/>
<rect x="1660.63" y="169.58" width="23.22" height="2.08" fill="#fdbe4b"/>
<rect x="1660.63" y="171.67" width="23.22" height="3.12" fill="#ffffff"/>
<rect x="1660.63" y="174.79" width="23.22" height="2.08" fill="#fdbe4b"/>
<rect x="1660.63" y="176.88" width="23.22" height="2.08" fill="#ffffff"/>
<rect x="1660.63" y="178.96" width="23.22" height="1.56" fill="#fdbe4b"/>
<rect x="1660.63" y="180.52" width="23.22" height="3.65" fill="#0e8a74"/>
<rect x="1660.63" y="184.17" width="23.22" height="7.81" fill="#ffffff"/>
<rect x="1660.63" y="191.98" width="23.22" height="1.77" fill="#0e8a74"/>
<rect x="1660.63" y="193.75" width="23.22" height="0.83" fill="#fdbe4b"/>
<rect x="1660.63" y="194.58" width="23.22" height="4.17" fill="#ffffff"/>
<rect x="1660.63" y="198.75" width="23.22" height="1.25" fill="#fdbe4b"/>
<rect x="1660.63" y="200.00" width="23.22" height="2.92" fill="#ffffff"/>
<rect x="1660.63" y="202.92" width="23.22" height="1.25" fill="#fdbe4b"/>
<rect x="1660.63" y="204.17" width="23.22" height="2.40" fill="#ffffff"/>
<rect x="1660.63" y="206.56" width="23.22" height="4.69" fill="#0e8a74"/>
<rect x="1660.63" y="211.25" width="23.22" height="3.12" fill="#fdbe4b"/>
<rect x="1660.63" y="214.38" width="23.22" height="1.04" fill="#0e8a74"/>
<rect x="1660.63" y="215.42" width="23.22" height="0.83" fill="#ffffff"/>
<rect x="1660.63" y="216.25" width="23.22" height="3.85" fill="#0e8a74"/>
<rect x="1660.63" y="220.10" width="23.22" height="2.60" fill="#fdbe4b"/>
<rect x="1660.63" y="222.71" width="23.22" height="8.33" fill="#0e8a74"/>
<rect x="1660.63" y="231.04" width="23.22" height="1.56" fill="#ffffff"/>
<rect x="1660.63" y="232.60" width="23.22" height="3.65" fill="#0e8a74"/>
<rect x="1660.63" y="236.25" width="23.22" height="1.56" fill="#fdbe4b"/>
<rect x="1660.63" y="237.81" width="23.22" height="2.08" fill="#0e8a74"/>
<rect x="1660.63" y="239.90" width="23.22" height="1.04" fill="#ffffff"/>
<rect x="1660.63" y="240.94" width="23.22" height="1.04" fill="#0e8a74"/>
<rect x="1660.63" y="241.98" width="23.22" height="5.21" fill="#fdbe4b"/>
<rect x="1660.63" y="247.19" width="23.22" height="0.81" fill="#ffffff"/>
<rect x="1660.63" y="248.00" width="23.22" height="1.04" fill="#fdbe4b"/>
<rect x="1660.63" y="249.04" width="23.22" height="1.04" fill="#0e8a74"/>
<rect x="1660.63" y="250.08" width="23.22" height="1.04" fill="#fdbe4b"/>
<rect x="1660.63" y="251.12" width="23.22" height="2.60" fill="#0e8a74"/>
<rect x="1660.63" y="253.73" width="23.22" height="1.56" fill="#ffffff"/>
<rect x="1660.63" y="255.29" width="23.22" height="1.56" fill="#a0d0c6"/>
<rect x="1660.63" y="256.85" width="23.22" height="2.60" fill="#ffffff"/>
<rect x="1660.63" y="259.46" width="23.22" height="1.56" fill="#fdbe4b"/>
<rect x="1660.63" y="261.02" width="23.22" height="1.56" fill="#0e8a74"/>
<rect x="1660.63" y="262.58" width="23.22" height="2.08" fill="#fdbe4b"/>
<rect x="1660.63" y="264.67" width="23.22" height="9.38" fill="#0e8a74"/>
<rect x="1660.63" y="274.04" width="23.22" height="1.56" fill="#a0d0c6"/>
<rect x="1660.63" y="275.60" width="23.22" height="1.04" fill="#0e8a74"/>
<rect x="1660.63" y="276.65" width="23.22" height="1.56" fill="#fdbe4b"/>
<rect x="1660.63" y="278.21" width="23.22" height="10.42" fill="#ffffff"/>
<rect x="1660.63" y="288.62" width="23.22" height="2.08" fill="#a9a455"/>
<rect x="1660.63" y="290.71" width="23.22" height="1.04" fill="#fdbe4b"/>
<rect x="1660.63" y="291.75" width="23.22" height="1.04" fill="#0e8a74"/>
<rect x="1660.63" y="292.79" width="23.22" height="1.56" fill="#fdbe4b"/>
<rect x="1660.63" y="294.35" width="23.22" height="2.60" fill="#0e8a74"/>
<rect x="1660.63" y="296.96" width="23.22" height="1.04" fill="#fdbe4b"/>
<rect x="1660.63" y="298.00" width="23.22" height="1.56" fill="#0e8a74"/>
<rect x="1660.63" y="299.56" width="23.22" height="8.85" fill="#fdbe4b"/>
<rect x="1660.63" y="308.42" width="23.22" height="1.04" fill="#0e8a74"/>
<rect x="1660.63" y="309.46" width="23.22" height="2.08" fill="#fdbe4b"/>
<rect x="1660.63" y="311.54" width="23.22" height="6.77" fill="#0e8a74"/>
<rect x="1660.63" y="318.31" width="23.22" height="1.56" fill="#ffffff"/>
<rect x="1660.63" y="319.88" width="23.22" height="10.94" fill="#0e8a74"/>
<rect x="1660.63" y="330.81" width="23.22" height="1.04" fill="#fdbe4b"/>
<rect x="1660.63" y="331.85" width="23.22" height="9.38" fill="#0e8a74"/>
<rect x="1660.63" y="341.23" width="23.22" height="4.17" fill="#ffffff"/>
<rect x="1660.63" y="345.40" width="23.22" height="3.12" fill="#0e8a74"/>
<rect x="1660.63" y="348.52" width="23.22" height="4.17" fill="#fdbe4b"/>
<rect x="1660.63" y="352.69" width="23.22" height="2.08" fill="#0e8a74"/>
<rect x="1660.63" y="354.77" width="23.22" height="1.56" fill="#fdbe4b"/>
<rect x="1660.63" y="356.33" width="23.22" height="2.60" fill="#0e8a74"/>
<rect x="1660.63" y="358.94" width="23.22" height="1.04" fill="#fdbe4b"/>
<rect x="1660.63" y="359.98" width="23.22" height="1.04" fill="#0e8a74"/>
<rect x="1660.63" y="361.02" width="23.22" height="1.04" fill="#fdbe4b"/>
<rect x="1660.63" y="362.06" width="23.22" height="1.04" fill="#0e8a74"/>
<rect x="1660.63" y="363.10" width="23.22" height="1.56" fill="#fdbe4b"/>
<rect x="1660.63" y="364.67" width="23.22" height="1.33" fill="#0e8a74"/>
<rect x="1660.63" y="366.00" width="23.22" height="2.08" fill="#0e8a74"/>
<rect x="1660.63" y="368.08" width="23.22" height="2.60" fill="#fdbe4b"/>
<rect x="1660.63" y="370.69" width="23.22" height="4.17" fill="#0e8a74"/>
<rect x="1660.63" y="374.85" width="23.22" height="6.77" fill="#ffffff"/>
<rect x="1660.63" y="381.62" width="23.22" height="1.04" fill="#0e8a74"/>
<rect x="1660.63" y="382.67" width="23.22" height="9.90" fill="#ffffff"/>
<rect x="1660.63" y="392.56" width="23.22" height="1.04" fill="#fdbe4b"/>
<rect x="1660.63" y="393.60" width="23.22" height="0.52" fill="#ffffff"/>
<rect x="1660.63" y="394.12" width="23.22" height="1.56" fill="#a0d0c6"/>
<rect x="1660.63" y="395.69" width="23.22" height="6.25" fill="#0e8a74"/>
<rect x="1660.63" y="401.94" width="23.22" height="9.90" fill="#ffffff"/>
<rect x="1660.63" y="411.83" width="23.22" height="4.69" fill="#0e8a74"/>
<rect x="1660.63" y="416.52" width="23.22" height="1.56" fill="#fdbe4b"/>
<rect x="1660.63" y="418.08" width="23.22" height="6.77" fill="#0e8a74"/>
<rect x="1660.63" y="424.85" width="23.22" height="1.04" fill="#fdbe4b"/>
<rect x="1660.63" y="425.90" width="23.22" height="2.60" fill="#0e8a74"/>
<rect x="1660.63" y="428.50" width="23.22" height="28.12" fill="#ffffff"/>
<rect x="1660.63" y="456.62" width="23.22" height="1.04" fill="#fdbe4b"/>
<rect x="1660.63" y="457.67" width="23.22" height="1.04" fill="#ffffff"/>
<rect x="1660.63" y="458.71" width="23.22" height="2.29" fill="#fdbe4b"/>
<rect x="1660.63" y="461.00" width="23.22" height="3.96" fill="#ffffff"/>
<rect x="1660.63" y="464.96" width="23.22" height="1.56" fill="#fdbe4b"/>
<rect x="1660.63" y="466.52" width="23.22" height="1.56" fill="#ffffff"/>
<rect x="1660.63" y="468.08" width="23.22" height="2.08" fill="#0e8a74"/>
<rect x="1660.63" y="470.17" width="23.22" height="2.08" fill="#fdbe4b"/>
<rect x="1660.63" y="472.25" width="23.22" height="4.69" fill="#ffffff"/>
<rect x="1660.63" y="476.94" width="23.22" height="1.56" fill="#fdbe4b"/>
<rect x="1660.63" y="478.50" width="23.22" height="1.56" fill="#ffffff"/>
<rect x="1660.63" y="480.06" width="23.22" height="1.56" fill="#fdbe4b"/>
<rect x="1660.63" y="481.62" width="23.22" height="0.52" fill="#ffffff"/>
<rect x="1660.63" y="482.15" width="23.22" height="1.85" fill="#0e8a74"/>
<rect x="1660.63" y="484.00" width="23.22" height="1.56" fill="#0e8a74"/>
<rect x="1660.63" y="485.56" width="23.22" height="3.65" fill="#ffffff"/>
<rect x="1660.63" y="489.21" width="23.22" height="20.31" fill="#0e8a74"/>
<rect x="1660.63" y="509.52" width="23.22" height="2.60" fill="#ffffff"/>
<rect x="1660.63" y="512.12" width="23.22" height="1.56" fill="#fdbe4b"/>
<rect x="1660.63" y="513.69" width="23.22" height="1.04" fill="#0e8a74"/>
<rect x="1660.63" y="514.73" width="23.22" height="16.67" fill="#ffffff"/>
<rect x="1660.63" y="531.40" width="23.22" height="1.56" fill="#0e8a74"/>
<rect x="1660.63" y="532.96" width="23.22" height="2.08" fill="#ffffff"/>
<rect x="1660.63" y="535.04" width="23.22" height="1.04" fill="#fdbe4b"/>
<rect x="1660.63" y="536.08" width="23.22" height="1.56" fill="#0e8a74"/>
<rect x="1660.63" y="537.65" width="23.22" height="1.56" fill="#fdbe4b"/>
<rect x="1660.63" y="539.21" width="23.22" height="22.40" fill="#0e8a74"/>
<rect x="1660.63" y="561.60" width="23.22" height="1.04" fill="#fdbe4b"/>
<rect x="1660.63" y="562.65" width="23.22" height="1.04" fill="#0e8a74"/>
<rect x="1660.63" y="563.69" width="23.22" height="1.56" fill="#ffffff"/>
<rect x="1660.63" y="565.25" width="23.22" height="4.69" fill="#fdbe4b"/>
<rect x="1660.63" y="569.94" width="23.22" height="25.00" fill="#0e8a74"/>
<rect x="1660.63" y="594.94" width="23.22" height="1.04" fill="#a9a455"/>
<rect x="1660.63" y="595.98" width="23.22" height="6.02" fill="#0e8a74"/>
<rect x="1660.63" y="602.00" width="23.22" height="19.27" fill="#0e8a74"/>
<rect x="1660.63" y="621.27" width="23.22" height="1.56" fill="#fdbe4b"/>
<rect x="1660.63" y="622.83" width="23.22" height="21.35" fill="#0e8a74"/>
<rect x="1660.63" y="644.19" width="23.22" height="2.60" fill="#ffffff"/>
<rect x="1660.63" y="646.79" width="23.22" height="1.04" fill="#fdbe4b"/>
<rect x="1660.63" y="647.83" width="23.22" height="3.12" fill="#0e8a74"/>
<rect x="1660.63" y="650.96" width="23.22" height="1.56" fill="#ffffff"/>
<rect x="1660.63" y="652.52" width="23.22" height="2.60" fill="#0e8a74"/>
<rect x="1660.63" y="655.12" width="23.22" height="1.04" fill="#fdbe4b"/>
<rect x="1660.63" y="656.17" width="23.22" height="10.42" fill="#0e8a74"/>
<rect x="1660.63" y="666.58" width="23.22" height="1.56" fill="#ffffff"/>
<rect x="1660.63" y="668.15" width="23.22" height="1.56" fill="#0e8a74"/>
<rect x="1660.63" y="669.71" width="23.22" height="1.56" fill="#ffffff"/>
<rect x="1660.63" y="671.27" width="23.22" height="7.81" fill="#0e8a74"/>
<rect x="1660.63" y="679.08" width="23.22" height="15.10" fill="#ffffff"/>
<rect x="1660.63" y="694.19" width="23.22" height="1.04" fill="#0e8a74"/>
<rect x="1660.63" y="695.23" width="23.22" height="2.60" fill="#ffffff"/>
<rect x="1660.63" y="697.83" width="23.22" height="3.65" fill="#0e8a74"/>
<rect x="1660.63" y="701.48" width="23.22" height="1.56" fill="#ffffff"/>
<rect x="1660.63" y="703.04" width="23.22" height="1.56" fill="#a0d0c6"/>
<rect x="1660.63" y="704.60" width="23.22" height="4.17" fill="#ffffff"/>
<rect x="1660.63" y="708.77" width="23.22" height="6.25" fill="#0e8a74"/>
<rect x="1660.63" y="715.02" width="23.22" height="2.60" fill="#a0d0c6"/>
<rect x="1660.63" y="717.62" width="23.22" height="2.38" fill="#ffffff"/>
<rect x="1660.63" y="720.00" width="23.22" height="18.23" fill="#ffffff"/>
<rect x="1660.63" y="738.23" width="23.22" height="5.73" fill="#0e8a74"/>
<rect x="1660.63" y="743.96" width="23.22" height="5.00" fill="#ffffff"/>
<rect x="1660.63" y="748.96" width="23.22" height="9.06" fill="#0e8a74"/>
<rect x="1660.63" y="758.02" width="23.22" height="15.10" fill="#ffffff"/>
<rect x="1660.63" y="773.12" width="23.22" height="1.56" fill="#0e8a74"/>
<rect x="1660.63" y="774.69" width="23.22" height="1.56" fill="#ffffff"/>
<rect x="1660.63" y="776.25" width="23.22" height="3.65" fill="#0e8a74"/>
<rect x="1660.63" y="779.90" width="23.22" height="1.04" fill="#fdbe4b"/>
<rect x="1660.63" y="780.94" width="23.22" height="3.12" fill="#0e8a74"/>
<rect x="1660.63" y="784.06" width="23.22" height="1.56" fill="#fdbe4b"/>
<rect x="1660.63" y="785.62" width="23.22" height="13.54" fill="#0e8a74"/>
<rect x="1660.63" y="799.17" width="23.22" height="1.56" fill="#ffffff"/>
<rect x="1660.63" y="800.73" width="23.22" height="11.46" fill="#0e8a74"/>
<rect x="1660.63" y="812.19" width="23.22" height="1.04" fill="#ffffff"/>
<rect x="1660.63" y="813.23" width="23.22" height="21.88" fill="#0e8a74"/>
<rect x="1660.63" y="835.10" width="23.22" height="2.90" fill="#ffffff"/>
<rect x="1660.63" y="838.00" width="23.22" height="1.56" fill="#ffffff"/>
<rect x="1660.63" y="839.56" width="23.22" height="3.12" fill="#0e8a74"/>
<rect x="1660.63" y="842.69" width="23.22" height="1.04" fill="#ffffff"/>
<rect x="1660.63" y="843.73" width="23.22" height="1.04" fill="#a0d0c6"/>
<rect x="1660.63" y="844.77" width="23.22" height="1.04" fill="#ffffff"/>
<rect x="1660.63" y="845.81" width="23.22" height="2.60" fill="#fdbe4b"/>
<rect x="1660.63" y="848.42" width="23.22" height="2.60" fill="#ffffff"/>
<rect x="1660.63" y="851.02" width="23.22" height="1.56" fill="#a0d0c6"/>
<rect x="1660.63" y="852.58" width="23.22" height="2.60" fill="#ffffff"/>
<rect x="1660.63" y="855.19" width="23.22" height="5.21" fill="#0e8a74"/>
<rect x="1660.63" y="860.40" width="23.22" height="4.69" fill="#ffffff"/>
<rect x="1660.63" y="865.08" width="23.22" height="2.08" fill="#0e8a74"/>
<rect x="1660.63" y="867.17" width="23.22" height="1.56" fill="#fdbe4b"/>
<rect x="1660.63" y="868.73" width="23.22" height="10.42" fill="#0e8a74"/>
<rect x="1660.63" y="879.15" width="23.22" height="1.04" fill="#a0d0c6"/>
<rect x="1660.63" y="880.19" width="23.22" height="11.46" fill="#0e8a74"/>
<rect x="1660.63" y="891.65" width="23.22" height="1.56" fill="#ffffff"/>
<rect x="1660.63" y="893.21" width="23.22" height="4.69" fill="#0e8a74"/>
<rect x="1660.63" y="897.90" width="23.22" height="4.69" fill="#ffffff"/>
<rect x="1660.63" y="902.58" width="23.22" height="1.04" fill="#a0d0c6"/>
<rect x="1660.63" y="903.62" width="23.22" height="2.60" fill="#0e8a74"/>
<rect x="1660.63" y="906.23" width="23.22" height="3.65" fill="#ffffff"/>
<rect x="1660.63" y="909.88" width="23.22" height="1.56" fill="#a0d0c6"/>
<rect x="1660.63" y="911.44" width="23.22" height="4.17" fill="#ffffff"/>
<rect x="1660.63" y="915.60" width="23.22" height="4.17" fill="#0e8a74"/>
<rect x="1660.63" y="919.77" width="23.22" height="2.60" fill="#ffffff"/>
<rect x="1660.63" y="922.38" width="23.22" height="1.56" fill="#0e8a74"/>
<rect x="1660.63" y="923.94" width="23.22" height="1.04" fill="#ffffff"/>
<rect x="1660.63" y="924.98" width="23.22" height="1.56" fill="#fdbe4b"/>
<rect x="1660.63" y="926.54" width="23.22" height="2.60" fill="#a0d0c6"/>
<rect x="1660.63" y="929.15" width="23.22" height="2.60" fill="#0e8a74"/>
<rect x="1660.63" y="931.75" width="23.22" height="1.04" fill="#ffffff"/>
<rect x="1660.63" y="932.79" width="23.22" height="1.56" fill="#a0d0c6"/>
<rect x="1660.63" y="934.35" width="23.22" height="3.12" fill="#ffffff"/>
<rect x="1660.63" y="937.48" width="23.22" height="1.04" fill="#a0d0c6"/>
<rect x="1660.63" y="938.52" width="23.22" height="7.29" fill="#ffffff"/>
<rect x="1660.63" y="945.81" width="23.22" height="2.08" fill="#fdbe4b"/>
<rect x="1660.63" y="947.90" width="23.22" height="1.04" fill="#ffffff"/>
<rect x="1660.63" y="948.94" width="23.22" height="1.06" fill="#0e8a74"/>
<rect x="1660.63" y="950.00" width="23.22" height="1.04" fill="#0e8a74"/>
<rect x="1660.63" y="951.04" width="23.22" height="1.04" fill="#fdbe4b"/>
<rect x="1660.63" y="952.08" width="23.22" height="7.81" fill="#0e8a74"/>
<rect x="1660.63" y="959.90" width="23.22" height="1.04" fill="#a0d0c6"/>
<rect x="1660.63" y="960.94" width="23.22" height="1.04" fill="#0e8a74"/>
<rect x="1660.63" y="961.98" width="23.22" height="1.04" fill="#fdbe4b"/>
<rect x="1660.63" y="963.02" width="23.22" height="6.77" fill="#0e8a74"/>
<rect x="1660.63" y="969.79" width="23.22" height="1.04" fill="#ffffff"/>
<rect x="1660.63" y="970.83" width="23.22" height="1.56" fill="#a0d0c6"/>
<rect x="1660.63" y="972.40" width="23.22" height="5.73" fill="#ffffff"/>
<rect x="1660.63" y="978.12" width="23.22" height="3.65" fill="#0e8a74"/>
<rect x="1660.63" y="981.77" width="23.22" height="4.17" fill="#ffffff"/>
<rect x="1660.63" y="985.94" width="23.22" height="1.56" fill="#0e8a74"/>
<rect x="1660.63" y="987.50" width="23.22" height="1.04" fill="#ffffff"/>
<rect x="1660.63" y="988.54" width="23.22" height="1.04" fill="#a0d0c6"/>
<rect x="1660.63" y="989.58" width="23.22" height="0.52" fill="#ffffff"/>
<rect x="1660.63" y="990.10" width="23.22" height="10.94" fill="#0e8a74"/>
<rect x="1660.63" y="1001.04" width="23.22" height="2.08" fill="#ffffff"/>
<rect x="1660.63" y="1003.12" width="23.22" height="3.65" fill="#0e8a74"/>
<rect x="1660.63" y="1006.77" width="23.22" height="1.56" fill="#ffffff"/>
<rect x="1660.63" y="1008.33" width="23.22" height="1.88" fill="#0e8a74"/>
<rect x="1660.63" y="1010.21" width="23.22" height="6.98" fill="#ffffff"/>
<rect x="1660.63" y="1017.19" width="23.22" height="3.65" fill="#0e8a74"/>
<rect x="1660.63" y="1020.83" width="23.22" height="1.04" fill="#ffffff"/>
<rect x="1660.63" y="1021.88" width="23.22" height="1.04" fill="#fdbe4b"/>
<rect x="1660.63" y="1022.92" width="23.22" height="1.04" fill="#ffffff"/>
<rect x="1660.63" y="1023.96" width="23.22" height="1.04" fill="#fdbe4b"/>
<rect x="1660.63" y="1025.00" width="23.22" height="1.04" fill="#ffffff"/>
<rect x="1660.63" y="1026.04" width="23.22" height="1.56" fill="#a0d0c6"/>
<rect x="1660.63" y="1027.60" width="23.22" height="2.60" fill="#ffffff"/>
<rect x="1660.63" y="1030.21" width="23.22" height="1.56" fill="#0e8a74"/>
<rect x="1660.63" y="1031.77" width="23.22" height="11.98" fill="#ffffff"/>
<rect x="1660.63" y="1043.75" width="23.22" height="5.73" fill="#0e8a74"/>
<rect x="1660.63" y="1049.48" width="23.22" height="9.02" fill="#ffffff"/>
<rect x="1683.85" y="132.30" width="23.22" height="2.39" fill="#0e8a74"/>
<rect x="1683.85" y="134.69" width="23.22" height="9.38" fill="#ffffff"/>
<rect x="1683.85" y="144.06" width="23.22" height="18.23" fill="#0e8a74"/>
<rect x="1683.85" y="162.29" width="23.22" height="1.56" fill="#ffffff"/>
<rect x="1683.85" y="163.85" width="23.22" height="7.81" fill="#0e8a74"/>
<rect x="1683.85" y="171.67" width="23.22" height="3.12" fill="#ffffff"/>
<rect x="1683.85" y="174.79" width="23.22" height="2.08" fill="#0e8a74"/>
<rect x="1683.85" y="176.88" width="23.22" height="2.08" fill="#ffffff"/>
<rect x="1683.85" y="178.96" width="23.22" height="5.21" fill="#0e8a74"/>
<rect x="1683.85" y="184.17" width="23.22" height="7.81" fill="#ffffff"/>
<rect x="1683.85" y="191.98" width="23.22" height="2.60" fill="#0e8a74"/>
<rect x="1683.85" y="194.58" width="23.22" height="4.17" fill="#ffffff"/>
<rect x="1683.85" y="198.75" width="23.22" height="1.25" fill="#0e8a74"/>
<rect x="1683.85" y="200.00" width="23.22" height="2.92" fill="#ffffff"/>
<rect x="1683.85" y="202.92" width="23.22" height="1.25" fill="#0e8a74"/>
<rect x="1683.85" y="204.17" width="23.22" height="2.40" fill="#ffffff"/>
<rect x="1683.85" y="206.56" width="23.22" height="24.48" fill="#0e8a74"/>
<rect x="1683.85" y="231.04" width="23.22" height="1.56" fill="#ffffff"/>
<rect x="1683.85" y="232.60" width="23.22" height="7.29" fill="#0e8a74"/>
<rect x="1683.85" y="239.90" width="23.22" height="1.04" fill="#ffffff"/>
<rect x="1683.85" y="240.94" width="23.22" height="6.25" fill="#0e8a74"/>
<rect x="1683.85" y="247.19" width="23.22" height="0.81" fill="#ffffff"/>
<rect x="1683.85" y="248.00" width="23.22" height="5.73" fill="#0e8a74"/>
<rect x="1683.85" y="253.73" width="23.22" height="1.56" fill="#ffffff"/>
<rect x="1683.85" y="255.29" width="23.22" height="1.56" fill="#0e8a74"/>
<rect x="1683.85" y="256.85" width="23.22" height="2.60" fill="#ffffff"/>
<rect x="1683.85" y="259.46" width="23.22" height="18.75" fill="#0e8a74"/>
<rect x="1683.85" y="278.21" width="23.22" height="1.04" fill="#ffffff"/>
<rect x="1683.85" y="279.25" width="23.22" height="7.81" fill="#0e8a74"/>
<rect x="1683.85" y="287.06" width="23.22" height="1.56" fill="#ffffff"/>
<rect x="1683.85" y="288.62" width="23.22" height="29.69" fill="#0e8a74"/>
<rect x="1683.85" y="318.31" width="23.22" height="1.56" fill="#ffffff"/>
<rect x="1683.85" y="319.88" width="23.22" height="21.35" fill="#0e8a74"/>
<rect x="1683.85" y="341.23" width="23.22" height="4.17" fill="#ffffff"/>
<rect x="1683.85" y="345.40" width="23.22" height="1.56" fill="#0e8a74"/>
<rect x="1683.85" y="346.96" width="23.22" height="1.56" fill="#ffffff"/>
<rect x="1683.85" y="348.52" width="23.22" height="17.48" fill="#0e8a74"/>
<rect x="1683.85" y="366.00" width="23.22" height="8.85" fill="#0e8a74"/>
<rect x="1683.85" y="374.85" width="23.22" height="6.77" fill="#ffffff"/>
<rect x="1683.85" y="381.62" width="23.22" height="1.04" fill="#0e8a74"/>
<rect x="1683.85" y="382.67" width="23.22" height="2.60" fill="#ffffff"/>
<rect x="1683.85" y="385.27" width="23.22" height="1.04" fill="#a0d0c6"/>
<rect x="1683.85" y="386.31" width="23.22" height="6.25" fill="#ffffff"/>
<rect x="1683.85" y="392.56" width="23.22" height="1.04" fill="#0e8a74"/>
<rect x="1683.85" y="393.60" width="23.22" height="0.52" fill="#ffffff"/>
<rect x="1683.85" y="394.12" width="23.22" height="1.56" fill="#a0d0c6"/>
<rect x="1683.85" y="395.69" width="23.22" height="6.25" fill="#0e8a74"/>
<rect x="1683.85" y="401.94" width="23.22" height="9.90" fill="#ffffff"/>
<rect x="1683.85" y="411.83" width="23.22" height="16.67" fill="#0e8a74"/>
<rect x="1683.85" y="428.50" width="23.22" height="4.17" fill="#ffffff"/>
<rect x="1683.85" y="432.67" width="23.22" height="2.08" fill="#0e8a74"/>
<rect x="1683.85" y="434.75" width="23.22" height="21.88" fill="#ffffff"/>
<rect x="1683.85" y="456.62" width="23.22" height="1.04" fill="#0e8a74"/>
<rect x="1683.85" y="457.67" width="23.22" height="0.52" fill="#ffffff"/>
<rect x="1683.85" y="458.19" width="23.22" height="2.81" fill="#0e8a74"/>
<rect x="1683.85" y="461.00" width="23.22" height="3.96" fill="#ffffff"/>
<rect x="1683.85" y="464.96" width="23.22" height="1.56" fill="#0e8a74"/>
<rect x="1683.85" y="466.52" width="23.22" height="1.56" fill="#ffffff"/>
<rect x="1683.85" y="468.08" width="23.22" height="6.77" fill="#0e8a74"/>
<rect x="1683.85" y="474.85" width="23.22" height="2.08" fill="#ffffff"/>
<rect x="1683.85" y="476.94" width="23.22" height="1.56" fill="#a0d0c6"/>
<rect x="1683.85" y="478.50" width="23.22" height="1.56" fill="#ffffff"/>
<rect x="1683.85" y="480.06" width="23.22" height="1.04" fill="#0e8a74"/>
<rect x="1683.85" y="481.10" width="23.22" height="1.56" fill="#ffffff"/>
<rect x="1683.85" y="482.67" width="23.22" height="1.33" fill="#0e8a74"/>
<rect x="1683.85" y="484.00" width="23.22" height="1.56" fill="#0e8a74"/>
<rect x="1683.85" y="485.56" width="23.22" height="3.65" fill="#ffffff"/>
<rect x="1683.85" y="489.21" width="23.22" height="20.31" fill="#0e8a74"/>
<rect x="1683.85" y="509.52" width="23.22" height="2.60" fill="#ffffff"/>
<rect x="1683.85" y="512.12" width="23.22" height="51.56" fill="#0e8a74"/>
<rect x="1683.85" y="563.69" width="23.22" height="1.56" fill="#ffffff"/>
<rect x="1683.85" y="565.25" width="23.22" height="36.75" fill="#0e8a74"/>
<rect x="1683.85" y="602.00" width="23.22" height="42.19" fill="#0e8a74"/>
<rect x="1683.85" y="644.19" width="23.22" height="2.60" fill="#ffffff"/>
<rect x="1683.85" y="646.79" width="23.22" height="4.17" fill="#0e8a74"/>
<rect x="1683.85" y="650.96" width="23.22" height="1.56" fill="#ffffff"/>
<rect x="1683.85" y="652.52" width="23.22" height="14.06" fill="#0e8a74"/>
<rect x="1683.85" y="666.58" width="23.22" height="1.56" fill="#ffffff"/>
<rect x="1683.85" y="668.15" width="23.22" height="1.56" fill="#0e8a74"/>
<rect x="1683.85" y="669.71" width="23.22" height="1.56" fill="#ffffff"/>
<rect x="1683.85" y="671.27" width="23.22" height="7.81" fill="#0e8a74"/>
<rect x="1683.85" y="679.08" width="23.22" height="15.10" fill="#ffffff"/>
<rect x="1683.85" y="694.19" width="23.22" height="1.04" fill="#0e8a74"/>
<rect x="1683.85" y="695.23" width="23.22" height="1.56" fill="#a9a455"/>
<rect x="1683.85" y="696.79" width="23.22" height="4.69" fill="#0e8a74"/>
<rect x="1683.85" y="701.48" width="23.22" height="1.56" fill="#ffffff"/>
<rect x="1683.85" y="703.04" width="23.22" height="1.56" fill="#a0d0c6"/>
<rect x="1683.85" y="704.60" width="23.22" height="4.17" fill="#ffffff"/>
<rect x="1683.85" y="708.77" width="23.22" height="6.25" fill="#0e8a74"/>
<rect x="1683.85" y="715.02" width="23.22" height="2.60" fill="#a0d0c6"/>
<rect x="1683.85" y="717.62" width="23.22" height="2.38" fill="#ffffff"/>
<rect x="1683.85" y="720.00" width="23.22" height="18.23" fill="#ffffff"/>
<rect x="1683.85" y="738.23" width="23.22" height="5.73" fill="#0e8a74"/>
<rect x="1683.85" y="743.96" width="23.22" height="5.00" fill="#ffffff"/>
<rect x="1683.85" y="748.96" width="23.22" height="9.06" fill="#0e8a74"/>
<rect x="1683.85" y="758.02" width="23.22" height="15.10" fill="#ffffff"/>
<rect x="1683.85" y="773.12" width="23.22" height="1.56" fill="#0e8a74"/>
<rect x="1683.85" y="774.69" width="23.22" height="1.56" fill="#ffffff"/>
<rect x="1683.85" y="776.25" width="23.22" height="22.92" fill="#0e8a74"/>
<rect x="1683.85" y="799.17" width="23.22" height="1.56" fill="#ffffff"/>
<rect x="1683.85" y="800.73" width="23.22" height="34.38" fill="#0e8a74"/>
<rect x="1683.85" y="835.10" width="23.22" height="1.04" fill="#ffffff"/>
<rect x="1683.85" y="836.15" width="23.22" height="1.56" fill="#a0d0c6"/>
<rect x="1683.85" y="837.71" width="23.22" height="0.29" fill="#ffffff"/>
<rect x="1683.85" y="838.00" width="23.22" height="1.56" fill="#ffffff"/>
<rect x="1683.85" y="839.56" width="23.22" height="3.12" fill="#0e8a74"/>
<rect x="1683.85" y="842.69" width="23.22" height="1.04" fill="#ffffff"/>
<rect x="1683.85" y="843.73" width="23.22" height="1.04" fill="#a0d0c6"/>
<rect x="1683.85" y="844.77" width="23.22" height="1.04" fill="#ffffff"/>
<rect x="1683.85" y="845.81" width="23.22" height="2.60" fill="#0e8a74"/>
<rect x="1683.85" y="848.42" width="23.22" height="2.60" fill="#ffffff"/>
<rect x="1683.85" y="851.02" width="23.22" height="1.56" fill="#a0d0c6"/>
<rect x="1683.85" y="852.58" width="23.22" height="2.60" fill="#ffffff"/>
<rect x="1683.85" y="855.19" width="23.22" height="5.21" fill="#0e8a74"/>
<rect x="1683.85" y="860.40" width="23.22" height="2.08" fill="#ffffff"/>
<rect x="1683.85" y="862.48" width="23.22" height="1.04" fill="#a0d0c6"/>
<rect x="1683.85" y="863.52" width="23.22" height="1.56" fill="#ffffff"/>
<rect x="1683.85" y="865.08" width="23.22" height="14.06" fill="#0e8a74"/>
<rect x="1683.85" y="879.15" width="23.22" height="1.04" fill="#a0d0c6"/>
<rect x="1683.85" y="880.19" width="23.22" height="11.46" fill="#0e8a74"/>
<rect x="1683.85" y="891.65" width="23.22" height="1.56" fill="#ffffff"/>
<rect x="1683.85" y="893.21" width="23.22" height="4.69" fill="#0e8a74"/>
<rect x="1683.85" y="897.90" width="23.22" height="3.12" fill="#ffffff"/>
<rect x="1683.85" y="901.02" width="23.22" height="1.56" fill="#0e8a74"/>
<rect x="1683.85" y="902.58" width="23.22" height="1.04" fill="#a0d0c6"/>
<rect x="1683.85" y="903.62" width="23.22" height="2.60" fill="#0e8a74"/>
<rect x="1683.85" y="906.23" width="23.22" height="3.65" fill="#ffffff"/>
<rect x="1683.85" y="909.88" width="23.22" height="1.56" fill="#a0d0c6"/>
<rect x="1683.85" y="911.44" width="23.22" height="4.17" fill="#ffffff"/>
<rect x="1683.85" y="915.60" width="23.22" height="4.17" fill="#0e8a74"/>
<rect x="1683.85" y="919.77" width="23.22" height="2.60" fill="#ffffff"/>
<rect x="1683.85" y="922.38" width="23.22" height="3.65" fill="#0e8a74"/>
<rect x="1683.85" y="926.02" width="23.22" height="3.12" fill="#a0d0c6"/>
<rect x="1683.85" y="929.15" width="23.22" height="2.60" fill="#0e8a74"/>
<rect x="1683.85" y="931.75" width="23.22" height="1.04" fill="#ffffff"/>
<rect x="1683.85" y="932.79" width="23.22" height="1.56" fill="#a0d0c6"/>
<rect x="1683.85" y="934.35" width="23.22" height="3.12" fill="#ffffff"/>
<rect x="1683.85" y="937.48" width="23.22" height="1.04" fill="#a0d0c6"/>
<rect x="1683.85" y="938.52" width="23.22" height="7.29" fill="#ffffff"/>
<rect x="1683.85" y="945.81" width="23.22" height="2.08" fill="#0e8a74"/>
<rect x="1683.85" y="947.90" width="23.22" height="1.04" fill="#ffffff"/>
<rect x="1683.85" y="948.94" width="23.22" height="1.06" fill="#0e8a74"/>
<rect x="1683.85" y="950.00" width="23.22" height="9.90" fill="#0e8a74"/>
<rect x="1683.85" y="959.90" width="23.22" height="1.04" fill="#a0d0c6"/>
<rect x="1683.85" y="960.94" width="23.22" height="8.85" fill="#0e8a74"/>
<rect x="1683.85" y="969.79" width="23.22" height="1.04" fill="#ffffff"/>
<rect x="1683.85" y="970.83" width="23.22" height="1.56" fill="#a0d0c6"/>
<rect x="1683.85" y="972.40" width="23.22" height="5.73" fill="#ffffff"/>
<rect x="1683.85" y="978.12" width="23.22" height="3.65" fill="#0e8a74"/>
<rect x="1683.85" y="981.77" width="23.22" height="4.17" fill="#ffffff"/>
<rect x="1683.85" y="985.94" width="23.22" height="1.56" fill="#0e8a74"/>
<rect x="1683.85" y="987.50" width="23.22" height="1.04" fill="#ffffff"/>
<rect x="1683.85" y="988.54" width="23.22" height="1.04" fill="#a0d0c6"/>
<rect x="1683.85" y="989.58" width="23.22" height="0.52" fill="#ffffff"/>
<rect x="1683.85" y="990.10" width="23.22" height="10.94" fill="#0e8a74"/>
<rect x="1683.85" y="1001.04" width="23.22" height="2.08" fill="#ffffff"/>
<rect x="1683.85" y="1003.12" width="23.22" height="3.65" fill="#0e8a74"/>
<rect x="1683.85" y="1006.77" width="23.22" height="1.56" fill="#ffffff"/>
<rect x="1683.85" y="1008.33" width="23.22" height="1.88" fill="#0e8a74"/>
<rect x="1683.85" y="1010.21" width="23.22" height="6.98" fill="#ffffff"/>
<rect x="1683.85" y="1017.19" width="23.22" height="3.65" fill="#0e8a74"/>
<rect x="1683.85" y="1020.83" width="23.22" height="1.04" fill="#ffffff"/>
<rect x="1683.85" y="1021.88" width="23.22" height="1.04" fill="#0e8a74"/>
<rect x="1683.85" y="1022.92" width="23.22" height="1.04" fill="#ffffff"/>
<rect x="1683.85" y="1023.96" width="23.22" height="1.04" fill="#fdbe4b"/>
<rect x="1683.85" y="1025.00" width="23.22" height="1.04" fill="#ffffff"/>
<rect x="1683.85" y="1026.04" width="23.22" height="1.56" fill="#a0d0c6"/>
<rect x="1683.85" y="1027.60" width="23.22" height="2.60" fill="#ffffff"/>
<rect x="1683.85" y="1030.21" width="23.22" height="1.56" fill="#0e8a74"/>
<rect x="1683.85" y="1031.77" width="23.22" height="11.98" fill="#ffffff"/>
<rect x="1683.85" y="1043.75" width="23.22" height="5.73" fill="#0e8a74"/>
<rect x="1683.85" y="1049.48" width="23.22" height="9.02" fill="#ffffff"/>
<rect x="1707.07" y="132.30" width="23.22" height="2.39" fill="#0e8a74"/>
<rect x="1707.07" y="134.69" width="23.22" height="17.19" fill="#fdbe4b"/>
<rect x="1707.07" y="151.88" width="23.22" height="8.33" fill="#0e8a74"/>
<rect x="1707.07" y="160.21" width="23.22" height="2.08" fill="#fdbe4b"/>
<rect x="1707.07" y="162.29" width="23.22" height="1.56" fill="#ffffff"/>
<rect x="1707.07" y="163.85" width="23.22" height="7.81" fill="#fdbe4b"/>
<rect x="1707.07" y="171.67" width="23.22" height="3.12" fill="#ffffff"/>
<rect x="1707.07" y="174.79" width="23.22" height="2.08" fill="#fdbe4b"/>
<rect x="1707.07" y="176.88" width="23.22" height="2.08" fill="#ffffff"/>
<rect x="1707.07" y="178.96" width="23.22" height="2.08" fill="#fdbe4b"/>
<rect x="1707.07" y="181.04" width="23.22" height="1.56" fill="#ffffff"/>
<rect x="1707.07" y="182.60" width="23.22" height="2.60" fill="#fdbe4b"/>
<rect x="1707.07" y="185.21" width="23.22" height="7.29" fill="#ffffff"/>
<rect x="1707.07" y="192.50" width="23.22" height="2.08" fill="#fdbe4b"/>
<rect x="1707.07" y="194.58" width="23.22" height="4.17" fill="#ffffff"/>
<rect x="1707.07" y="198.75" width="23.22" height="1.25" fill="#fdbe4b"/>
<rect x="1707.07" y="200.00" width="23.22" height="2.92" fill="#ffffff"/>
<rect x="1707.07" y="202.92" width="23.22" height="1.25" fill="#fdbe4b"/>
<rect x="1707.07" y="204.17" width="23.22" height="2.40" fill="#ffffff"/>
<rect x="1707.07" y="206.56" width="23.22" height="2.08" fill="#fdd49e"/>
<rect x="1707.07" y="208.65" width="23.22" height="4.69" fill="#fdbe4b"/>
<rect x="1707.07" y="213.33" width="23.22" height="1.56" fill="#ffffff"/>
<rect x="1707.07" y="214.90" width="23.22" height="8.85" fill="#fdbe4b"/>
<rect x="1707.07" y="223.75" width="23.22" height="5.73" fill="#ffffff"/>
<rect x="1707.07" y="229.48" width="23.22" height="1.56" fill="#fdbe4b"/>
<rect x="1707.07" y="231.04" width="23.22" height="2.08" fill="#ffffff"/>
<rect x="1707.07" y="233.12" width="23.22" height="2.08" fill="#fdbe4b"/>
<rect x="1707.07" y="235.21" width="23.22" height="1.04" fill="#ffffff"/>
<rect x="1707.07" y="236.25" width="23.22" height="1.56" fill="#fdbe4b"/>
<rect x="1707.07" y="237.81" width="23.22" height="1.04" fill="#ffffff"/>
<rect x="1707.07" y="238.85" width="23.22" height="1.04" fill="#fdbe4b"/>
<rect x="1707.07" y="239.90" width="23.22" height="1.04" fill="#ffffff"/>
<rect x="1707.07" y="240.94" width="23.22" height="6.25" fill="#fdbe4b"/>
<rect x="1707.07" y="247.19" width="23.22" height="0.81" fill="#ffffff"/>
<rect x="1707.07" y="248.00" width="23.22" height="5.73" fill="#fdbe4b"/>
<rect x="1707.07" y="253.73" width="23.22" height="2.08" fill="#ffffff"/>
<rect x="1707.07" y="255.81" width="23.22" height="1.04" fill="#fdbe4b"/>
<rect x="1707.07" y="256.85" width="23.22" height="3.65" fill="#ffffff"/>
<rect x="1707.07" y="260.50" width="23.22" height="6.77" fill="#fdbe4b"/>
<rect x="1707.07" y="267.27" width="23.22" height="1.04" fill="#ffffff"/>
<rect x="1707.07" y="268.31" width="23.22" height="1.56" fill="#fdbe4b"/>
<rect x="1707.07" y="269.88" width="23.22" height="1.04" fill="#ffffff"/>
<rect x="1707.07" y="270.92" width="23.22" height="4.69" fill="#fdbe4b"/>
<rect x="1707.07" y="275.60" width="23.22" height="1.04" fill="#0e8a74"/>
<rect x="1707.07" y="276.65" width="23.22" height="1.56" fill="#fdbe4b"/>
<rect x="1707.07" y="278.21" width="23.22" height="1.04" fill="#ffffff"/>
<rect x="1707.07" y="279.25" width="23.22" height="8.33" fill="#fdbe4b"/>
<rect x="1707.07" y="287.58" width="23.22" height="1.04" fill="#ffffff"/>
<rect x="1707.07" y="288.62" width="23.22" height="9.90" fill="#fdbe4b"/>
<rect x="1707.07" y="298.52" width="23.22" height="1.04" fill="#ffffff"/>
<rect x="1707.07" y="299.56" width="23.22" height="8.33" fill="#fdbe4b"/>
<rect x="1707.07" y="307.90" width="23.22" height="1.04" fill="#0e8a74"/>
<rect x="1707.07" y="308.94" width="23.22" height="8.33" fill="#fdbe4b"/>
<rect x="1707.07" y="317.27" width="23.22" height="2.08" fill="#ffffff"/>
<rect x="1707.07" y="319.35" width="23.22" height="1.56" fill="#fdbe4b"/>
<rect x="1707.07" y="320.92" width="23.22" height="1.04" fill="#ffffff"/>
<rect x="1707.07" y="321.96" width="23.22" height="19.27" fill="#fdbe4b"/>
<rect x="1707.07" y="341.23" width="23.22" height="4.17" fill="#ffffff"/>
<rect x="1707.07" y="345.40" width="23.22" height="5.21" fill="#fdbe4b"/>
<rect x="1707.07" y="350.60" width="23.22" height="1.04" fill="#ffffff"/>
<rect x="1707.07" y="351.65" width="23.22" height="8.33" fill="#fdbe4b"/>
<rect x="1707.07" y="359.98" width="23.22" height="1.04" fill="#ffffff"/>
<rect x="1707.07" y="361.02" width="23.22" height="4.98" fill="#fdbe4b"/>
<rect x="1707.07" y="366.00" width="23.22" height="3.12" fill="#fdbe4b"/>
<rect x="1707.07" y="369.12" width="23.22" height="1.56" fill="#ffffff"/>
<rect x="1707.07" y="370.69" width="23.22" height="1.04" fill="#fdbe4b"/>
<rect x="1707.07" y="371.73" width="23.22" height="2.08" fill="#ffffff"/>
<rect x="1707.07" y="373.81" width="23.22" height="10.42" fill="#fdbe4b"/>
<rect x="1707.07" y="384.23" width="23.22" height="2.08" fill="#ffffff"/>
<rect x="1707.07" y="386.31" width="23.22" height="7.81" fill="#fdbe4b"/>
<rect x="1707.07" y="394.12" width="23.22" height="1.04" fill="#ffffff"/>
<rect x="1707.07" y="395.17" width="23.22" height="1.56" fill="#0e8a74"/>
<rect x="1707.07" y="396.73" width="23.22" height="5.21" fill="#fdbe4b"/>
<rect x="1707.07" y="401.94" width="23.22" height="9.90" fill="#ffffff"/>
<rect x="1707.07" y="411.83" width="23.22" height="7.81" fill="#fdbe4b"/>
<rect x="1707.07" y="419.65" width="23.22" height="1.56" fill="#ffffff"/>
<rect x="1707.07" y="421.21" width="23.22" height="1.04" fill="#fdbe4b"/>
<rect x="1707.07" y="422.25" width="23.22" height="2.08" fill="#ffffff"/>
<rect x="1707.07" y="424.33" width="23.22" height="4.17" fill="#fdbe4b"/>
<rect x="1707.07" y="428.50" width="23.22" height="28.12" fill="#ffffff"/>
<rect x="1707.07" y="456.62" width="23.22" height="1.04" fill="#fdbe4b"/>
<rect x="1707.07" y="457.67" width="23.22" height="1.04" fill="#ffffff"/>
<rect x="1707.07" y="458.71" width="23.22" height="2.29" fill="#fdbe4b"/>
<rect x="1707.07" y="461.00" width="23.22" height="3.96" fill="#ffffff"/>
<rect x="1707.07" y="464.96" width="23.22" height="1.56" fill="#fdbe4b"/>
<rect x="1707.07" y="466.52" width="23.22" height="1.56" fill="#ffffff"/>
<rect x="1707.07" y="468.08" width="23.22" height="2.08" fill="#0e8a74"/>
<rect x="1707.07" y="470.17" width="23.22" height="1.56" fill="#fdbe4b"/>
<rect x="1707.07" y="471.73" width="23.22" height="1.04" fill="#0e8a74"/>
<rect x="1707.07" y="472.77" width="23.22" height="1.56" fill="#a0d0c6"/>
<rect x="1707.07" y="474.33" width="23.22" height="2.60" fill="#ffffff"/>
<rect x="1707.07" y="476.94" width="23.22" height="1.56" fill="#fdbe4b"/>
<rect x="1707.07" y="478.50" width="23.22" height="1.56" fill="#ffffff"/>
<rect x="1707.07" y="480.06" width="23.22" height="1.56" fill="#fdbe4b"/>
<rect x="1707.07" y="481.62" width="23.22" height="1.04" fill="#ffffff"/>
<rect x="1707.07" y="482.67" width="23.22" height="1.33" fill="#0e8a74"/>
<rect x="1707.07" y="484.00" width="23.22" height="1.56" fill="#0e8a74"/>
<rect x="1707.07" y="485.56" width="23.22" height="3.65" fill="#ffffff"/>
<rect x="1707.07" y="489.21" width="23.22" height="1.04" fill="#0e8a74"/>
<rect x="1707.07" y="490.25" width="23.22" height="1.04" fill="#a9a455"/>
<rect x="1707.07" y="491.29" width="23.22" height="2.60" fill="#fdbe4b"/>
<rect x="1707.07" y="493.90" width="23.22" height="11.46" fill="#0e8a74"/>
<rect x="1707.07" y="505.35" width="23.22" height="4.17" fill="#fdbe4b"/>
<rect x="1707.07" y="509.52" width="23.22" height="2.60" fill="#ffffff"/>
<rect x="1707.07" y="512.12" width="23.22" height="5.73" fill="#fdbe4b"/>
<rect x="1707.07" y="517.85" width="23.22" height="5.21" fill="#0e8a74"/>
<rect x="1707.07" y="523.06" width="23.22" height="1.56" fill="#a9a455"/>
<rect x="1707.07" y="524.62" width="23.22" height="2.08" fill="#0e8a74"/>
<rect x="1707.07" y="526.71" width="23.22" height="4.17" fill="#fdbe4b"/>
<rect x="1707.07" y="530.88" width="23.22" height="2.08" fill="#0e8a74"/>
<rect x="1707.07" y="532.96" width="23.22" height="2.08" fill="#fdbe4b"/>
<rect x="1707.07" y="535.04" width="23.22" height="1.56" fill="#ffffff"/>
<rect x="1707.07" y="536.60" width="23.22" height="25.00" fill="#0e8a74"/>
<rect x="1707.07" y="561.60" width="23.22" height="1.04" fill="#fdbe4b"/>
<rect x="1707.07" y="562.65" width="23.22" height="1.04" fill="#0e8a74"/>
<rect x="1707.07" y="563.69" width="23.22" height="1.56" fill="#ffffff"/>
<rect x="1707.07" y="565.25" width="23.22" height="2.60" fill="#a9a455"/>
<rect x="1707.07" y="567.85" width="23.22" height="9.90" fill="#0e8a74"/>
<rect x="1707.07" y="577.75" width="23.22" height="1.56" fill="#fdbe4b"/>
<rect x="1707.07" y="579.31" width="23.22" height="13.54" fill="#0e8a74"/>
<rect x="1707.07" y="592.85" width="23.22" height="1.56" fill="#fdbe4b"/>
<rect x="1707.07" y="594.42" width="23.22" height="2.08" fill="#0e8a74"/>
<rect x="1707.07" y="596.50" width="23.22" height="2.08" fill="#fdbe4b"/>
<rect x="1707.07" y="598.58" width="23.22" height="3.12" fill="#0e8a74"/>
<rect x="1707.07" y="601.71" width="23.22" height="0.29" fill="#a9a455"/>
<rect x="1707.07" y="602.00" width="23.22" height="1.56" fill="#a9a455"/>
<rect x="1707.07" y="603.56" width="23.22" height="1.56" fill="#0e8a74"/>
<rect x="1707.07" y="605.12" width="23.22" height="1.56" fill="#a9a455"/>
<rect x="1707.07" y="606.69" width="23.22" height="14.58" fill="#0e8a74"/>
<rect x="1707.07" y="621.27" width="23.22" height="1.56" fill="#fdbe4b"/>
<rect x="1707.07" y="622.83" width="23.22" height="11.46" fill="#0e8a74"/>
<rect x="1707.07" y="634.29" width="23.22" height="1.56" fill="#a9a455"/>
<rect x="1707.07" y="635.85" width="23.22" height="8.33" fill="#0e8a74"/>
<rect x="1707.07" y="644.19" width="23.22" height="2.60" fill="#ffffff"/>
<rect x="1707.07" y="646.79" width="23.22" height="1.04" fill="#fdbe4b"/>
<rect x="1707.07" y="647.83" width="23.22" height="3.12" fill="#0e8a74"/>
<rect x="1707.07" y="650.96" width="23.22" height="1.56" fill="#ffffff"/>
<rect x="1707.07" y="652.52" width="23.22" height="14.06" fill="#0e8a74"/>
<rect x="1707.07" y="666.58" width="23.22" height="1.56" fill="#ffffff"/>
<rect x="1707.07" y="668.15" width="23.22" height="1.04" fill="#0e8a74"/>
<rect x="1707.07" y="669.19" width="23.22" height="2.60" fill="#fdbe4b"/>
<rect x="1707.07" y="671.79" width="23.22" height="1.56" fill="#0e8a74"/>
<rect x="1707.07" y="673.35" width="23.22" height="1.56" fill="#fdbe4b"/>
<rect x="1707.07" y="674.92" width="23.22" height="1.56" fill="#0e8a74"/>
<rect x="1707.07" y="676.48" width="23.22" height="1.56" fill="#fdbe4b"/>
<rect x="1707.07" y="678.04" width="23.22" height="1.04" fill="#0e8a74"/>
<rect x="1707.07" y="679.08" width="23.22" height="15.10" fill="#ffffff"/>
<rect x="1707.07" y="694.19" width="23.22" height="1.04" fill="#fdbe4b"/>
<rect x="1707.07" y="695.23" width="23.22" height="2.60" fill="#ffffff"/>
<rect x="1707.07" y="697.83" width="23.22" height="1.56" fill="#fdbe4b"/>
<rect x="1707.07" y="699.40" width="23.22" height="2.08" fill="#0e8a74"/>
<rect x="1707.07" y="701.48" width="23.22" height="1.04" fill="#ffffff"/>
<rect x="1707.07" y="702.52" width="23.22" height="2.08" fill="#fdbe4b"/>
<rect x="1707.07" y="704.60" width="23.22" height="4.17" fill="#ffffff"/>
<rect x="1707.07" y="708.77" width="23.22" height="6.25" fill="#0e8a74"/>
<rect x="1707.07" y="715.02" width="23.22" height="2.60" fill="#a0d0c6"/>
<rect x="1707.07" y="717.62" width="23.22" height="2.38" fill="#ffffff"/>
<rect x="1707.07" y="720.00" width="23.22" height="18.23" fill="#ffffff"/>
<rect x="1707.07" y="738.23" width="23.22" height="3.65" fill="#0e8a74"/>
<rect x="1707.07" y="741.88" width="23.22" height="1.04" fill="#a9a455"/>
<rect x="1707.07" y="742.92" width="23.22" height="1.04" fill="#0e8a74"/>
<rect x="1707.07" y="743.96" width="23.22" height="5.00" fill="#ffffff"/>
<rect x="1707.07" y="748.96" width="23.22" height="1.25" fill="#fdbe4b"/>
<rect x="1707.07" y="750.21" width="23.22" height="7.81" fill="#0e8a74"/>
<rect x="1707.07" y="758.02" width="23.22" height="15.10" fill="#ffffff"/>
<rect x="1707.07" y="773.12" width="23.22" height="1.56" fill="#0e8a74"/>
<rect x="1707.07" y="774.69" width="23.22" height="1.56" fill="#ffffff"/>
<rect x="1707.07" y="776.25" width="23.22" height="3.65" fill="#0e8a74"/>
<rect x="1707.07" y="779.90" width="23.22" height="3.12" fill="#fdbe4b"/>
<rect x="1707.07" y="783.02" width="23.22" height="1.04" fill="#0e8a74"/>
<rect x="1707.07" y="784.06" width="23.22" height="2.60" fill="#fdbe4b"/>
<rect x="1707.07" y="786.67" width="23.22" height="12.50" fill="#0e8a74"/>
<rect x="1707.07" y="799.17" width="23.22" height="1.04" fill="#ffffff"/>
<rect x="1707.07" y="800.21" width="23.22" height="1.56" fill="#fdbe4b"/>
<rect x="1707.07" y="801.77" width="23.22" height="10.42" fill="#0e8a74"/>
<rect x="1707.07" y="812.19" width="23.22" height="1.04" fill="#ffffff"/>
<rect x="1707.07" y="813.23" width="23.22" height="21.88" fill="#0e8a74"/>
<rect x="1707.07" y="835.10" width="23.22" height="2.90" fill="#ffffff"/>
<rect x="1707.07" y="838.00" width="23.22" height="1.56" fill="#ffffff"/>
<rect x="1707.07" y="839.56" width="23.22" height="3.12" fill="#0e8a74"/>
<rect x="1707.07" y="842.69" width="23.22" height="1.04" fill="#ffffff"/>
<rect x="1707.07" y="843.73" width="23.22" height="1.04" fill="#a0d0c6"/>
<rect x="1707.07" y="844.77" width="23.22" height="1.56" fill="#ffffff"/>
<rect x="1707.07" y="846.33" width="23.22" height="1.56" fill="#fdbe4b"/>
<rect x="1707.07" y="847.90" width="23.22" height="0.52" fill="#0e8a74"/>
<rect x="1707.07" y="848.42" width="23.22" height="2.60" fill="#ffffff"/>
<rect x="1707.07" y="851.02" width="23.22" height="1.56" fill="#a0d0c6"/>
<rect x="1707.07" y="852.58" width="23.22" height="2.60" fill="#ffffff"/>
<rect x="1707.07" y="855.19" width="23.22" height="5.21" fill="#0e8a74"/>
<rect x="1707.07" y="860.40" width="23.22" height="4.69" fill="#ffffff"/>
<rect x="1707.07" y="865.08" width="23.22" height="1.56" fill="#0e8a74"/>
<rect x="1707.07" y="866.65" width="23.22" height="2.08" fill="#fdbe4b"/>
<rect x="1707.07" y="868.73" width="23.22" height="10.42" fill="#0e8a74"/>
<rect x="1707.07" y="879.15" width="23.22" height="1.04" fill="#a0d0c6"/>
<rect x="1707.07" y="880.19" width="23.22" height="11.46" fill="#0e8a74"/>
<rect x="1707.07" y="891.65" width="23.22" height="1.04" fill="#ffffff"/>
<rect x="1707.07" y="892.69" width="23.22" height="1.56" fill="#fdbe4b"/>
<rect x="1707.07" y="894.25" width="23.22" height="3.65" fill="#0e8a74"/>
<rect x="1707.07" y="897.90" width="23.22" height="4.69" fill="#ffffff"/>
<rect x="1707.07" y="902.58" width="23.22" height="1.04" fill="#a0d0c6"/>
<rect x="1707.07" y="903.62" width="23.22" height="1.56" fill="#ffffff"/>
<rect x="1707.07" y="905.19" width="23.22" height="1.04" fill="#fdbe4b"/>
<rect x="1707.07" y="906.23" width="23.22" height="3.65" fill="#ffffff"/>
<rect x="1707.07" y="909.88" width="23.22" height="1.56" fill="#a0d0c6"/>
<rect x="1707.07" y="911.44" width="23.22" height="4.17" fill="#ffffff"/>
<rect x="1707.07" y="915.60" width="23.22" height="4.17" fill="#0e8a74"/>
<rect x="1707.07" y="919.77" width="23.22" height="2.60" fill="#ffffff"/>
<rect x="1707.07" y="922.38" width="23.22" height="1.56" fill="#0e8a74"/>
<rect x="1707.07" y="923.94" width="23.22" height="1.04" fill="#ffffff"/>
<rect x="1707.07" y="924.98" width="23.22" height="4.17" fill="#f6e8b2"/>
<rect x="1707.07" y="929.15" width="23.22" height="2.60" fill="#0e8a74"/>
<rect x="1707.07" y="931.75" width="23.22" height="1.04" fill="#ffffff"/>
<rect x="1707.07" y="932.79" width="23.22" height="1.56" fill="#fdbe4b"/>
<rect x="1707.07" y="934.35" width="23.22" height="3.12" fill="#ffffff"/>
<rect x="1707.07" y="937.48" width="23.22" height="1.04" fill="#a0d0c6"/>
<rect x="1707.07" y="938.52" width="23.22" height="7.29" fill="#ffffff"/>
<rect x="1707.07" y="945.81" width="23.22" height="2.08" fill="#fdbe4b"/>
<rect x="1707.07" y="947.90" width="23.22" height="1.04" fill="#ffffff"/>
<rect x="1707.07" y="948.94" width="23.22" height="1.06" fill="#fdbe4b"/>
<rect x="1707.07" y="950.00" width="23.22" height="1.56" fill="#fdbe4b"/>
<rect x="1707.07" y="951.56" width="23.22" height="8.33" fill="#0e8a74"/>
<rect x="1707.07" y="959.90" width="23.22" height="1.04" fill="#a0d0c6"/>
<rect x="1707.07" y="960.94" width="23.22" height="1.04" fill="#0e8a74"/>
<rect x="1707.07" y="961.98" width="23.22" height="1.04" fill="#fdbe4b"/>
<rect x="1707.07" y="963.02" width="23.22" height="6.77" fill="#0e8a74"/>
<rect x="1707.07" y="969.79" width="23.22" height="1.56" fill="#ffffff"/>
<rect x="1707.07" y="971.35" width="23.22" height="1.04" fill="#fdbe4b"/>
<rect x="1707.07" y="972.40" width="23.22" height="5.73" fill="#ffffff"/>
<rect x="1707.07" y="978.12" width="23.22" height="3.65" fill="#0e8a74"/>
<rect x="1707.07" y="981.77" width="23.22" height="4.17" fill="#ffffff"/>
<rect x="1707.07" y="985.94" width="23.22" height="1.04" fill="#fdbe4b"/>
<rect x="1707.07" y="986.98" width="23.22" height="1.04" fill="#0e8a74"/>
<rect x="1707.07" y="988.02" width="23.22" height="0.52" fill="#ffffff"/>
<rect x="1707.07" y="988.54" width="23.22" height="1.04" fill="#a0d0c6"/>
<rect x="1707.07" y="989.58" width="23.22" height="0.52" fill="#ffffff"/>
<rect x="1707.07" y="990.10" width="23.22" height="6.77" fill="#0e8a74"/>
<rect x="1707.07" y="996.88" width="23.22" height="2.08" fill="#fdbe4b"/>
<rect x="1707.07" y="998.96" width="23.22" height="1.04" fill="#0e8a74"/>
<rect x="1707.07" y="1000.00" width="23.22" height="1.04" fill="#fdbe4b"/>
<rect x="1707.07" y="1001.04" width="23.22" height="2.08" fill="#ffffff"/>
<rect x="1707.07" y="1003.12" width="23.22" height="3.65" fill="#0e8a74"/>
<rect x="1707.07" y="1006.77" width="23.22" height="1.56" fill="#ffffff"/>
<rect x="1707.07" y="1008.33" width="23.22" height="1.88" fill="#0e8a74"/>
<rect x="1707.07" y="1010.21" width="23.22" height="6.98" fill="#ffffff"/>
<rect x="1707.07" y="1017.19" width="23.22" height="3.12" fill="#fdbe4b"/>
<rect x="1707.07" y="1020.31" width="23.22" height="1.56" fill="#ffffff"/>
<rect x="1707.07" y="1021.88" width="23.22" height="1.04" fill="#fdbe4b"/>
<rect x="1707.07" y="1022.92" width="23.22" height="1.04" fill="#ffffff"/>
<rect x="1707.07" y="1023.96" width="23.22" height="1.04" fill="#fdbe4b"/>
<rect x="1707.07" y="1025.00" width="23.22" height="1.04" fill="#ffffff"/>
<rect x="1707.07" y="1026.04" width="23.22" height="1.56" fill="#fdbe4b"/>
<rect x="1707.07" y="1027.60" width="23.22" height="2.60" fill="#ffffff"/>
<rect x="1707.07" y="1030.21" width="23.22" height="1.56" fill="#0e8a74"/>
<rect x="1707.07" y="1031.77" width="23.22" height="11.98" fill="#ffffff"/>
<rect x="1707.07" y="1043.75" width="23.22" height="5.73" fill="#0e8a74"/>
<rect x="1707.07" y="1049.48" width="23.22" height="9.02" fill="#ffffff"/>
<rect x="1730.29" y="132.30" width="23.22" height="2.39" fill="#0e8a74"/>
<rect x="1730.29" y="134.69" width="23.22" height="10.42" fill="#fdbe4b"/>
<rect x="1730.29" y="145.10" width="23.22" height="5.21" fill="#0e8a74"/>
<rect x="1730.29" y="150.31" width="23.22" height="1.56" fill="#fdbe4b"/>
<rect x="1730.29" y="151.88" width="23.22" height="6.25" fill="#0e8a74"/>
<rect x="1730.29" y="158.12" width="23.22" height="4.17" fill="#fdbe4b"/>
<rect x="1730.29" y="162.29" width="23.22" height="1.56" fill="#ffffff"/>
<rect x="1730.29" y="163.85" width="23.22" height="7.81" fill="#fdbe4b"/>
<rect x="1730.29" y="171.67" width="23.22" height="3.12" fill="#ffffff"/>
<rect x="1730.29" y="174.79" width="23.22" height="2.08" fill="#fdbe4b"/>
<rect x="1730.29" y="176.88" width="23.22" height="2.08" fill="#ffffff"/>
<rect x="1730.29" y="178.96" width="23.22" height="2.08" fill="#fdbe4b"/>
<rect x="1730.29" y="181.04" width="23.22" height="1.56" fill="#ffffff"/>
<rect x="1730.29" y="182.60" width="23.22" height="3.12" fill="#fdbe4b"/>
<rect x="1730.29" y="185.73" width="23.22" height="6.77" fill="#ffffff"/>
<rect x="1730.29" y="192.50" width="23.22" height="2.08" fill="#fdbe4b"/>
<rect x="1730.29" y="194.58" width="23.22" height="4.17" fill="#ffffff"/>
<rect x="1730.29" y="198.75" width="23.22" height="1.25" fill="#fdbe4b"/>
<rect x="1730.29" y="200.00" width="23.22" height="2.92" fill="#ffffff"/>
<rect x="1730.29" y="202.92" width="23.22" height="1.25" fill="#fdbe4b"/>
<rect x="1730.29" y="204.17" width="23.22" height="2.40" fill="#ffffff"/>
<rect x="1730.29" y="206.56" width="23.22" height="24.48" fill="#fdbe4b"/>
<rect x="1730.29" y="231.04" width="23.22" height="2.08" fill="#ffffff"/>
<rect x="1730.29" y="233.12" width="23.22" height="6.77" fill="#fdbe4b"/>
<rect x="1730.29" y="239.90" width="23.22" height="1.04" fill="#ffffff"/>
<rect x="1730.29" y="240.94" width="23.22" height="6.25" fill="#fdbe4b"/>
<rect x="1730.29" y="247.19" width="23.22" height="0.81" fill="#ffffff"/>
<rect x="1730.29" y="248.00" width="23.22" height="5.73" fill="#fdbe4b"/>
<rect x="1730.29" y="253.73" width="23.22" height="1.56" fill="#ffffff"/>
<rect x="1730.29" y="255.29" width="23.22" height="1.56" fill="#fdbe4b"/>
<rect x="1730.29" y="256.85" width="23.22" height="2.40" fill="#ffffff"/>
<rect x="1730.29" y="259.25" width="23.22" height="18.96" fill="#fdbe4b"/>
<rect x="1730.29" y="278.21" width="23.22" height="1.04" fill="#ffffff"/>
<rect x="1730.29" y="279.25" width="23.22" height="8.33" fill="#fdbe4b"/>
<rect x="1730.29" y="287.58" width="23.22" height="1.04" fill="#ffffff"/>
<rect x="1730.29" y="288.62" width="23.22" height="30.21" fill="#fdbe4b"/>
<rect x="1730.29" y="318.83" width="23.22" height="1.04" fill="#ffffff"/>
<rect x="1730.29" y="319.88" width="23.22" height="21.35" fill="#fdbe4b"/>
<rect x="1730.29" y="341.23" width="23.22" height="4.17" fill="#ffffff"/>
<rect x="1730.29" y="345.40" width="23.22" height="1.56" fill="#fdbe4b"/>
<rect x="1730.29" y="346.96" width="23.22" height="1.56" fill="#ffffff"/>
<rect x="1730.29" y="348.52" width="23.22" height="17.48" fill="#fdbe4b"/>
<rect x="1730.29" y="366.00" width="23.22" height="15.62" fill="#fdbe4b"/>
<rect x="1730.29" y="381.62" width="23.22" height="1.56" fill="#0e8a74"/>
<rect x="1730.29" y="383.19" width="23.22" height="1.56" fill="#fdbe4b"/>
<rect x="1730.29" y="384.75" width="23.22" height="1.56" fill="#a0d0c6"/>
<rect x="1730.29" y="386.31" width="23.22" height="7.81" fill="#fdbe4b"/>
<rect x="1730.29" y="394.12" width="23.22" height="1.04" fill="#ffffff"/>
<rect x="1730.29" y="395.17" width="23.22" height="6.77" fill="#fdbe4b"/>
<rect x="1730.29" y="401.94" width="23.22" height="9.90" fill="#ffffff"/>
<rect x="1730.29" y="411.83" width="23.22" height="16.67" fill="#fdbe4b"/>
<rect x="1730.29" y="428.50" width="23.22" height="4.17" fill="#ffffff"/>
<rect x="1730.29" y="432.67" width="23.22" height="1.56" fill="#fdbe4b"/>
<rect x="1730.29" y="434.23" width="23.22" height="22.40" fill="#ffffff"/>
<rect x="1730.29" y="456.62" width="23.22" height="1.04" fill="#fdbe4b"/>
<rect x="1730.29" y="457.67" width="23.22" height="1.04" fill="#ffffff"/>
<rect x="1730.29" y="458.71" width="23.22" height="2.29" fill="#fdbe4b"/>
<rect x="1730.29" y="461.00" width="23.22" height="3.96" fill="#ffffff"/>
<rect x="1730.29" y="464.96" width="23.22" height="1.56" fill="#fdbe4b"/>
<rect x="1730.29" y="466.52" width="23.22" height="1.56" fill="#ffffff"/>
<rect x="1730.29" y="468.08" width="23.22" height="2.08" fill="#0e8a74"/>
<rect x="1730.29" y="470.17" width="23.22" height="1.56" fill="#fdbe4b"/>
<rect x="1730.29" y="471.73" width="23.22" height="1.04" fill="#0e8a74"/>
<rect x="1730.29" y="472.77" width="23.22" height="1.56" fill="#fdbe4b"/>
<rect x="1730.29" y="474.33" width="23.22" height="2.60" fill="#ffffff"/>
<rect x="1730.29" y="476.94" width="23.22" height="1.56" fill="#fdbe4b"/>
<rect x="1730.29" y="478.50" width="23.22" height="1.56" fill="#ffffff"/>
<rect x="1730.29" y="480.06" width="23.22" height="1.56" fill="#fdbe4b"/>
<rect x="1730.29" y="481.62" width="23.22" height="1.56" fill="#ffffff"/>
<rect x="1730.29" y="483.19" width="23.22" height="0.81" fill="#fdbe4b"/>
<rect x="1730.29" y="484.00" width="23.22" height="1.56" fill="#fdbe4b"/>
<rect x="1730.29" y="485.56" width="23.22" height="3.65" fill="#ffffff"/>
<rect x="1730.29" y="489.21" width="23.22" height="5.21" fill="#fdbe4b"/>
<rect x="1730.29" y="494.42" width="23.22" height="1.56" fill="#0e8a74"/>
<rect x="1730.29" y="495.98" width="23.22" height="2.60" fill="#fdbe4b"/>
<rect x="1730.29" y="498.58" width="23.22" height="1.04" fill="#0e8a74"/>
<rect x="1730.29" y="499.62" width="23.22" height="1.56" fill="#fdbe4b"/>
<rect x="1730.29" y="501.19" width="23.22" height="2.60" fill="#0e8a74"/>
<rect x="1730.29" y="503.79" width="23.22" height="1.04" fill="#fdbe4b"/>
<rect x="1730.29" y="504.83" width="23.22" height="1.56" fill="#0e8a74"/>
<rect x="1730.29" y="506.40" width="23.22" height="3.12" fill="#fdbe4b"/>
<rect x="1730.29" y="509.52" width="23.22" height="2.60" fill="#ffffff"/>
<rect x="1730.29" y="512.12" width="23.22" height="5.73" fill="#fdbe4b"/>
<rect x="1730.29" y="517.85" width="23.22" height="1.56" fill="#0e8a74"/>
<rect x="1730.29" y="519.42" width="23.22" height="11.46" fill="#fdbe4b"/>
<rect x="1730.29" y="530.88" width="23.22" height="1.56" fill="#0e8a74"/>
<rect x="1730.29" y="532.44" width="23.22" height="15.10" fill="#fdbe4b"/>
<rect x="1730.29" y="547.54" width="23.22" height="1.56" fill="#0e8a74"/>
<rect x="1730.29" y="549.10" width="23.22" height="1.56" fill="#fdbe4b"/>
<rect x="1730.29" y="550.67" width="23.22" height="1.04" fill="#a9a455"/>
<rect x="1730.29" y="551.71" width="23.22" height="1.56" fill="#fdbe4b"/>
<rect x="1730.29" y="553.27" width="23.22" height="1.56" fill="#a9a455"/>
<rect x="1730.29" y="554.83" width="23.22" height="1.04" fill="#fdbe4b"/>
<rect x="1730.29" y="555.88" width="23.22" height="2.08" fill="#0e8a74"/>
<rect x="1730.29" y="557.96" width="23.22" height="5.73" fill="#fdbe4b"/>
<rect x="1730.29" y="563.69" width="23.22" height="1.56" fill="#ffffff"/>
<rect x="1730.29" y="565.25" width="23.22" height="6.25" fill="#fdbe4b"/>
<rect x="1730.29" y="571.50" width="23.22" height="1.04" fill="#0e8a74"/>
<rect x="1730.29" y="572.54" width="23.22" height="2.08" fill="#fdbe4b"/>
<rect x="1730.29" y="574.62" width="23.22" height="1.04" fill="#0e8a74"/>
<rect x="1730.29" y="575.67" width="23.22" height="2.60" fill="#fdbe4b"/>
<rect x="1730.29" y="578.27" width="23.22" height="3.12" fill="#0e8a74"/>
<rect x="1730.29" y="581.40" width="23.22" height="1.56" fill="#fdbe4b"/>
<rect x="1730.29" y="582.96" width="23.22" height="1.04" fill="#0e8a74"/>
<rect x="1730.29" y="584.00" width="23.22" height="6.25" fill="#fdbe4b"/>
<rect x="1730.29" y="590.25" width="23.22" height="1.56" fill="#0e8a74"/>
<rect x="1730.29" y="591.81" width="23.22" height="10.19" fill="#fdbe4b"/>
<rect x="1730.29" y="602.00" width="23.22" height="3.12" fill="#fdbe4b"/>
<rect x="1730.29" y="605.12" width="23.22" height="1.56" fill="#0e8a74"/>
<rect x="1730.29" y="606.69" width="23.22" height="5.73" fill="#fdbe4b"/>
<rect x="1730.29" y="612.42" width="23.22" height="3.65" fill="#0e8a74"/>
<rect x="1730.29" y="616.06" width="23.22" height="2.08" fill="#fdbe4b"/>
<rect x="1730.29" y="618.15" width="23.22" height="3.65" fill="#a9a455"/>
<rect x="1730.29" y="621.79" width="23.22" height="2.08" fill="#fdbe4b"/>
<rect x="1730.29" y="623.88" width="23.22" height="3.12" fill="#0e8a74"/>
<rect x="1730.29" y="627.00" width="23.22" height="3.12" fill="#a9a455"/>
<rect x="1730.29" y="630.12" width="23.22" height="1.56" fill="#fdbe4b"/>
<rect x="1730.29" y="631.69" width="23.22" height="0.52" fill="#0e8a74"/>
<rect x="1730.29" y="632.21" width="23.22" height="6.77" fill="#fdbe4b"/>
<rect x="1730.29" y="638.98" width="23.22" height="3.65" fill="#a9a455"/>
<rect x="1730.29" y="642.62" width="23.22" height="1.56" fill="#fdbe4b"/>
<rect x="1730.29" y="644.19" width="23.22" height="2.60" fill="#ffffff"/>
<rect x="1730.29" y="646.79" width="23.22" height="3.12" fill="#fdbe4b"/>
<rect x="1730.29" y="649.92" width="23.22" height="1.04" fill="#0e8a74"/>
<rect x="1730.29" y="650.96" width="23.22" height="1.56" fill="#ffffff"/>
<rect x="1730.29" y="652.52" width="23.22" height="7.81" fill="#fdbe4b"/>
<rect x="1730.29" y="660.33" width="23.22" height="2.08" fill="#0e8a74"/>
<rect x="1730.29" y="662.42" width="23.22" height="4.17" fill="#fdbe4b"/>
<rect x="1730.29" y="666.58" width="23.22" height="1.56" fill="#ffffff"/>
<rect x="1730.29" y="668.15" width="23.22" height="1.56" fill="#0e8a74"/>
<rect x="1730.29" y="669.71" width="23.22" height="1.56" fill="#ffffff"/>
<rect x="1730.29" y="671.27" width="23.22" height="2.60" fill="#0e8a74"/>
<rect x="1730.29" y="673.88" width="23.22" height="5.21" fill="#fdbe4b"/>
<rect x="1730.29" y="679.08" width="23.22" height="15.10" fill="#ffffff"/>
<rect x="1730.29" y="694.19" width="23.22" height="3.65" fill="#fdbe4b"/>
<rect x="1730.29" y="697.83" width="23.22" height="1.56" fill="#0e8a74"/>
<rect x="1730.29" y="699.40" width="23.22" height="2.08" fill="#fdbe4b"/>
<rect x="1730.29" y="701.48" width="23.22" height="1.04" fill="#ffffff"/>
<rect x="1730.29" y="702.52" width="23.22" height="2.08" fill="#fdbe4b"/>
<rect x="1730.29" y="704.60" width="23.22" height="4.17" fill="#ffffff"/>
<rect x="1730.29" y="708.77" width="23.22" height="1.56" fill="#0e8a74"/>
<rect x="1730.29" y="710.33" width="23.22" height="1.04" fill="#fdbe4b"/>
<rect x="1730.29" y="711.38" width="23.22" height="1.56" fill="#0e8a74"/>
<rect x="1730.29" y="712.94" width="23.22" height="1.04" fill="#fdbe4b"/>
<rect x="1730.29" y="713.98" width="23.22" height="1.04" fill="#0e8a74"/>
<rect x="1730.29" y="715.02" width="23.22" height="2.60" fill="#f6e8b2"/>
<rect x="1730.29" y="717.62" width="23.22" height="2.38" fill="#ffffff"/>
<rect x="1730.29" y="720.00" width="23.22" height="18.23" fill="#ffffff"/>
<rect x="1730.29" y="738.23" width="23.22" height="1.04" fill="#0e8a74"/>
<rect x="1730.29" y="739.27" width="23.22" height="1.56" fill="#a9a455"/>
<rect x="1730.29" y="740.83" width="23.22" height="1.04" fill="#0e8a74"/>
<rect x="1730.29" y="741.88" width="23.22" height="2.08" fill="#fdbe4b"/>
<rect x="1730.29" y="743.96" width="23.22" height="5.00" fill="#ffffff"/>
<rect x="1730.29" y="748.96" width="23.22" height="2.81" fill="#fdbe4b"/>
<rect x="1730.29" y="751.77" width="23.22" height="1.35" fill="#0e8a74"/>
<rect x="1730.29" y="753.12" width="23.22" height="4.90" fill="#fdbe4b"/>
<rect x="1730.29" y="758.02" width="23.22" height="15.10" fill="#ffffff"/>
<rect x="1730.29" y="773.12" width="23.22" height="1.56" fill="#fdbe4b"/>
<rect x="1730.29" y="774.69" width="23.22" height="1.56" fill="#ffffff"/>
<rect x="1730.29" y="776.25" width="23.22" height="6.25" fill="#fdbe4b"/>
<rect x="1730.29" y="782.50" width="23.22" height="1.25" fill="#0e8a74"/>
<rect x="1730.29" y="783.75" width="23.22" height="2.92" fill="#fdbe4b"/>
<rect x="1730.29" y="786.67" width="23.22" height="2.08" fill="#0e8a74"/>
<rect x="1730.29" y="788.75" width="23.22" height="10.42" fill="#fdbe4b"/>
<rect x="1730.29" y="799.17" width="23.22" height="1.56" fill="#ffffff"/>
<rect x="1730.29" y="800.73" width="23.22" height="6.77" fill="#fdbe4b"/>
<rect x="1730.29" y="807.50" width="23.22" height="1.04" fill="#0e8a74"/>
<rect x="1730.29" y="808.54" width="23.22" height="6.25" fill="#fdbe4b"/>
<rect x="1730.29" y="814.79" width="23.22" height="2.08" fill="#0e8a74"/>
<rect x="1730.29" y="816.88" width="23.22" height="13.02" fill="#fdbe4b"/>
<rect x="1730.29" y="829.90" width="23.22" height="2.08" fill="#a9a455"/>
<rect x="1730.29" y="831.98" width="23.22" height="3.12" fill="#fdbe4b"/>
<rect x="1730.29" y="835.10" width="23.22" height="1.04" fill="#ffffff"/>
<rect x="1730.29" y="836.15" width="23.22" height="1.56" fill="#f6e8b2"/>
<rect x="1730.29" y="837.71" width="23.22" height="0.29" fill="#ffffff"/>
<rect x="1730.29" y="838.00" width="23.22" height="1.04" fill="#ffffff"/>
<rect x="1730.29" y="839.04" width="23.22" height="3.65" fill="#fdbe4b"/>
<rect x="1730.29" y="842.69" width="23.22" height="1.04" fill="#ffffff"/>
<rect x="1730.29" y="843.73" width="23.22" height="1.04" fill="#a0d0c6"/>
<rect x="1730.29" y="844.77" width="23.22" height="3.65" fill="#fdbe4b"/>
<rect x="1730.29" y="848.42" width="23.22" height="2.60" fill="#ffffff"/>
<rect x="1730.29" y="851.02" width="23.22" height="1.56" fill="#a0d0c6"/>
<rect x="1730.29" y="852.58" width="23.22" height="4.17" fill="#ffffff"/>
<rect x="1730.29" y="856.75" width="23.22" height="3.65" fill="#fdbe4b"/>
<rect x="1730.29" y="860.40" width="23.22" height="2.08" fill="#ffffff"/>
<rect x="1730.29" y="862.48" width="23.22" height="1.04" fill="#fdbe4b"/>
<rect x="1730.29" y="863.52" width="23.22" height="1.56" fill="#ffffff"/>
<rect x="1730.29" y="865.08" width="23.22" height="5.73" fill="#fdbe4b"/>
<rect x="1730.29" y="870.81" width="23.22" height="1.04" fill="#0e8a74"/>
<rect x="1730.29" y="871.85" width="23.22" height="15.10" fill="#fdbe4b"/>
<rect x="1730.29" y="886.96" width="23.22" height="1.04" fill="#0e8a74"/>
<rect x="1730.29" y="888.00" width="23.22" height="3.12" fill="#fdbe4b"/>
<rect x="1730.29" y="891.12" width="23.22" height="1.56" fill="#ffffff"/>
<rect x="1730.29" y="892.69" width="23.22" height="5.21" fill="#fdbe4b"/>
<rect x="1730.29" y="897.90" width="23.22" height="3.12" fill="#ffffff"/>
<rect x="1730.29" y="901.02" width="23.22" height="2.08" fill="#fdbe4b"/>
<rect x="1730.29" y="903.10" width="23.22" height="1.56" fill="#0e8a74"/>
<rect x="1730.29" y="904.67" width="23.22" height="1.56" fill="#fdbe4b"/>
<rect x="1730.29" y="906.23" width="23.22" height="3.65" fill="#ffffff"/>
<rect x="1730.29" y="909.88" width="23.22" height="1.56" fill="#fdbe4b"/>
<rect x="1730.29" y="911.44" width="23.22" height="4.17" fill="#ffffff"/>
<rect x="1730.29" y="915.60" width="23.22" height="3.65" fill="#fdbe4b"/>
<rect x="1730.29" y="919.25" width="23.22" height="3.65" fill="#ffffff"/>
<rect x="1730.29" y="922.90" width="23.22" height="2.60" fill="#fdbe4b"/>
<rect x="1730.29" y="925.50" width="23.22" height="1.04" fill="#0e8a74"/>
<rect x="1730.29" y="926.54" width="23.22" height="2.60" fill="#f6e8b2"/>
<rect x="1730.29" y="929.15" width="23.22" height="2.60" fill="#0e8a74"/>
<rect x="1730.29" y="931.75" width="23.22" height="1.04" fill="#ffffff"/>
<rect x="1730.29" y="932.79" width="23.22" height="1.56" fill="#fdbe4b"/>
<rect x="1730.29" y="934.35" width="23.22" height="3.12" fill="#ffffff"/>
<rect x="1730.29" y="937.48" width="23.22" height="1.04" fill="#0e8a74"/>
<rect x="1730.29" y="938.52" width="23.22" height="7.29" fill="#ffffff"/>
<rect x="1730.29" y="945.81" width="23.22" height="2.08" fill="#fdbe4b"/>
<rect x="1730.29" y="947.90" width="23.22" height="1.56" fill="#ffffff"/>
<rect x="1730.29" y="949.46" width="23.22" height="0.54" fill="#0e8a74"/>
<rect x="1730.29" y="950.00" width="23.22" height="1.56" fill="#0e8a74"/>
<rect x="1730.29" y="951.56" width="23.22" height="1.04" fill="#a0d0c6"/>
<rect x="1730.29" y="952.60" width="23.22" height="3.65" fill="#0e8a74"/>
<rect x="1730.29" y="956.25" width="23.22" height="8.85" fill="#fdbe4b"/>
<rect x="1730.29" y="965.10" width="23.22" height="2.08" fill="#0e8a74"/>
<rect x="1730.29" y="967.19" width="23.22" height="2.60" fill="#fdbe4b"/>
<rect x="1730.29" y="969.79" width="23.22" height="1.56" fill="#ffffff"/>
<rect x="1730.29" y="971.35" width="23.22" height="1.04" fill="#fdbe4b"/>
<rect x="1730.29" y="972.40" width="23.22" height="5.73" fill="#ffffff"/>
<rect x="1730.29" y="978.12" width="23.22" height="3.65" fill="#fdbe4b"/>
<rect x="1730.29" y="981.77" width="23.22" height="4.17" fill="#ffffff"/>
<rect x="1730.29" y="985.94" width="23.22" height="2.08" fill="#fdbe4b"/>
<rect x="1730.29" y="988.02" width="23.22" height="0.52" fill="#ffffff"/>
<rect x="1730.29" y="988.54" width="23.22" height="1.56" fill="#fdbe4b"/>
<rect x="1730.29" y="990.10" width="23.22" height="1.56" fill="#fdbe4b"/>
<rect x="1730.29" y="991.67" width="23.22" height="1.04" fill="#0e8a74"/>
<rect x="1730.29" y="992.71" width="23.22" height="1.04" fill="#fdbe4b"/>
<rect x="1730.29" y="993.75" width="23.22" height="1.04" fill="#0e8a74"/>
<rect x="1730.29" y="994.79" width="23.22" height="1.56" fill="#fdbe4b"/>
<rect x="1730.29" y="996.35" width="23.22" height="0.52" fill="#0e8a74"/>
<rect x="1730.29" y="996.88" width="23.22" height="4.17" fill="#fdbe4b"/>
<rect x="1730.29" y="1001.04" width="23.22" height="2.08" fill="#ffffff"/>
<rect x="1730.29" y="1003.12" width="23.22" height="1.56" fill="#fdbe4b"/>
<rect x="1730.29" y="1004.69" width="23.22" height="2.08" fill="#0e8a74"/>
<rect x="1730.29" y="1006.77" width="23.22" height="1.56" fill="#ffffff"/>
<rect x="1730.29" y="1008.33" width="23.22" height="1.88" fill="#fdbe4b"/>
<rect x="1730.29" y="1010.21" width="23.22" height="6.98" fill="#ffffff"/>
<rect x="1730.29" y="1017.19" width="23.22" height="2.08" fill="#0e8a74"/>
<rect x="1730.29" y="1019.27" width="23.22" height="1.56" fill="#fdbe4b"/>
<rect x="1730.29" y="1020.83" width="23.22" height="1.04" fill="#ffffff"/>
<rect x="1730.29" y="1021.88" width="23.22" height="1.04" fill="#fdbe4b"/>
<rect x="1730.29" y="1022.92" width="23.22" height="1.04" fill="#ffffff"/>
<rect x="1730.29" y="1023.96" width="23.22" height="1.04" fill="#fdbe4b"/>
<rect x="1730.29" y="1025.00" width="23.22" height="1.04" fill="#ffffff"/>
<rect x="1730.29" y="1026.04" width="23.22" height="1.56" fill="#fdbe4b"/>
<rect x="1730.29" y="1027.60" width="23.22" height="2.60" fill="#ffffff"/>
<rect x="1730.29" y="1030.21" width="23.22" height="1.56" fill="#0e8a74"/>
<rect x="1730.29" y="1031.77" width="23.22" height="11.98" fill="#ffffff"/>
<rect x="1730.29" y="1043.75" width="23.22" height="5.73" fill="#fdbe4b"/>
<rect x="1730.29" y="1049.48" width="23.22" height="9.02" fill="#ffffff"/>
<rect x="1753.51" y="132.30" width="23.22" height="0.82" fill="#0e8a74"/>
<rect x="1753.51" y="133.12" width="23.22" height="18.75" fill="#f6e8b2"/>
<rect x="1753.51" y="151.88" width="23.22" height="17.19" fill="#0e8a74"/>
<rect x="1753.51" y="169.06" width="23.22" height="78.94" fill="#f6e8b2"/>
<rect x="1753.51" y="248.00" width="23.22" height="27.60" fill="#f6e8b2"/>
<rect x="1753.51" y="275.60" width="23.22" height="1.04" fill="#0e8a74"/>
<rect x="1753.51" y="276.65" width="23.22" height="10.94" fill="#f6e8b2"/>
<rect x="1753.51" y="287.58" width="23.22" height="1.04" fill="#0e8a74"/>
<rect x="1753.51" y="288.62" width="23.22" height="19.27" fill="#f6e8b2"/>
<rect x="1753.51" y="307.90" width="23.22" height="1.04" fill="#0e8a74"/>
<rect x="1753.51" y="308.94" width="23.22" height="57.06" fill="#f6e8b2"/>
<rect x="1753.51" y="366.00" width="23.22" height="16.67" fill="#f6e8b2"/>
<rect x="1753.51" y="382.67" width="23.22" height="1.56" fill="#0e8a74"/>
<rect x="1753.51" y="384.23" width="23.22" height="9.38" fill="#f6e8b2"/>
<rect x="1753.51" y="393.60" width="23.22" height="3.12" fill="#0e8a74"/>
<rect x="1753.51" y="396.73" width="23.22" height="32.29" fill="#f6e8b2"/>
<rect x="1753.51" y="429.02" width="23.22" height="54.98" fill="#0e8a74"/>
<rect x="1753.51" y="484.00" width="23.22" height="118.00" fill="#0e8a74"/>
<rect x="1753.51" y="602.00" width="23.22" height="118.00" fill="#0e8a74"/>
<rect x="1753.51" y="720.00" width="23.22" height="94.79" fill="#0e8a74"/>
<rect x="1753.51" y="814.79" width="23.22" height="1.56" fill="#f6e8b2"/>
<rect x="1753.51" y="816.35" width="23.22" height="21.65" fill="#0e8a74"/>
<rect x="1753.51" y="838.00" width="23.22" height="112.00" fill="#0e8a74"/>
<rect x="1753.51" y="950.00" width="23.22" height="50.52" fill="#0e8a74"/>
<rect x="1753.51" y="1000.52" width="23.22" height="1.04" fill="#f6e8b2"/>
<rect x="1753.51" y="1001.56" width="23.22" height="56.94" fill="#0e8a74"/>
<rect x="1776.73" y="132.30" width="23.22" height="261.00" fill="#fdbe4b"/>
<rect x="1776.73" y="393.30" width="23.22" height="665.20" fill="#0e8a74"/>
<rect x="1776.73" y="133.00" width="23.22" height="1.20" fill="#0e8a74"/>
<rect x="1776.73" y="149.90" width="23.22" height="1.20" fill="#0e8a74"/>
<rect x="1776.73" y="274.90" width="23.22" height="1.20" fill="#0e8a74"/>
<rect x="1776.73" y="360.40" width="23.22" height="1.20" fill="#0e8a74"/>
<rect x="1776.73" y="381.60" width="23.22" height="1.20" fill="#0e8a74"/>
<rect x="1776.73" y="384.60" width="23.22" height="1.20" fill="#0e8a74"/>
<rect x="1776.73" y="307.40" width="23.22" height="1.20" fill="#0e8a74"/>
<rect x="1776.73" y="152.00" width="23.22" height="17.20" fill="#0e8a74"/>
<rect x="1776.73" y="814.60" width="23.22" height="1.20" fill="#fdbe4b"/>
<rect x="1776.73" y="929.40" width="23.22" height="1.20" fill="#fdbe4b"/>
<rect x="1799.95" y="132.30" width="23.22" height="154.20" fill="#0e8a74"/>
<rect x="1799.95" y="286.50" width="23.22" height="2.50" fill="#fdbe4b"/>
<rect x="1799.95" y="289.00" width="23.22" height="769.50" fill="#0e8a74"/>
<rect x="1799.95" y="814.60" width="23.22" height="1.20" fill="#fdbe4b"/>
<rect x="1799.95" y="929.40" width="23.22" height="1.20" fill="#fdbe4b"/>
<rect x="1823.17" y="132.30" width="23.22" height="261.00" fill="#fdbe4b"/>
<rect x="1823.17" y="393.30" width="23.22" height="665.20" fill="#0e8a74"/>
<rect x="1823.17" y="133.00" width="23.22" height="1.20" fill="#0e8a74"/>
<rect x="1823.17" y="149.90" width="23.22" height="1.20" fill="#0e8a74"/>
<rect x="1823.17" y="274.90" width="23.22" height="1.20" fill="#0e8a74"/>
<rect x="1823.17" y="360.40" width="23.22" height="1.20" fill="#0e8a74"/>
<rect x="1823.17" y="381.60" width="23.22" height="1.20" fill="#0e8a74"/>
<rect x="1823.17" y="384.60" width="23.22" height="1.20" fill="#0e8a74"/>
<rect x="1823.17" y="307.40" width="23.22" height="1.20" fill="#0e8a74"/>
<rect x="1823.17" y="152.00" width="23.22" height="17.20" fill="#0e8a74"/>
<rect x="1823.17" y="814.60" width="23.22" height="1.20" fill="#fdbe4b"/>
<rect x="1823.17" y="929.40" width="23.22" height="1.20" fill="#fdbe4b"/>
<rect x="1823.17" y="774.60" width="23.22" height="1.20" fill="#ffffff"/>
<rect x="1846.39" y="132.30" width="23.22" height="926.20" fill="#fdbe4b"/>
<rect x="1846.39" y="140.60" width="23.22" height="1.40" fill="#0e8a74"/>
<rect x="1846.39" y="144.80" width="23.22" height="4.80" fill="#0e8a74"/>
<rect x="1846.39" y="288.60" width="23.22" height="1.20" fill="#a9a455"/>
<rect x="1846.39" y="360.40" width="23.22" height="1.20" fill="#0e8a74"/>
<rect x="1846.39" y="471.50" width="23.22" height="1.20" fill="#0e8a74"/>
<rect x="1846.39" y="1030.40" width="23.22" height="1.20" fill="#0e8a74"/>
<rect x="1869.61" y="132.30" width="23.22" height="264.20" fill="#0e8a74"/>
<rect x="1869.61" y="396.50" width="23.22" height="32.25" fill="#fdbe4b"/>
<rect x="1869.61" y="428.75" width="23.22" height="629.75" fill="#0e8a74"/>
<rect x="1892.83" y="132.30" width="23.22" height="297.50" fill="#fdbe4b"/>
<rect x="1892.83" y="429.80" width="23.22" height="628.70" fill="#0e8a74"/>
<rect x="1892.83" y="133.00" width="23.22" height="1.20" fill="#0e8a74"/>
<rect x="1892.83" y="149.90" width="23.22" height="1.20" fill="#0e8a74"/>
<rect x="1892.83" y="274.90" width="23.22" height="1.20" fill="#0e8a74"/>
<rect x="1892.83" y="360.40" width="23.22" height="1.20" fill="#0e8a74"/>
<rect x="1892.83" y="381.60" width="23.22" height="1.20" fill="#0e8a74"/>
<rect x="1892.83" y="384.60" width="23.22" height="1.20" fill="#0e8a74"/>
<rect x="1892.83" y="307.40" width="23.22" height="1.20" fill="#0e8a74"/>
<rect x="1892.83" y="152.00" width="23.22" height="17.20" fill="#0e8a74"/>
<rect x="1892.83" y="393.30" width="23.22" height="3.20" fill="#0e8a74"/>
<rect x="1892.83" y="814.60" width="23.22" height="1.20" fill="#fdbe4b"/>
<rect x="1892.83" y="929.40" width="23.22" height="1.20" fill="#fdbe4b"/>
<rect x="1916.05" y="132.30" width="23.22" height="298.10" fill="#fdbe4b"/>
<rect x="1916.05" y="430.40" width="23.22" height="628.10" fill="#0e8a74"/>
<rect x="1916.05" y="133.00" width="23.22" height="1.20" fill="#0e8a74"/>
<rect x="1916.05" y="149.90" width="23.22" height="1.20" fill="#0e8a74"/>
<rect x="1916.05" y="274.90" width="23.22" height="1.20" fill="#0e8a74"/>
<rect x="1916.05" y="360.40" width="23.22" height="1.20" fill="#0e8a74"/>
<rect x="1916.05" y="381.60" width="23.22" height="1.20" fill="#0e8a74"/>
<rect x="1916.05" y="384.60" width="23.22" height="1.20" fill="#0e8a74"/>
<rect x="1916.05" y="307.40" width="23.22" height="1.20" fill="#0e8a74"/>
<rect x="1916.05" y="152.00" width="23.22" height="17.20" fill="#0e8a74"/>
<rect x="1916.05" y="393.30" width="23.22" height="3.20" fill="#0e8a74"/>
<rect x="1916.05" y="428.30" width="23.22" height="1.20" fill="#ffffff"/>
<rect x="1916.05" y="723.15" width="23.22" height="1.20" fill="#ffffff"/>
<rect x="1916.05" y="814.60" width="23.22" height="1.20" fill="#ffffff"/>
<rect x="1916.05" y="984.60" width="23.22" height="1.20" fill="#ffffff"/>
<rect x="1916.05" y="1036.70" width="23.22" height="1.20" fill="#ffffff"/>
<rect x="1916.05" y="1052.90" width="23.22" height="1.20" fill="#ffffff"/>
<rect x="1916.05" y="929.50" width="23.22" height="3.30" fill="#ffffff"/>
<rect x="1939.27" y="132.30" width="23.22" height="926.20" fill="#fdbe4b"/>
<rect x="1939.27" y="133.00" width="23.22" height="1.20" fill="#0e8a74"/>
<rect x="1939.27" y="149.90" width="23.22" height="1.20" fill="#0e8a74"/>
<rect x="1939.27" y="274.90" width="23.22" height="1.20" fill="#0e8a74"/>
<rect x="1939.27" y="360.40" width="23.22" height="1.20" fill="#0e8a74"/>
<rect x="1939.27" y="381.60" width="23.22" height="1.20" fill="#0e8a74"/>
<rect x="1939.27" y="384.60" width="23.22" height="1.20" fill="#0e8a74"/>
<rect x="1939.27" y="152.00" width="23.22" height="17.20" fill="#0e8a74"/>
<rect x="1939.27" y="393.30" width="23.22" height="2.20" fill="#0e8a74"/>
<rect x="1939.27" y="563.20" width="23.22" height="1.20" fill="#0e8a74"/>
<rect x="1939.27" y="428.30" width="23.22" height="1.20" fill="#ffffff"/>
<rect x="1939.27" y="723.15" width="23.22" height="1.20" fill="#ffffff"/>
<rect x="1939.27" y="931.60" width="23.22" height="1.20" fill="#ffffff"/>
<rect x="1939.27" y="984.60" width="23.22" height="1.20" fill="#ffffff"/>
<rect x="1939.27" y="1036.70" width="23.22" height="1.20" fill="#ffffff"/>
<rect x="1939.27" y="1052.90" width="23.22" height="1.20" fill="#ffffff"/>
<rect x="1962.49" y="132.30" width="23.22" height="926.20" fill="#fdbe4b"/>
<rect x="1962.49" y="288.60" width="23.22" height="1.20" fill="#0e8a74"/>
<rect x="1962.49" y="346.50" width="23.22" height="1.20" fill="#0e8a74"/>
<rect x="1962.49" y="360.40" width="23.22" height="1.20" fill="#0e8a74"/>
<rect x="1962.49" y="536.10" width="23.22" height="1.20" fill="#0e8a74"/>
<rect x="1962.49" y="563.20" width="23.22" height="1.20" fill="#0e8a74"/>
<rect x="1962.49" y="854.40" width="23.22" height="1.20" fill="#0e8a74"/>
<rect x="1962.49" y="514.60" width="23.22" height="16.65" fill="#0e8a74"/>
<rect x="1962.49" y="428.30" width="23.22" height="1.20" fill="#ffffff"/>
<rect x="1962.49" y="723.15" width="23.22" height="1.20" fill="#ffffff"/>
<rect x="1962.49" y="931.60" width="23.22" height="1.20" fill="#ffffff"/>
<rect x="1962.49" y="984.60" width="23.22" height="1.20" fill="#ffffff"/>
<rect x="1962.49" y="1036.70" width="23.22" height="1.20" fill="#ffffff"/>
<rect x="1962.49" y="1052.90" width="23.22" height="1.20" fill="#ffffff"/></g>
<path d="M69.5 1105.5H1996.5" stroke="#3c3c3c" stroke-width="1.1" fill="none"/>
<path d="M143.4 1105V1106.8M272.7 1105V1106.8M402.0 1105V1106.8M531.3 1105V1106.8M661.6 1105V1106.8M791.5 1105V1106.8M921.1 1105V1106.8M1050.4 1105V1106.8M1180.0 1105V1106.8M1309.3 1105V1106.8M1374.5 1105V1106.8M1400.7 1105V1106.8M1426.3 1105V1106.8M1452.2 1105V1106.8M1478.3 1105V1106.8M1504.3 1105V1106.8M1529.8 1105V1106.8M1549.3 1105V1106.8" stroke="#555" stroke-width="1" fill="none"/>
<text x="0" y="302" font-size="24.3" font-weight="bold">Country</text>
<rect x="13.9" y="316.90" width="32.8" height="19.75" fill="#49006a"/>
<text x="49" y="331.6" font-size="13.8">Australia</text>
<rect x="13.9" y="336.60" width="32.8" height="20.25" fill="#a63603"/>
<text x="49" y="351.6" font-size="13.8">Austria</text>
<rect x="13.9" y="356.80" width="32.8" height="20.05" fill="#b30000"/>
<text x="49" y="371.7" font-size="13.8">Belarus</text>
<rect x="13.9" y="376.80" width="32.8" height="20.45" fill="#993404"/>
<text x="49" y="391.9" font-size="13.8">Bulgaria</text>
<rect x="13.9" y="397.20" width="32.8" height="19.95" fill="#081d58"/>
<text x="49" y="412.0" font-size="13.8">Canada</text>
<rect x="13.9" y="417.10" width="32.8" height="20.35" fill="#00441b"/>
<text x="49" y="432.1" font-size="13.8">Chile</text>
<rect x="13.9" y="437.40" width="32.8" height="20.65" fill="#7f0000"/>
<text x="49" y="452.6" font-size="13.8">Estonia</text>
<rect x="13.9" y="458.00" width="32.8" height="20.85" fill="#662506"/>
<text x="49" y="473.3" font-size="13.8">Finland</text>
<rect x="13.9" y="478.80" width="32.8" height="19.35" fill="#ef6548"/>
<text x="49" y="493.4" font-size="13.8">France</text>
<rect x="13.9" y="498.10" width="32.8" height="19.45" fill="#fec04e"/>
<text x="49" y="512.7" font-size="13.8">Germany</text>
<rect x="13.9" y="517.50" width="32.8" height="19.55" fill="#c7e9c0"/>
<text x="49" y="532.1" font-size="13.8">India</text>
<rect x="13.9" y="537.00" width="32.8" height="18.95" fill="#7f2704"/>
<text x="49" y="551.4" font-size="13.8">Italy</text>
<rect x="13.9" y="555.90" width="32.8" height="19.55" fill="#006d2c"/>
<text x="49" y="570.5" font-size="13.8">Japan</text>
<rect x="13.9" y="575.40" width="32.8" height="19.55" fill="#fdbb84"/>
<text x="49" y="590.0" font-size="13.8">Norway</text>
<rect x="13.9" y="594.90" width="32.8" height="19.15" fill="#a1d99b"/>
<text x="49" y="609.4" font-size="13.8">Philippines</text>
<rect x="13.9" y="614.00" width="32.8" height="19.15" fill="#fe9929"/>
<text x="49" y="628.4" font-size="13.8">Poland</text>
<rect x="13.9" y="633.10" width="32.8" height="19.35" fill="#ec7014"/>
<text x="49" y="647.6" font-size="13.8">Russia</text>
<rect x="13.9" y="652.40" width="32.8" height="19.65" fill="#fc8d59"/>
<text x="49" y="667.1" font-size="13.8">Slovenia</text>
<rect x="13.9" y="672.00" width="32.8" height="19.15" fill="#31a354"/>
<text x="49" y="686.4" font-size="13.8">South Korea</text>
<rect x="13.9" y="691.10" width="32.8" height="18.85" fill="#d7301f"/>
<text x="49" y="705.4" font-size="13.8">Spain</text>
<rect x="13.9" y="709.90" width="32.8" height="19.75" fill="#d94801"/>
<text x="49" y="724.6" font-size="13.8">Sweden</text>
<rect x="13.9" y="729.60" width="32.8" height="19.15" fill="#cc4c02"/>
<text x="49" y="744.1" font-size="13.8">The Netherlands</text>
<rect x="13.9" y="748.70" width="32.8" height="19.15" fill="#fdd49e"/>
<text x="49" y="763.1" font-size="13.8">UK</text>
<rect x="13.9" y="767.80" width="32.8" height="20.35" fill="#253494"/>
<text x="49" y="782.9" font-size="13.8">USA</text>
<text x="143.6" y="303.7" font-size="24.3" font-weight="bold">Continent</text>
<rect x="165.1" y="319.00" width="35.8" height="20.95" fill="#ffa500"/>
<text x="203.3" y="335.1" font-size="15.3">Asia</text>
<rect x="165.1" y="339.90" width="35.8" height="22.25" fill="#ff0000"/>
<text x="203.3" y="356.8" font-size="15.3">Europe</text>
<rect x="165.1" y="362.10" width="35.8" height="22.05" fill="#0000ff"/>
<text x="203.3" y="378.8" font-size="15.3">North America</text>
<rect x="165.1" y="384.10" width="35.8" height="22.25" fill="#00ff00"/>
<text x="203.3" y="401.2" font-size="15.3">Oceania</text>
<rect x="165.1" y="406.30" width="35.8" height="22.85" fill="#ffc0cb"/>
<text x="203.3" y="423.2" font-size="15.3">South America</text>
<text x="399.5" y="241.5" font-size="24.3" font-weight="bold" text-anchor="middle">Sex of</text>
<text x="399.5" y="271.2" font-size="24.3" font-weight="bold" text-anchor="middle">sexual</text>
<text x="399.5" y="300.2" font-size="24.3" font-weight="bold" text-anchor="middle">partner</text>
<rect x="372.4" y="318.30" width="29.8" height="71.75" fill="#d7191c"/>
<text x="410" y="363.0" font-size="17.3">MSW</text>
<rect x="372.4" y="390.00" width="29.8" height="72.05" fill="#fdae61"/>
<text x="410" y="430.9" font-size="17.3">MSM</text>
<rect x="372.4" y="462.00" width="29.8" height="71.75" fill="#abd9e9"/>
<text x="410" y="502.2" font-size="17.3">MSMW</text>
<text x="266.5" y="688.8" font-size="24.3" font-weight="bold">MIC</text>
<rect x="271.9" y="692.90" width="31" height="72.75" fill="#03251f"/>
<text x="317.5" y="737.0" font-size="17.9">High-level</text>
<rect x="271.9" y="765.60" width="31" height="73.05" fill="#0e8a74"/>
<text x="317.5" y="808.0" font-size="17.9">Elevated</text>
<rect x="271.9" y="838.60" width="31" height="72.85" fill="#fdbe4b"/>
<text x="317.5" y="875.0" font-size="17.9">Susceptible</text>
<text x="411.8" y="656.7" font-size="24.3" font-weight="bold"><tspan font-style="italic">penA</tspan> allele</text>
<text x="477.1" y="687" font-size="24.3" font-weight="bold" text-anchor="middle">type</text>
<rect x="454.4" y="693.40" width="31.2" height="72.65" fill="#03251f"/>
<text x="494.2" y="741.6" font-size="17.9">Other mosaic alleles</text>
<rect x="454.4" y="766.00" width="31.2" height="73.45" fill="#0e8a74"/>
<text x="494.2" y="812.4" font-size="17.9"><tspan font-style="italic">penA</tspan>-34*</text>
<rect x="454.4" y="839.40" width="31.2" height="73.05" fill="#fdbe4b"/>
<text x="494.2" y="879.4" font-size="17.9">Non-Mosaic</text>
<text x="160.9" y="122.8" font-size="28" font-weight="bold" style="fill:#ff0000" text-anchor="middle">1</text>
<text x="851.0" y="251.0" font-size="28" font-weight="bold" style="fill:#ff0000" text-anchor="middle">2</text>
<text x="1065.3" y="407.9" font-size="28" font-weight="bold" style="fill:#ff0000" text-anchor="middle">3</text>
<text x="1122.0" y="418.7" font-size="28" font-weight="bold" style="fill:#ff0000" text-anchor="middle">4</text>
<text x="1233.2" y="425.0" font-size="28" font-weight="bold" style="fill:#ff0000" text-anchor="middle">5</text>
<text x="1260.3" y="438.5" font-size="28" font-weight="bold" style="fill:#ff0000" text-anchor="middle">6</text>
<text x="1322.4" y="449.7" font-size="28" font-weight="bold" style="fill:#ff0000" text-anchor="middle">7</text>
<text x="1334.0" y="488.0" font-size="28" font-weight="bold" style="fill:#ff0000" text-anchor="middle">8</text>
<text x="1388.2" y="491.2" font-size="28" font-weight="bold" style="fill:#ff0000" text-anchor="middle">9</text>
<text x="1226.3" y="346.3" font-size="18" font-weight="bold" style="fill:#0b2e29" text-anchor="middle">Clade AB2</text>
<text x="1225.5" y="688" font-size="18" font-weight="bold" style="fill:#0a0a0a" text-anchor="middle">Clade AB1</text>
<text transform="translate(152.2 1113.6) rotate(-90) scale(0.93 1)" x="0" y="0" font-size="18" font-weight="bold" text-anchor="end" dy="0.35em">1800</text>
<text transform="translate(281.0 1113.6) rotate(-90) scale(0.93 1)" x="0" y="0" font-size="18" font-weight="bold" text-anchor="end" dy="0.35em">1820</text>
<text transform="translate(408.2 1113.6) rotate(-90) scale(0.93 1)" x="0" y="0" font-size="18" font-weight="bold" text-anchor="end" dy="0.35em">1840</text>
<text transform="translate(537.0 1113.6) rotate(-90) scale(0.93 1)" x="0" y="0" font-size="18" font-weight="bold" text-anchor="end" dy="0.35em">1860</text>
<text transform="translate(667.7 1113.6) rotate(-90) scale(0.93 1)" x="0" y="0" font-size="18" font-weight="bold" text-anchor="end" dy="0.35em">1880</text>
<text transform="translate(793.7 1113.6) rotate(-90) scale(0.93 1)" x="0" y="0" font-size="18" font-weight="bold" text-anchor="end" dy="0.35em">1900</text>
<text transform="translate(924.2 1113.6) rotate(-90) scale(0.93 1)" x="0" y="0" font-size="18" font-weight="bold" text-anchor="end" dy="0.35em">1920</text>
<text transform="translate(1053.2 1113.6) rotate(-90) scale(0.93 1)" x="0" y="0" font-size="18" font-weight="bold" text-anchor="end" dy="0.35em">1940</text>
<text transform="translate(1182.8 1113.6) rotate(-90) scale(0.93 1)" x="0" y="0" font-size="18" font-weight="bold" text-anchor="end" dy="0.35em">1960</text>
<text transform="translate(1311.8 1113.6) rotate(-90) scale(0.93 1)" x="0" y="0" font-size="18" font-weight="bold" text-anchor="end" dy="0.35em">1980</text>
<text transform="translate(1374.1 1113.6) rotate(-90) scale(0.93 1)" x="0" y="0" font-size="18" font-weight="bold" text-anchor="end" dy="0.35em">1990</text>
<text transform="translate(1398.4 1113.6) rotate(-90) scale(0.93 1)" x="0" y="0" font-size="18" font-weight="bold" text-anchor="end" dy="0.35em">1994</text>
<text transform="translate(1424.5 1113.6) rotate(-90) scale(0.93 1)" x="0" y="0" font-size="18" font-weight="bold" text-anchor="end" dy="0.35em">1998</text>
<text transform="translate(1450.4 1113.6) rotate(-90) scale(0.93 1)" x="0" y="0" font-size="18" font-weight="bold" text-anchor="end" dy="0.35em">2002</text>
<text transform="translate(1479.1 1113.6) rotate(-90) scale(0.93 1)" x="0" y="0" font-size="18" font-weight="bold" text-anchor="end" dy="0.35em">2006</text>
<text transform="translate(1504.6 1113.6) rotate(-90) scale(0.93 1)" x="0" y="0" font-size="18" font-weight="bold" text-anchor="end" dy="0.35em">2010</text>
<text transform="translate(1528.9 1113.6) rotate(-90) scale(0.93 1)" x="0" y="0" font-size="18" font-weight="bold" text-anchor="end" dy="0.35em">2014</text>
<text transform="translate(1552.6 1113.6) rotate(-90) scale(0.93 1)" x="0" y="0" font-size="18" font-weight="bold" text-anchor="end" dy="0.35em">2017</text>
<text transform="translate(1581.4 127.5) rotate(-51)" font-size="18" font-weight="bold">Country</text>
<text transform="translate(1604.6 127.5) rotate(-51)" font-size="18" font-weight="bold">Continent</text>
<text transform="translate(1627.8 127.5) rotate(-51)" font-size="18" font-weight="bold">Sex of sex partner</text>
<text transform="translate(1651.0 127.5) rotate(-51)" font-size="18" font-weight="bold">PEN</text>
<text transform="translate(1674.2 127.5) rotate(-51)" font-size="18" font-weight="bold">TET</text>
<text transform="translate(1697.5 127.5) rotate(-51)" font-size="18" font-weight="bold">CIP</text>
<text transform="translate(1720.7 127.5) rotate(-51)" font-size="18" font-weight="bold">CFM</text>
<text transform="translate(1743.9 127.5) rotate(-51)" font-size="18" font-weight="bold">CRO</text>
<text transform="translate(1767.1 127.5) rotate(-51)" font-size="18" font-weight="bold"><tspan font-style="italic">penA</tspan> allele type</text>
<text transform="translate(1790.3 127.5) rotate(-51)" font-size="18" font-weight="bold">I312</text>
<text transform="translate(1813.6 127.5) rotate(-51)" font-size="18" font-weight="bold">A316</text>
<text transform="translate(1836.8 127.5) rotate(-51)" font-size="18" font-weight="bold">D345</text>
<text transform="translate(1860.0 127.5) rotate(-51)" font-size="18" font-weight="bold">A501</text>
<text transform="translate(1883.2 127.5) rotate(-51)" font-size="18" font-weight="bold">F505</text>
<text transform="translate(1906.4 127.5) rotate(-51)" font-size="18" font-weight="bold">N512</text>
<text transform="translate(1929.7 127.5) rotate(-51)" font-size="18" font-weight="bold">G545</text>
<text transform="translate(1952.9 127.5) rotate(-51)" font-size="18" font-weight="bold">A549</text>
<text transform="translate(1976.1 127.5) rotate(-51)" font-size="18" font-weight="bold">P551</text>
</svg>
</body></html>
